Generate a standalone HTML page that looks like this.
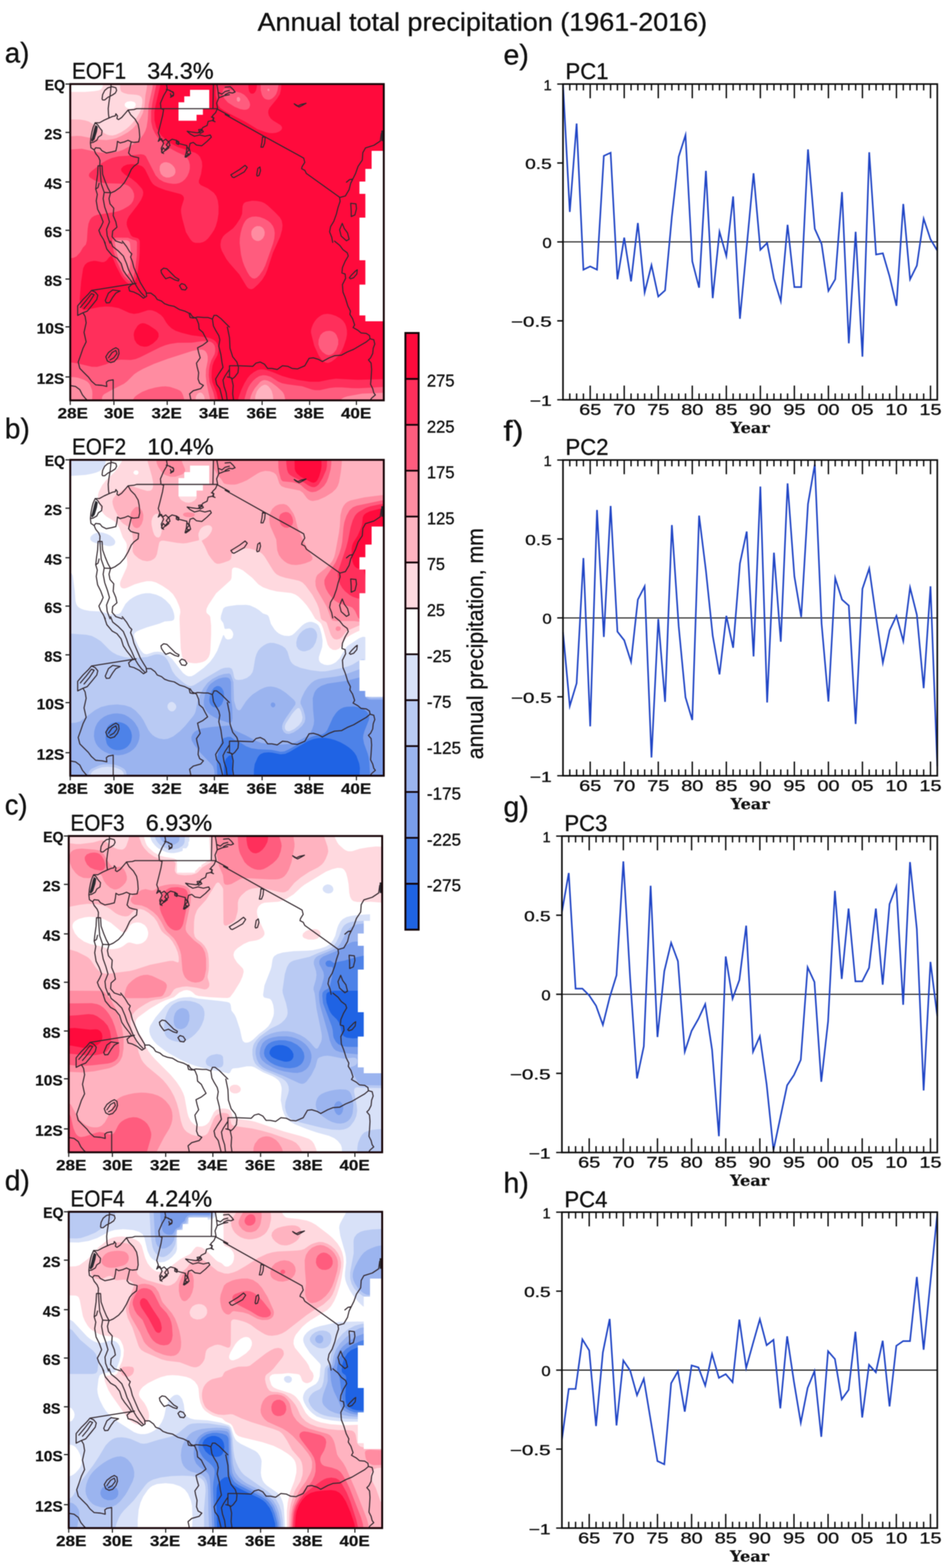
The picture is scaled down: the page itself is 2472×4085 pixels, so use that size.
<!DOCTYPE html>
<html lang="en">
<head>
<meta charset="utf-8">
<title>Annual total precipitation (1961-2016) – EOF patterns and principal components</title>
<style>
html,body{margin:0;padding:0;background:#fff}
body{width:2472px;height:4085px;overflow:hidden}
svg{display:block}
text{white-space:pre}
</style>
</head>
<body>
<svg width="2472" height="4085" viewBox="0 0 2472 4085">
<rect width="2472" height="4085" fill="#fff"/>
<filter id="soft" x="0" y="0" width="2472" height="4085" filterUnits="userSpaceOnUse" color-interpolation-filters="sRGB"><feGaussianBlur stdDeviation="1.1"/></filter>
<g filter="url(#soft)">
<rect width="2472" height="4085" fill="#fff"/>
<defs>
<clipPath id="mapclip"><rect x="0" y="0" width="816.7" height="824"/></clipPath>
</defs>
<g transform="translate(183.0,219.0) scale(1.00000,1.00000)">
<g clip-path="url(#mapclip)">
<rect x="-2" y="-2" width="830" height="830" fill="#fff"/><path fill="#ffd9df" fill-rule="evenodd" d="M84.8 -6L822 -6L822 828L-6 828L-6 20.5L38 20.4L62 18.4L74 16.4L79.5 14L83.1 10L84.7 4ZM148 45.9L142.8 50L141.7 54L142.9 58L147.2 62L154 64L160 63.8L166 61.8L169.7 58L170.6 52L168.2 48L166 46.4L158 44.4Z"/><path fill="#ffb3c0" fill-rule="evenodd" d="M129.5 -6L822 -6L822 828L-6 828L-6 92L26 92.4L38 94.5L48 97.6L62 105.9L88.8 128L96 131.8L102 133.6L110 134L118.8 132L131.9 126L144 118.2L154 110L163.4 100L172 88.5L180 75.6L184 66.7L186 59.5L187.7 48L187.6 40L185.4 34L180 29.9L172 28.1L150 26.2L140 23.6L134 20.4L132 17.9L130.2 12Z"/><path fill="#ff8ca1" fill-rule="evenodd" d="M200.5 -6L822 -6L822 828L529.3 828L528.1 812L525 800L521.6 794L516 787.2L512 784.4L508 783.3L504 783.8L498 787L492 792.4L486.4 800L482.1 812L480.8 828L350.3 828L349.9 818L348 811.6L344 805.9L340.9 804L338 803.5L332 806.4L328.2 812L326.7 818L326.2 828L-6 828L-6 136.7L18 135.1L28 135.4L76 145.1L94 145.9L110 143.6L120 140.9L134 134.8L150 125.7L162.5 116L171.5 106L182.9 88L188.9 76L193.5 58L195.7 30L199.7 8Z"/><path fill="#ff5c7e" fill-rule="evenodd" d="M215.6 -6L822 -6L822 804.1L760 806.5L722 813.6L714 815.9L707 820L704.2 824L704.2 828L560 828L559.6 820L557.5 810L554.5 804L551.1 800L538 787.9L524 777.6L514 772.5L506 771.1L500 772.5L494.7 776L481 792L475 802L470.7 812L467.8 822L467.6 828L364.1 828L363.4 818L355.1 780L353 760L353.5 744L358.1 720L358.1 710L356 702L352.1 696L348 693.2L342 691.7L332 692.4L318 695.2L254 715.8L218 729L190 741.7L176 749.4L166.5 756L148 774.4L140 780.7L110 795.7L88.2 808L84.6 812L82.9 816L82.1 828L56.7 828L57.7 806L57 798L51.6 784L48 778.7L44 774.9L36 770.4L20 765L10 763.5L-6 762.9L-6 170.8L30 168.4L74 178.1L92 179.4L110 178.3L124 176L136 172L158 160.6L174 150.3L182.7 142L190 132.2L195.5 122L198.9 112L201.9 92L204.1 54L214.1 10ZM244 203.9L236.8 208L233.3 214L232.7 224L236 234L242 240.3L250 243.4L258 243.5L267.2 240L271.6 236L274.1 230L273.5 222L270.5 216L264.9 210L258 205.6L250 203.4ZM436 33.7L433.9 36L433.7 42L436 45.4L438 46.1L440 45.7L442.7 42L442.7 38L440 33.9ZM486 370L480 372.7L474.5 378L471.8 384L471.5 392L473.9 400L478 405.1L484 408.3L490 408.9L496 407L502 401.7L505.9 394L506.7 386L504.2 378L500 373.3L494 370.2ZM516 11.7L514 13.1L513.5 16L516 18.5L518 17.9L518.9 16L518 12.6ZM120 407.1L118 408L116.6 410L116.2 414L119.9 434L124 449.7L140 488.2L144 494.6L148 496.6L150 495.6L152.9 490L156 470L157.7 436L155.4 414L153.5 410L148 407L128 406.4ZM237.7 788L248 787.4L260 789L278 795L286 798.8L290 802.7L293.6 810L296.4 820L296.9 828L162.9 828L163.3 822L168 815.1L174.1 810L187 802L204 795.2L222 790.6Z"/><path fill="#ff2f5b" fill-rule="evenodd" d="M224.2 -6L496 -6L496.1 16L499.2 28L502.4 34L506 37.7L510 39.8L516 41L521.6 40L526 37.6L532 32.1L536.5 26L540 15.8L542.4 2L542.6 -6L822 -6L822 788.7L752 792.5L734 792.3L708 790.2L690 790.2L676 791.7L650 797.4L638 797.6L630 796.1L604 787.3L566 782.3L552 779.4L542 775.3L522 762.6L510 759L502 758.5L492 761.1L484 765.9L476 773.1L468.8 782L464 790L459.8 800L453.9 820L453.3 828L376.9 828L376.5 820L373 804L362.5 776L360.8 758L361.5 744L363.5 732L367.4 720L376 703.7L377.6 696L377.5 688L376 681.4L372 675.4L366 671.6L356 669.4L344 669.8L316 673.8L280 673.9L260 676.9L248 680.3L234 685.7L182 711.7L170 716.6L158 718.8L132 717.9L122 718.9L114 721.3L92 730.6L70 736.7L56 736.6L18 727.6L4 725.6L-6 725.3L-6 454.1L8 452.8L16 449.2L26 438.3L33.1 426L40.8 418L43.3 408L45.3 378L47.4 364L51.2 354L56 347.8L62 343.7L70 340.7L116 333.6L128 330.3L137.9 326L151.7 318L158.8 312L163.9 304L166.5 294L166 285.4L162.1 276L156 268.5L150 264.2L142 261.3L132 259.6L90 258.3L74 255.3L62 250.1L52 244L50 242L48.3 238L50 232.4L56 226.5L82.3 206L94 199L108 192.7L126 188.2L150 186.7L184 182.8L192 184.2L196.8 188L222.4 238L232 248.2L244 254.9L256 258.3L268 260L276 259.8L284 258L292 254L299 248L304.9 240L309.3 230L311.5 220L311.5 210L309 200L304.4 192L297.4 186L278 177.3L266 170.8L254 163.6L244 156.3L235.3 148L227.1 138L220.6 128L214.8 116L210.7 98L210.7 72L213.8 50L223.7 4ZM402 11.3L399.1 14L397.3 18L396.2 24L396.5 28L401.8 38L410.4 48L428 59.3L442 65L452 66.9L458 66.8L462 65.6L466 62.3L468.4 56L468.3 52L466.7 46L461 36L453.4 28L444 22.8L428 18.4L410 11.6L406 10.7ZM474 345.6L466 348.2L460.1 352L456 356.5L451.6 364L447.6 374L443.8 388L441.6 402L441.2 414L444.7 444L449.1 462L453.6 474L461.3 490L467.5 500L474 505.8L480 506.9L486 504.5L492.8 498L502 484.8L508 472.8L528.1 416L531.6 402L532.7 388L531.2 378L528 370L522.1 362L516 356.7L506 351L494 346.4L484 344.9ZM666 643.8L658 647.4L651.6 654L647 666L646.4 678L650 688.9L656.8 698L666 704.6L672 706.3L676 706.1L681.6 704L686 700.8L693 692L698 678L698.1 666L693.7 654L690 649.1L686.1 646L681.9 644L676 642.7ZM118 400L114 401L110.3 404L108.7 410L112.6 434L119.8 458L132.2 486L140 500L152 511.5L156 513.4L158 513.4L162 510.1L164 505.8L169 484L173.5 446L173.9 412L172 408.4L170 407.2L162 405.2L150 400.2Z"/><path fill="#ff0a3c" fill-rule="evenodd" d="M234.9 -6L380.2 -6L378.6 22L379 30L385.1 54L390 62L406 72.5L455.8 98L488 117.8L508 125.1L518 127.4L526 128L536 126.9L544 124.1L549.4 120L551.6 116L551.5 112L548 107L528 94.8L522 89.6L517.3 82L515.6 74L516.4 68L519.1 62L538.8 38L546.2 26L548.9 14L550.3 -6L822 -6L822 768.5L748 770.5L692 767.6L676 769.7L648 775.4L624 775.4L592 770.8L570 765.7L552 760.4L528 750.7L512 745.3L504 743.4L496 743.2L488 745.1L478 750.4L468.5 758L461.8 766L453.4 780L445 798L438.1 818L437 828L384.8 828L384.4 820L381.1 804L370 776.2L368.1 764L368.5 748L370.4 734L374 723.3L383.5 706L385.8 694L385.5 686L383.5 678L379.9 672L374 666.7L366 662.7L358 660.3L316 654.4L290 648.1L274 642.5L264 636.4L256 629.1L250.5 622L242.1 608L236 601.4L224.8 594L214 589.7L208 588.9L202 589.2L178 597L166 598.7L154 596.2L126 583.5L108 580.2L92 579.6L76 580.9L38 588.6L34 588.2L30 585.2L26.2 574L24.6 560L28.4 514L33.6 480L38 471.1L44 465.6L52 462.2L62 460.5L68 460.9L82 464L88 463.8L94 460.6L102 450.5L106 447.8L108 448.6L110 451.3L119.4 474L133 500L138.6 508L146 516.1L154 521.5L158 522.1L162 521.1L167.2 516L171.5 506L175.7 488L179.5 458L181 436L181.1 410L180 405.9L176.7 402L162.9 398L158.1 394L148.5 372L147.2 366L147.1 360L149.1 352L153.3 344L174.9 316L184.3 302L189.4 290L190.2 282L188.5 276L186.2 272L173.7 258L160 246.8L142 235.7L134.1 228L132.4 224L132.9 220L138.5 214L148 209.7L160 208.5L174 209.6L186 213.5L190 216.4L194.7 222L210 253.1L215 260L220 264.3L230 269.6L248 276.3L286 286.3L290 288.1L294 291.4L296 296L296.1 300L289.8 320L288.4 328L288.9 336L291.6 350L301.4 386L311.1 402L316 408.3L320 411.8L326 413.7L338 413.7L346 411.7L352.7 408L359.2 402L368.2 390L374.7 380L379.2 370L383.2 356L386.2 338L386.3 318L384.5 304L380.4 292L374 283.3L358 271.4L340 263.3L335.3 258L335 252L340.8 234L343.8 214L343 202L338.1 190L333.1 184L326 179.2L280 163.9L268.1 158L256 150.3L246 142.7L237.3 134L229.9 124L224 112.4L219.5 94L219.2 74L222 56.4L234.3 4ZM474 303.9L458 306.9L454 309.1L451.2 312L448.8 318L447.6 338L442.8 350L432.3 366L424 375.9L404 391L398 397L393.2 406L391.2 418L392.1 426L394.7 434L406.7 456L414 465.7L440.5 496L460 528.2L464 532.3L470 534.6L474 533.9L478 531.9L489.2 522L500 509.7L508.4 496L513.4 484L528 439.2L546.6 398L551.7 380L553 368L551 356L546 347.2L533.4 334L514 316L506 310.3L498 306.8L486 304.4ZM660 599.8L654 602.3L648 606.2L642 611.5L636.8 618L632.2 626L629 634L627.1 642L627.1 648L635.6 682L647.6 708L654 717.3L660 722.9L666 725.9L672 726.4L680 723.5L690 716.3L698.7 708L705.8 698L712.1 684L718.7 664L720.9 652L720.7 642L718.8 632L715.7 624L710 616L702.9 610L692 604L680 600.1L670 598.6ZM463.6 -6L486.4 -6L486 7L484.1 16L480.6 22L476 25.2L470 24.4L466 19.3L464.2 10ZM183.7 624L188 623L194 623.5L204 627.7L222.5 640L228 646L229.9 650L230.3 658L226.1 666L215.2 676L204 682.5L198 684L192 684.2L182 682L173.4 676L167.3 666L165.3 654L165.9 648L167.8 642L175.1 630L179.7 626Z"/><path fill="#fff" d="M785 174H830V221H785ZM768.7 221H830V254H768.7ZM753.3 254H830V286H753.3ZM768.7 286H830V348H768.7ZM753.3 348H830V459H753.3ZM768.7 459H830V522.5H768.7ZM753.3 522.5H830V602.7H753.3ZM768.7 602.7H830V618H768.7ZM312 15H362V32H312ZM297 32H362V47.5H297ZM282 47.5H362V63.5H282ZM282 63.5H345.5V80H282ZM282 80H329V95.5H282Z"/>
<g fill="none" stroke="#33282e" stroke-width="2.8" stroke-linejoin="round" stroke-linecap="round"><path d="M82.9 38.7L84.3 27.6L89.8 16.6L98.1 9.7L109.1 6.9L118.8 9.7L120.8 16.6L117.4 23.5L109.1 29.0L98.1 34.5L89.8 41.4L84.3 41.4L82.9 38.7M106.4 -2.8L105.6 13.8L103.6 30.4L100.9 47.0L98.9 63.6L99.5 77.4L100.9 88.4M100.9 88.4L110.5 84.3L117.4 82.9L118.8 77.4L123.0 82.9L121.6 89.8L125.7 92.6L134.0 87.0L142.3 77.4L150.6 67.7M150.6 67.7L165.8 66.3L172.7 64.1L237.6 64.1L382.7 64.1M150.6 67.7L157.5 80.1L168.6 91.2L176.8 105.0L179.6 118.8L181.0 138.2L178.2 150.6M178.2 150.6L165.8 152.0L158.9 150.6L150.6 146.5L140.9 150.6L129.9 153.4L123.0 149.2L121.6 161.6L118.8 174.1L107.8 176.8L94.0 179.6L82.9 174.1L77.4 167.2L66.3 165.8L62.2 171.3M158.9 150.6L154.7 168.6L152.0 179.6L157.5 186.5L165.8 189.3L178.2 192.0L176.8 205.9L165.8 214.2L158.9 222.4L150.6 240.4L140.9 257.0L129.9 269.4L116.1 279.1L106.4 283.2L89.8 282.4M100.9 88.4L88.4 94.0L76.0 100.9L64.9 100.9L59.4 113.3L56.6 124.3L53.9 138.2L52.5 153.4L59.4 152.0L69.1 146.5L73.2 138.2L81.5 132.6L82.9 121.6L76.0 113.3L71.8 106.4L64.9 100.9M52.5 153.4L53.9 165.8L62.2 171.3L66.3 181.0L74.1 190.7L77.4 199.0L76.8 212.8M72.4 212.8L82.9 212.8M72.4 212.8L71.3 234.9L68.5 254.2L66.3 273.6L70.5 287.4L67.7 304.0L71.3 326.1L79.6 342.6L85.7 359.2L80.7 370.3L74.6 381.3L78.8 392.4L85.7 403.4L91.2 414.5M82.9 212.8L84.3 234.9L91.2 254.2L98.1 270.8L105.0 283.2L100.9 298.4L103.6 312.2L113.3 323.3L111.9 342.6L118.8 359.2L121.6 373.0L110.5 382.7L109.1 397.9L118.8 409.0L135.4 414.5M77.4 212.8L78.8 234.9L80.7 259.7L88.4 281.9L85.7 298.4L89.8 320.5L96.7 339.9L102.2 359.2L94.5 378.6L96.2 395.1L103.6 414.5M75.2 258.4L72.4 269.4L66.3 273.6M250.1 -2.8L252.8 13.8L243.2 30.4L234.9 49.7L236.3 64.1L243.2 66.3L240.4 82.9L234.9 105.0L229.3 127.1L233.5 138.2L229.3 149.2M250.1 13.8L259.7 16.6L269.4 23.5L268.6 30.4L261.1 34.5M229.3 149.2L237.6 142.3L243.2 154.7L237.1 167.2L239.0 179.6L245.9 174.1L252.0 165.8L259.7 160.3L257.0 149.2L265.3 143.7L276.3 146.5L281.9 154.7L292.9 157.5L304.0 160.3L302.6 176.8L299.0 190.1L306.7 182.9L313.6 181.0L309.5 165.8L312.2 154.7L320.5 152.0L328.8 158.9L342.6 160.8L356.5 149.2L367.5 138.2L364.7 132.6L350.9 136.0L337.1 132.6L323.3 136.0L312.2 129.9L304.5 123.0L315.0 124.9L331.6 127.1L342.6 121.6M382.7 64.9L378.6 74.6L370.3 82.9L373.6 94.0L359.2 97.3L356.5 107.8L345.4 113.3L339.9 121.6L334.4 127.1M381.3 -2.8L384.6 16.6L386.9 35.9L381.3 49.7L384.1 64.9M373.0 -2.8L371.7 64.1M385.5 22.1L395.1 26.3L403.4 19.3L414.5 16.6M386.9 35.9L400.7 30.4L414.5 27.6M382.7 64.9L414.5 82.3M233.5 140.9L240.4 149.2L248.7 143.7L255.6 150.6L250.1 158.9L257.0 165.8L248.7 172.7L241.8 165.8L237.6 176.8L243.2 181.0M304.0 163.0L309.5 171.3L302.6 179.6L310.9 183.8L301.2 190.7M276.3 146.5L283.2 150.6L281.9 157.5L276.3 154.7L276.3 146.5M334.4 118.8L342.6 117.4L346.8 124.3L338.5 128.5L334.4 118.8M367.5 85.7L374.4 88.4L370.3 95.3L377.2 98.1M259.7 18.0L268.0 20.7L269.4 27.6L262.5 31.8L261.1 24.9M403.3 79.2L502.2 134.7L598.5 187.5L608.1 193.0L610.9 204.0L604.0 215.0L602.6 220.5L610.9 224.7L615.0 232.9L701.6 294.8M500.9 137.5L507.7 138.9L506.4 154.0L502.2 164.4L496.7 164.4L499.5 151.2L500.9 137.5M422.5 242.5L418.4 236.5L425.2 232.4L441.7 222.2L455.5 211.7L461.0 217.2L453.3 228.8L436.8 238.1L426.6 243.6L422.5 242.5M485.7 237.0L488.5 220.0L494.0 215.9L495.6 225.5L491.8 238.1L487.1 239.8L485.7 237.0M583.4 51.4L593.0 56.9L601.8 52.8L614.2 50.0L604.5 55.5L596.3 59.7L588.0 55.5L583.4 51.4M403.3 8.2L417.0 6.9L423.9 13.7L429.4 20.6L422.5 23.4L414.2 22.0L403.3 27.5M818.5 118.2L810.2 129.2L807.5 148.5L791.0 159.5L769.0 166.4L762.1 178.7L760.7 198.0L749.7 214.5L742.9 233.7L736.0 247.5L730.5 258.5L726.4 275.0L716.7 291.5L701.6 295.6L703.0 305.2L697.5 321.7L693.4 338.2L686.5 357.5L678.2 371.2L675.5 385.0L681.0 398.7L683.7 412.5M730.5 310.7L744.2 312.1L745.6 324.5L741.5 341.0L731.9 345.1L731.9 330.0L730.5 310.7M708.5 363.0L714.0 376.7L722.2 387.7L726.4 404.2L719.5 408.4L705.7 396.0L701.6 379.5L708.5 363.0M719.5 255.7L727.7 248.9L734.6 247.5M88.4 409.2L95.3 430.0L109.1 446.5L121.6 453.4L132.6 467.3L138.2 485.2L146.5 497.7L157.5 511.5L164.4 521.1M135.4 409.2L146.5 423.1L154.7 436.9L160.3 442.4L157.0 450.7L161.6 461.7L165.8 478.3L174.1 497.7L182.4 517.0L190.7 530.8L197.6 541.9L199.0 552.9L190.7 557.9L179.6 548.8L165.8 541.9L154.7 539.1L152.0 529.4L160.3 522.0L171.3 519.2M105.0 409.2L110.5 423.1L124.3 434.1L138.2 447.9L146.5 467.3L152.0 483.8L160.3 500.4L168.6 519.8L176.8 533.6L185.1 544.6L193.4 552.9M171.3 519.2L55.3 537.7M19.3 602.7L19.3 577.8L33.2 561.2L47.0 547.4L55.3 537.7L64.9 541.9L71.8 550.2L69.1 561.2L58.0 575.0L44.2 591.6L33.2 595.8L19.3 602.7M26.3 581.9L41.4 564.0L55.3 546.0L62.2 548.8L49.7 568.1L35.9 584.7M91.2 564.0L99.5 544.6L110.5 536.3L129.9 539.1L118.8 544.6L110.5 555.7L102.2 569.5L94.0 570.1L91.2 564.0M236.3 485.2L243.2 479.7L251.5 481.1L262.5 492.1L273.6 503.2L283.2 508.7L281.9 512.9L272.2 510.1L259.7 503.2L248.7 507.3L243.2 500.4L237.6 492.1L236.3 485.2M284.6 525.3L290.1 519.8L298.4 522.5L304.0 530.8L299.8 536.3L290.1 535.0L284.6 525.3M199.0 544.6L210.0 544.6L221.1 552.9L226.6 561.2L237.6 565.4L245.9 572.3L257.0 576.4L270.8 579.2L284.6 587.5L298.4 591.6L309.5 597.1L312.2 608.2L320.5 609.6L331.6 606.8L348.2 608.2L359.2 608.2L370.3 612.3M312.2 597.1L317.8 605.4L328.8 611.0L334.4 624.8L335.7 638.6L345.4 646.9L350.9 657.9L357.8 670.4L345.4 680.0L331.6 686.9L334.4 699.4L338.5 713.2L328.8 727.0L330.2 735.3L334.4 751.9L333.0 768.5L337.1 779.5L346.8 785.0L339.9 793.3L320.5 798.9L310.9 807.1L315.0 826.5M370.3 612.3L373.0 630.3L378.6 641.3L386.9 655.2L389.6 666.2L386.9 682.8L392.4 704.9L395.1 724.2L397.9 738.1L386.9 754.6L378.6 768.5L381.3 782.3L389.6 793.3L393.8 809.9L397.9 826.5M370.3 612.3L374.4 602.7L381.3 602.7L392.4 611.0L403.4 622.0L414.5 633.1M414.5 743.6L403.4 760.2L397.9 771.2L400.7 787.8L406.2 804.4L409.0 826.5M92.6 710.4L99.5 699.4L110.5 691.1L118.8 686.9L125.7 691.1L127.1 702.1L123.0 713.2L114.7 722.9L105.0 725.6L96.7 721.5L92.6 710.4M99.5 713.2L109.1 699.4L118.8 693.9L121.6 702.1L113.3 713.2L103.6 718.7M33.2 595.8L38.7 605.4L41.4 622.0L35.9 646.9L41.4 671.7L33.2 688.3L27.6 704.9L20.7 724.2L24.9 740.8L35.9 751.9L47.0 762.9L55.3 774.0L66.3 783.7L82.9 785.0L95.3 787.8L94.0 776.7L99.5 772.6L111.9 770.4L111.9 826.5M-2.8 785.0L13.8 787.8L24.9 796.1L31.8 809.9L38.7 818.2L47.0 826.5M688.3 409.2L702.1 420.3L710.4 431.3L721.5 439.6L724.2 447.9L716.0 461.7L709.0 478.3L707.7 492.1L716.0 494.9L717.3 506.0L709.0 522.5L710.4 541.9L716.0 555.7L718.7 564.0L722.9 577.8L729.8 591.6L728.4 599.9L735.3 611.0L740.8 627.5L736.7 634.4L749.1 641.3L757.4 648.3L771.2 649.6L779.5 655.2L780.9 663.5L790.6 666.2L793.3 677.3L789.2 688.3L787.8 702.1L782.3 713.2L776.7 718.7L783.7 727.0L785.0 743.6L783.7 765.7L782.3 782.3L787.8 793.3L790.6 804.4L794.7 809.9L785.0 818.2L779.5 826.5M727.0 504.6L732.5 497.7L743.6 486.6L747.7 483.8L746.4 494.9L738.1 504.6L729.8 507.3L727.0 504.6M780.9 663.5L771.2 671.7L754.6 681.4L738.1 691.1L721.5 698.0L706.3 706.3L688.3 707.7L674.5 713.2L656.5 722.9L646.9 717.3L633.1 713.2L622.0 714.6L616.5 724.2L611.0 733.9L591.6 742.2L577.8 740.8L566.7 735.3L552.9 733.9L539.1 743.6L525.3 740.8L514.2 740.8L506.0 729.8L494.9 724.2L483.8 727.0L475.6 735.3L439.6 733.9L414.8 733.9M409.2 633.1L414.8 660.7L416.1 688.3L423.1 710.4L434.1 724.2L438.3 738.1L436.9 751.9L428.6 762.9L421.7 768.5M414.8 733.9L414.8 762.9L421.7 768.5M409.2 762.9L420.3 765.7L424.4 785.0L423.1 807.1L425.8 826.5"/><path d="M65.8 106.4L71.8 111.1L69.6 124.3L63.6 143.7L56.9 150.9L54.7 146.5L59.1 129.9L62.4 116.1ZM810.2 121.0L818.5 121.0L818.5 148.5L810.2 148.5Z" fill="#2a2a30" stroke="none"/></g>
</g></g>
<rect x="183.0" y="219.0" width="816.7" height="824.0" fill="none" stroke="#160306" stroke-width="5"/>
<path d="M183.0 1043.0v12M296.8 1043.0v12M435.6 1043.0v12M558.5 1043.0v12M682.8 1043.0v12M806.5 1043.0v12M928.4 1043.0v12M183.0 219.0h-12.5M183.0 345.0h-12.5M183.0 474.0h-12.5M183.0 600.0h-12.5M183.0 727.0h-12.5M183.0 851.5h-12.5M183.0 982.0h-12.5" stroke="#1a1a1a" stroke-width="2.8" fill="none"/>
<text x="189.5" y="1090.3" font-size="38.5" font-family='"Liberation Sans", Arial, Helvetica, sans-serif' fill="#111" text-anchor="middle" font-weight="bold" stroke="#111" stroke-width="0.5" textLength="79.0" lengthAdjust="spacingAndGlyphs">28E</text>
<text x="310.2" y="1090.3" font-size="38.5" font-family='"Liberation Sans", Arial, Helvetica, sans-serif' fill="#111" text-anchor="middle" font-weight="bold" stroke="#111" stroke-width="0.5" textLength="79.0" lengthAdjust="spacingAndGlyphs">30E</text>
<text x="434.1" y="1090.3" font-size="38.5" font-family='"Liberation Sans", Arial, Helvetica, sans-serif' fill="#111" text-anchor="middle" font-weight="bold" stroke="#111" stroke-width="0.5" textLength="79.0" lengthAdjust="spacingAndGlyphs">32E</text>
<text x="557.5" y="1090.3" font-size="38.5" font-family='"Liberation Sans", Arial, Helvetica, sans-serif' fill="#111" text-anchor="middle" font-weight="bold" stroke="#111" stroke-width="0.5" textLength="79.0" lengthAdjust="spacingAndGlyphs">34E</text>
<text x="681.5" y="1090.3" font-size="38.5" font-family='"Liberation Sans", Arial, Helvetica, sans-serif' fill="#111" text-anchor="middle" font-weight="bold" stroke="#111" stroke-width="0.5" textLength="79.0" lengthAdjust="spacingAndGlyphs">36E</text>
<text x="805.0" y="1090.3" font-size="38.5" font-family='"Liberation Sans", Arial, Helvetica, sans-serif' fill="#111" text-anchor="middle" font-weight="bold" stroke="#111" stroke-width="0.5" textLength="79.0" lengthAdjust="spacingAndGlyphs">38E</text>
<text x="927.7" y="1090.3" font-size="38.5" font-family='"Liberation Sans", Arial, Helvetica, sans-serif' fill="#111" text-anchor="middle" font-weight="bold" stroke="#111" stroke-width="0.5" textLength="79.0" lengthAdjust="spacingAndGlyphs">40E</text>
<text x="169.5" y="234.5" font-size="38.5" font-family='"Liberation Sans", Arial, Helvetica, sans-serif' fill="#111" text-anchor="end" font-weight="bold" stroke="#111" stroke-width="0.5" textLength="53.0" lengthAdjust="spacingAndGlyphs">EQ</text>
<text x="161.5" y="362.5" font-size="38.5" font-family='"Liberation Sans", Arial, Helvetica, sans-serif' fill="#111" text-anchor="end" font-weight="bold" stroke="#111" stroke-width="0.5" textLength="46.0" lengthAdjust="spacingAndGlyphs">2S</text>
<text x="161.5" y="491.5" font-size="38.5" font-family='"Liberation Sans", Arial, Helvetica, sans-serif' fill="#111" text-anchor="end" font-weight="bold" stroke="#111" stroke-width="0.5" textLength="46.0" lengthAdjust="spacingAndGlyphs">4S</text>
<text x="161.5" y="617.5" font-size="38.5" font-family='"Liberation Sans", Arial, Helvetica, sans-serif' fill="#111" text-anchor="end" font-weight="bold" stroke="#111" stroke-width="0.5" textLength="46.0" lengthAdjust="spacingAndGlyphs">6S</text>
<text x="161.5" y="744.5" font-size="38.5" font-family='"Liberation Sans", Arial, Helvetica, sans-serif' fill="#111" text-anchor="end" font-weight="bold" stroke="#111" stroke-width="0.5" textLength="46.0" lengthAdjust="spacingAndGlyphs">8S</text>
<text x="167.5" y="869.0" font-size="38.5" font-family='"Liberation Sans", Arial, Helvetica, sans-serif' fill="#111" text-anchor="end" font-weight="bold" stroke="#111" stroke-width="0.5" textLength="72.0" lengthAdjust="spacingAndGlyphs">10S</text>
<text x="167.5" y="999.5" font-size="38.5" font-family='"Liberation Sans", Arial, Helvetica, sans-serif' fill="#111" text-anchor="end" font-weight="bold" stroke="#111" stroke-width="0.5" textLength="72.0" lengthAdjust="spacingAndGlyphs">12S</text>
<text x="187.5" y="204.7" font-size="59" font-family='"Liberation Sans", Arial, Helvetica, sans-serif' fill="#111" stroke="#111" stroke-width="0.8" textLength="141.0" lengthAdjust="spacingAndGlyphs">EOF1</text>
<text x="383.5" y="204.7" font-size="59" font-family='"Liberation Sans", Arial, Helvetica, sans-serif' fill="#111" stroke="#111" stroke-width="0.8" textLength="173.0" lengthAdjust="spacingAndGlyphs">34.3%</text>
<text x="12.5" y="163.0" font-size="75" font-family='"Liberation Sans", Arial, Helvetica, sans-serif' fill="#111" stroke="#111" stroke-width="0.8" textLength="64.0" lengthAdjust="spacingAndGlyphs">a)</text>
<g transform="translate(183.0,1198.0) scale(1.00000,0.99879)">
<g clip-path="url(#mapclip)">
<rect x="-2" y="-2" width="830" height="830" fill="#fff"/><path fill="#ffd9df" fill-rule="evenodd" d="M136 -6L822 -6L822 426.3L784 426.4L776.9 428L768 439.1L743.4 450L728 458.2L720 463.7L714 470.9L706.6 486L700 492.5L692 496.1L684 495.5L676 490.3L670.5 482L658.8 440L653.9 428L650 423.4L638 414.6L628 396.9L616.3 380L606 368L594 356.4L586 351.2L576 347.5L538 343.2L520 338.9L502 332.3L490 324.7L474 307.6L449.5 288L438 282.6L430 280.9L426 281.1L423.8 282L421.2 286L420.1 308L417.7 314L380.1 348L360 378.2L355.2 388L354.3 394L354.8 398L356 400.2L362.6 406L364.7 410L366.9 432L366.9 456L365 496L363.6 506L360.7 514L356.4 520L352 523.8L346 526.9L338 529.2L328 530.6L320 530.5L308 528.6L300 525.5L294.4 520L291.5 514L287.8 492L284.6 416L284.9 408L286.8 398L286.2 390L283.1 380L276.1 364L267.2 350L256 339.5L240 328.7L223.6 320L212 316.6L200 316.5L186 319.4L168 324.7L148 333.6L142 335.3L138 335.3L134 333.8L131.9 332L129.9 328L129.6 322L131.1 316L146.4 282L148.6 274L148.5 266L145.4 246L147.4 228L147.1 220L144.7 214L136.7 202L128.2 178L122 167.3L114 159.7L94 147.8L87.8 142L81.9 134L78.1 126L75.7 118L72.5 104L71.8 96L72.5 90L75 82L83.2 66L92.5 54L116 31L121.8 24L134.4 4L136 0ZM168 27.9L164.6 32L164.5 34L166 36.9L170 39.1L174 38.7L176 37.5L178 34L177.1 30L174 27.6Z"/><path fill="#ffb3c0" fill-rule="evenodd" d="M200.8 -6L822 -6L822 422.1L782 422.2L774 423.7L764 429.2L750 433.1L722 445.6L716.9 450L707.9 462L702 466.7L694 468.9L688 467.6L683.5 464L678.5 456L668 425L664.9 422L656.6 418L653.1 414L648 388.4L642.4 374L630.5 352L612.9 328L604.9 320L596 315.3L560 307.5L546 303.1L538 298.8L532.8 294L528.2 288L506 252L500 245.1L494 240.5L483.9 236L468 231.6L458 230.7L448 232L428 236.8L424 238.8L421 244L419 258L414 262.9L398 268.7L388 271.2L382 271L376 267.8L368 258.6L360 247.3L350.5 226L342.5 212L343.7 210L353.7 204L358.4 200L364 193.3L368 186.5L369.7 180L369 176L366 172.4L362 170.8L356 170.7L348 173.1L342 177.3L338.1 182L334 192L333.8 198L335.7 208L334.2 210L304 216.9L294 218.1L278 216.6L244 210.8L238 210.8L234 212.8L231.7 216L225.8 246L222.2 254L218 258.4L210 262.7L200 264.5L188 262.3L178 257L167.7 248L164 242.6L162.3 238L163.8 210L162.1 196L159.4 186L156.1 180L152 175.3L137.2 166L131.6 160L114.5 128L110.7 116L109.8 108L112.2 100L118.9 92L146 72.3L152 69.4L156 68.8L162 69.5L200 81L208 80.6L212.1 78L214.6 74L215.6 70L215.8 58L212.4 42L201.5 4ZM222 141.2L216.7 146L213.5 152L211.6 160L211.9 170L215.3 186L219.1 196L224 201.5L230 202.7L232 201.7L235 198L238 188L239 174L238 158L235.6 148L232 142.5L228 140.3ZM290 89.7L285.1 92L283.8 94L284 98L286.5 102L290.5 106L300 110.8L308 111.8L316 110.4L324.2 106L328.9 100L329.3 98L328 94.7L322 91.6L302 89.5Z"/><path fill="#ff8ca1" fill-rule="evenodd" d="M223.8 -6L290.1 -6L290.1 0L291.4 6L299 24L299.3 28L298.1 32L294.3 36L290 38.6L274 44.1L262 44.3L250 40.6L244 37L238.4 32L229 18L225.1 8ZM371 -6L707.5 -6L707.4 6L705.1 30L700.3 58L696.8 68L692 75.8L682 85.4L664 96.7L646 104.6L632 107.4L626 106.5L620 103.3L616 99.4L606 85.8L598 80.2L560 72.7L550 68.5L544.8 62L538.9 44L536 38.3L530 33.2L520 29.8L508 28.9L496 31.6L488 35.5L460 53.3L448 58.6L434 63.5L428 64.5L418 64.5L408 63.7L402 62.2L399 60L394 51.6L384 39.9L374.8 24L371.7 12ZM810.8 92L822 91.6L822 418.9L780 419L764 422.6L758 423.1L740 420.6L692 420.5L684 419.2L682 417.9L679.1 414L668.6 384L642.2 338L639.1 328L638.5 316L640.5 306L643.7 300L665.8 282L676 272.4L682.5 264L687.3 254L690 244L700 189.7L702.2 172L703.9 144L708 128L712 120L716.7 114L722 109.7L730 105.9L766 97.9ZM545.6 116L556 115.2L564.1 118L570.5 124L581.4 140L586.3 152L591.4 174L599.1 194L621.1 238L631 254L630.5 260L626 264.2L612 269.8L600 272.8L588 274.3L576 273.3L566.1 270L558 264.9L550 257.2L543.4 248L539.1 236L536.6 208L521.5 174L519 164L518.2 154L520.4 140L526 128.2L534 120.6L540 117.6ZM169.4 124L172 122.7L176 122.4L182 125.9L187.7 134L190.5 144L189.8 156L186 167.4L180 175.7L174 178.2L168 176.8L163.3 172L159.9 164L156.5 148L156.9 142L159.2 136L164 129.1ZM298.7 138L306 137L318 138.1L322.5 140L324.2 142L324.4 144L322 147.2L318 148.9L310 149.7L302 148.9L296 146.4L293.9 144L293.8 142L295.1 140ZM697.2 434L702 435.1L704.6 438L705.1 440L703.6 444L698 446.5L694 445.7L691 442L692 437.2L694 435.1Z"/><path fill="#ff5c7e" fill-rule="evenodd" d="M541.5 -6L680.6 -6L679.8 12L678 26L672.4 46L667.7 58L661 68L650 77.6L640 82.9L630 84.4L624 83.1L618 80L610 74.3L600 65.2L594 62L578 58.4L554 56L551.2 54L548.6 50L543.7 32L542.2 20ZM811.6 106L822 105.4L822 414.7L780 414.7L764 416.8L758 416.6L754 415.5L749.9 412L741.8 394L735.4 386L730 383.2L708 376.6L698 372.6L690 367.6L681.8 360L672.4 348L665.7 336L662.1 324L662 314L665.4 306L690.8 268L701 244L705.7 228L708.4 214L711.7 176L714 162.6L719.5 146L727.3 132L736 124L746 119.7ZM561.6 136L568 137.2L574 141.9L578 148.9L580.4 158L580.3 164L578 170L572 175.3L566 177.4L558 176.5L550.8 172L546.9 166L544.1 156L544.4 148L547.4 142L554 137.6Z"/><path fill="#ff2f5b" fill-rule="evenodd" d="M562.3 -6L669.2 -6L668.5 16L666.7 26L657 48L647.1 64L642 68.6L638 70.6L634 71.3L628 70.4L620 66.7L604 55.8L580 44.1L572 39L567.7 34L564.9 26L562.9 10ZM807.1 116L822 114.7L822 365.1L780 364.1L758 362.8L748 361.2L736 357.3L728 352.7L716 342.8L708.3 334L702.6 324L698.4 312L696.8 300L697.8 290L719 228L723.1 212L730.3 176L735.7 158L741.6 146L746 140.4L751.3 136L770 125.4L782 121.2Z"/><path fill="#ff0a3c" fill-rule="evenodd" d="M584 -6L654.1 -6L654.6 16L652.8 28L648 44L644 52.2L640 57.3L634 59.9L628 58.6L600 44L590.7 36L586.7 30L584.8 24ZM804.8 128L816 126L822 126L822 352.9L786 353.7L776 351.3L771.6 346L770.2 338L767.6 300L765 288L763.6 286L760 284.2L752 284.1L746 282L741.3 278L737.5 272L734.8 264L733.1 254L732.9 232L734.3 224L737.2 216L748.5 198L757.3 178L760.1 168L762 150L764.8 144L770 139.3L780 134.3Z"/><path fill="#d8e1f8" fill-rule="evenodd" d="M-6 -6L92.7 -6L92.1 8L89.6 16L84 23.4L76 29.6L68 33.1L56 36.4L40 39.3L-6 42.5ZM69.6 190L78 189.1L86 190.2L96 193.5L104 197.6L111.9 204L116 209.4L117.4 214L116 219.3L113.4 222L110 223.7L104 224.9L98 224.8L66 216.9L58 213.8L54 210.5L52.4 208L52.5 202L55.2 198L59.9 194ZM-6 294L-6 293.3L1.1 294L4 296.6L6.5 302L11.8 342L13.7 368L15.6 376L18 380.5L22 384.6L28 388.3L36 391.3L50 394.1L80 395.5L102 402.7L120 402.9L126 402.2L131.6 398L143.7 376L154 365.5L164 358.7L174 353.7L186 349.6L196 347.8L208 347.9L224 351.7L237.6 358L248 365.6L260 378.2L266.6 390L269.9 400L271.3 408L271.1 414L268.9 418L264 420.1L246 421.4L232 427.3L200 436.8L180.5 444L172.5 448L167.9 452L166.1 456L166.5 462L178.4 488L184.8 498L190 504L194 506.3L200 507.1L218 501.2L228 500.3L236 501.2L246 504.7L256.9 512L265.6 520L293.8 556L302 562.3L308 564.7L316 564.4L324 560.3L348 542.4L364 527.1L373.7 514L382.9 498L398 458.1L400 456.9L404.7 466L410 468.7L418 467.6L422.4 464L424.7 456L424 451.3L421.6 446L418 441.9L414 440.1L404 441.1L402 440L398.8 426L393.1 418L391.8 414L392.8 406L398.5 388L403.3 384L412 381.7L434 378.8L458 378.2L468 379.8L482 385.9L492 392.2L502 400.8L512 403.9L515.1 406L517.5 410L522.7 428L532 442.4L538 448.8L544 453.2L550 456.3L558 458.9L570 459.5L578 457.1L584 452.3L604 432L610 427.4L616 424.4L622 422.7L628 422.5L634 423.9L642 427.7L646.6 432L650.6 440L654.9 456L657.3 472L656.2 488L647.7 514L647.7 522L649.3 526L652.8 530L662 534.4L670 535.3L678 534.3L684.7 532L691.8 528L702 517.4L716.6 492L722 485.7L752 465.5L762 461.5L768 462L770.8 466L771.8 472L772.1 506L774.9 522L777 550L778.6 576L779.3 610L782 613L786 614L822 613.3L822 828L-6 828Z"/><path fill="#b9caf3" fill-rule="evenodd" d="M623.7 438L630 438.5L634 440.3L638.1 444L641.5 450L642.9 456L642.9 462L639.4 476L632.7 488L624 495.3L612 499.3L606 499.3L600 497.7L594 493.8L589.4 486L588.7 476L591.6 464L597.3 454L605.2 446L614 440.6ZM-6 454L-6 453.2L2 453.3L42 456.3L56 459.4L68 465.6L80 473.4L102 495.7L110 502.2L122 508.5L142 514.8L154 516.5L168 516.7L200 514.4L218 508.5L224 507.4L232 507.7L240 509.8L246.6 514L252 520.3L258 531.5L266 551.1L274 562.6L282 570.5L298 583.7L306 588.5L312 590.1L318 589.5L324 587L348 571.6L392 546L398 543.6L404 542.4L414 541.8L420 544.1L422 547.2L424.3 554L427.1 568L429.6 572L432 573.5L438 574.1L448 573.3L460 569L469.3 562L474.8 554L477 546L482 516.6L485.3 506L489.3 498L496 490.1L503.9 484L512 479.6L520 477.4L530 477.6L542 481L552 485.3L560 491.1L565.9 500L570.9 518L574 525.4L578 531L584 535.9L600 542.6L626 548.6L652 551.9L664 551.7L672 550.5L710 542.5L724 538.7L736 533.6L755 522L760 520.1L764 519.9L766 521.2L768 525.4L769.1 536L771.8 548L774.4 576L774.4 608L775.9 614L780 617.2L786 618.2L822 617.6L822 828L140 828L138.9 816L134 810L126 805.7L116 802.2L98 800.5L82 802L70.2 806L61.7 810L56.6 814L54.2 818L52.9 822L52.7 828L-6 828ZM262 631.5L258 633.4L254.3 638L253.2 642L253.4 646L255 650L258 653.6L262 655.8L266 656.2L270 654.8L274 650.9L276.1 646L276 642L274 637.5L270 633.4L266 631.5ZM592 647.9L586 653L578 662.4L561.3 688L559.1 694L559 700L560.7 704L564 707L568 708.1L572 707.5L583.5 702L595.8 692L603.1 682L605.1 672L602 657.7L598 649.1L596 647.6Z"/><path fill="#9bb4ef" fill-rule="evenodd" d="M754.3 546L762 544.6L764.7 546L766.7 550L771 574L771.1 610L772 614L774 617.4L778 620.1L784 621.3L822 620.8L822 828L146.9 828L146.5 818L144.9 812L142.2 808L138 804.4L128 799.1L118 795.6L110 794.2L98 793.6L86 794.4L76 796.6L56 805.4L52 808.7L48.4 814L45.9 822L45.7 828L-6 828L-6 686.9L14 685.5L26 682.1L64 653.4L80 644.7L100 639.8L122 638.1L142 640.2L158 645.5L170 654L184 669.4L191 680L203.1 704L208.9 712L214.7 718L222 723L232 727.1L244 728.8L254 727.7L268 721.5L285.4 708L299.1 694L320.5 668L324.2 662L326.5 656L331.2 632L337.5 614L346.8 596L357.3 582L370 571.8L386 563.2L400 558.7L414 557.2L418 560.3L425.1 580L426.6 628L432 646.5L434 650.2L438 653.4L442 652.8L444 651.2L457.7 630L466.4 620L474.8 612L494 599.4L506 594L514 591.8L522 591.2L530 592.1L538 594.4L548 598.7L562 607.9L582.6 626L586.7 632L586.5 638L561 674L554.3 686L551.9 694L552.2 702L556.4 710L562 714L570 715L582 710.8L594 702.9L604 693.8L610.5 684L612.2 676L611.4 666L606.7 650L599.9 636L599.8 630L603 620L610.8 604L618.8 592L628 582L636.2 576L646 572L656 569.9L690 565.8L710 562Z"/><path fill="#7a9deb" fill-rule="evenodd" d="M760.2 566L764 566.9L766.4 572L766.9 612L768.7 618L772 621.8L778 624.7L784 625.6L822 625.1L822 828L376.3 828L375 810L372 799.7L368 794.4L338.9 764L323.1 744L316.3 732L315.2 724L318.1 716L324 709.2L334 703.5L344 700.7L368 696.9L414 692.8L418 694L420 695.6L424.2 702L428 705.3L455.9 718L486 734.1L498 738.4L524 742.1L548 743L570 741.3L584 737.8L596.8 732L618 720L625.3 712L630.5 702L634.3 690L635.3 680L632.4 650L631.7 622L635.6 608L639 602L644 596.2L654 589.4L670 583.8L718 576.7ZM397.4 568L406 567.4L412 568.8L416 572.3L418.7 580L419.2 624L422.1 648L422.5 674L421.2 682L418 685.5L416 686.1L410 685L388 677.5L374 670.6L364 664.5L358 659L352.9 652L350 645.9L348 638L347.9 628L350.5 614L355.3 600L360.8 590L366 584L376.9 576L386 571.3ZM524 634L526 632.9L530 633.1L533.4 636L534.1 638L533.7 642L530 645.9L526 645.4L523 642L522.1 638ZM111.2 662L122 661.2L134 662.7L142 665.1L152 670.7L161.3 678L168.5 686L175.9 698L179.5 708L180.8 718L179.7 728L176.5 738L171 748L165.7 754L156 761.3L148 765.5L138 768.9L126 770.7L114 769.8L102 767L90.1 762L80.9 756L72.4 748L66.9 740L63.2 730L61.7 720L62.5 708L65.7 696L70.9 686L78 677.6L88 670L98 665.2Z"/><path fill="#4d82e8" fill-rule="evenodd" d="M381.7 590L388 590.2L392 592.6L395.3 596L399.5 604L400.7 614L398.7 628L394.6 638L388 644.6L380 646.5L372 644.3L366.8 640L363.3 634L361.8 626L363.9 614L368.6 602L374.7 594ZM720.5 644L738 643.2L748 644.7L758 647.6L766 651.6L771.7 656L775.1 660L777.9 666L778.8 672L778.1 678L766 708.3L763.4 718L762.7 726L765.2 740L774.7 766L777.4 776L779.2 792L781.3 828L383.3 828L381.7 792L383.1 774L393.4 734L396 729.2L400 725.8L410 722.7L418 722.7L427.6 730L440 735.7L458 747.2L472 752.4L490 755L524 756.4L548 761.4L558 760.3L567.7 756L626 723.7L634 720.7L656 716.1L662 713.2L666 709.6L669.8 704L684.3 672L692.4 660L698.1 654L704 649.6L712 645.9ZM119.7 684L126 683.9L134 685.4L140.9 688L147.1 692L152 697L156.3 704L158.8 710L160.4 718L160.4 724L159 732L156.8 738L152.8 744L148 748.8L142 752.9L136 755.4L128 757.1L120 757.2L114 756L108 753.5L102.8 750L98 745.1L95 740L92.2 728L92.9 710L94.7 702L97.4 696L100.7 692L106 688.2L112 685.7Z"/><path fill="#1f63e4" fill-rule="evenodd" d="M645.9 726L658 725L666 725.4L678 727.6L690 731.1L704 737L716 743.6L725.5 750L734 757.2L740.1 764L745.3 772L752.6 792L754.5 804L753.2 828L478 828L478.5 808L480.5 794L488.4 776L492 770.9L496 767.4L504.2 764L516 762.8L526 763.6L548 768.3L560 766.9L572 761.3L618.5 734L634 728.2ZM413.1 772L418 770.5L420.5 772L422.1 776L422.5 828L400 828L400.2 804L402.2 788L406 779.2Z"/><path fill="#fff" d="M785 174H830V221H785ZM768.7 221H830V254H768.7ZM753.3 254H830V286H753.3ZM768.7 286H830V348H768.7ZM753.3 348H830V459H753.3ZM768.7 459H830V522.5H768.7ZM753.3 522.5H830V602.7H753.3ZM768.7 602.7H830V618H768.7ZM312 15H362V32H312ZM297 32H362V47.5H297ZM282 47.5H362V63.5H282ZM282 63.5H345.5V80H282ZM282 80H329V95.5H282Z"/>
<g fill="none" stroke="#33282e" stroke-width="2.8" stroke-linejoin="round" stroke-linecap="round"><path d="M82.9 38.7L84.3 27.6L89.8 16.6L98.1 9.7L109.1 6.9L118.8 9.7L120.8 16.6L117.4 23.5L109.1 29.0L98.1 34.5L89.8 41.4L84.3 41.4L82.9 38.7M106.4 -2.8L105.6 13.8L103.6 30.4L100.9 47.0L98.9 63.6L99.5 77.4L100.9 88.4M100.9 88.4L110.5 84.3L117.4 82.9L118.8 77.4L123.0 82.9L121.6 89.8L125.7 92.6L134.0 87.0L142.3 77.4L150.6 67.7M150.6 67.7L165.8 66.3L172.7 64.1L237.6 64.1L382.7 64.1M150.6 67.7L157.5 80.1L168.6 91.2L176.8 105.0L179.6 118.8L181.0 138.2L178.2 150.6M178.2 150.6L165.8 152.0L158.9 150.6L150.6 146.5L140.9 150.6L129.9 153.4L123.0 149.2L121.6 161.6L118.8 174.1L107.8 176.8L94.0 179.6L82.9 174.1L77.4 167.2L66.3 165.8L62.2 171.3M158.9 150.6L154.7 168.6L152.0 179.6L157.5 186.5L165.8 189.3L178.2 192.0L176.8 205.9L165.8 214.2L158.9 222.4L150.6 240.4L140.9 257.0L129.9 269.4L116.1 279.1L106.4 283.2L89.8 282.4M100.9 88.4L88.4 94.0L76.0 100.9L64.9 100.9L59.4 113.3L56.6 124.3L53.9 138.2L52.5 153.4L59.4 152.0L69.1 146.5L73.2 138.2L81.5 132.6L82.9 121.6L76.0 113.3L71.8 106.4L64.9 100.9M52.5 153.4L53.9 165.8L62.2 171.3L66.3 181.0L74.1 190.7L77.4 199.0L76.8 212.8M72.4 212.8L82.9 212.8M72.4 212.8L71.3 234.9L68.5 254.2L66.3 273.6L70.5 287.4L67.7 304.0L71.3 326.1L79.6 342.6L85.7 359.2L80.7 370.3L74.6 381.3L78.8 392.4L85.7 403.4L91.2 414.5M82.9 212.8L84.3 234.9L91.2 254.2L98.1 270.8L105.0 283.2L100.9 298.4L103.6 312.2L113.3 323.3L111.9 342.6L118.8 359.2L121.6 373.0L110.5 382.7L109.1 397.9L118.8 409.0L135.4 414.5M77.4 212.8L78.8 234.9L80.7 259.7L88.4 281.9L85.7 298.4L89.8 320.5L96.7 339.9L102.2 359.2L94.5 378.6L96.2 395.1L103.6 414.5M75.2 258.4L72.4 269.4L66.3 273.6M250.1 -2.8L252.8 13.8L243.2 30.4L234.9 49.7L236.3 64.1L243.2 66.3L240.4 82.9L234.9 105.0L229.3 127.1L233.5 138.2L229.3 149.2M250.1 13.8L259.7 16.6L269.4 23.5L268.6 30.4L261.1 34.5M229.3 149.2L237.6 142.3L243.2 154.7L237.1 167.2L239.0 179.6L245.9 174.1L252.0 165.8L259.7 160.3L257.0 149.2L265.3 143.7L276.3 146.5L281.9 154.7L292.9 157.5L304.0 160.3L302.6 176.8L299.0 190.1L306.7 182.9L313.6 181.0L309.5 165.8L312.2 154.7L320.5 152.0L328.8 158.9L342.6 160.8L356.5 149.2L367.5 138.2L364.7 132.6L350.9 136.0L337.1 132.6L323.3 136.0L312.2 129.9L304.5 123.0L315.0 124.9L331.6 127.1L342.6 121.6M382.7 64.9L378.6 74.6L370.3 82.9L373.6 94.0L359.2 97.3L356.5 107.8L345.4 113.3L339.9 121.6L334.4 127.1M381.3 -2.8L384.6 16.6L386.9 35.9L381.3 49.7L384.1 64.9M373.0 -2.8L371.7 64.1M385.5 22.1L395.1 26.3L403.4 19.3L414.5 16.6M386.9 35.9L400.7 30.4L414.5 27.6M382.7 64.9L414.5 82.3M233.5 140.9L240.4 149.2L248.7 143.7L255.6 150.6L250.1 158.9L257.0 165.8L248.7 172.7L241.8 165.8L237.6 176.8L243.2 181.0M304.0 163.0L309.5 171.3L302.6 179.6L310.9 183.8L301.2 190.7M276.3 146.5L283.2 150.6L281.9 157.5L276.3 154.7L276.3 146.5M334.4 118.8L342.6 117.4L346.8 124.3L338.5 128.5L334.4 118.8M367.5 85.7L374.4 88.4L370.3 95.3L377.2 98.1M259.7 18.0L268.0 20.7L269.4 27.6L262.5 31.8L261.1 24.9M403.3 79.2L502.2 134.7L598.5 187.5L608.1 193.0L610.9 204.0L604.0 215.0L602.6 220.5L610.9 224.7L615.0 232.9L701.6 294.8M500.9 137.5L507.7 138.9L506.4 154.0L502.2 164.4L496.7 164.4L499.5 151.2L500.9 137.5M422.5 242.5L418.4 236.5L425.2 232.4L441.7 222.2L455.5 211.7L461.0 217.2L453.3 228.8L436.8 238.1L426.6 243.6L422.5 242.5M485.7 237.0L488.5 220.0L494.0 215.9L495.6 225.5L491.8 238.1L487.1 239.8L485.7 237.0M583.4 51.4L593.0 56.9L601.8 52.8L614.2 50.0L604.5 55.5L596.3 59.7L588.0 55.5L583.4 51.4M403.3 8.2L417.0 6.9L423.9 13.7L429.4 20.6L422.5 23.4L414.2 22.0L403.3 27.5M818.5 118.2L810.2 129.2L807.5 148.5L791.0 159.5L769.0 166.4L762.1 178.7L760.7 198.0L749.7 214.5L742.9 233.7L736.0 247.5L730.5 258.5L726.4 275.0L716.7 291.5L701.6 295.6L703.0 305.2L697.5 321.7L693.4 338.2L686.5 357.5L678.2 371.2L675.5 385.0L681.0 398.7L683.7 412.5M730.5 310.7L744.2 312.1L745.6 324.5L741.5 341.0L731.9 345.1L731.9 330.0L730.5 310.7M708.5 363.0L714.0 376.7L722.2 387.7L726.4 404.2L719.5 408.4L705.7 396.0L701.6 379.5L708.5 363.0M719.5 255.7L727.7 248.9L734.6 247.5M88.4 409.2L95.3 430.0L109.1 446.5L121.6 453.4L132.6 467.3L138.2 485.2L146.5 497.7L157.5 511.5L164.4 521.1M135.4 409.2L146.5 423.1L154.7 436.9L160.3 442.4L157.0 450.7L161.6 461.7L165.8 478.3L174.1 497.7L182.4 517.0L190.7 530.8L197.6 541.9L199.0 552.9L190.7 557.9L179.6 548.8L165.8 541.9L154.7 539.1L152.0 529.4L160.3 522.0L171.3 519.2M105.0 409.2L110.5 423.1L124.3 434.1L138.2 447.9L146.5 467.3L152.0 483.8L160.3 500.4L168.6 519.8L176.8 533.6L185.1 544.6L193.4 552.9M171.3 519.2L55.3 537.7M19.3 602.7L19.3 577.8L33.2 561.2L47.0 547.4L55.3 537.7L64.9 541.9L71.8 550.2L69.1 561.2L58.0 575.0L44.2 591.6L33.2 595.8L19.3 602.7M26.3 581.9L41.4 564.0L55.3 546.0L62.2 548.8L49.7 568.1L35.9 584.7M91.2 564.0L99.5 544.6L110.5 536.3L129.9 539.1L118.8 544.6L110.5 555.7L102.2 569.5L94.0 570.1L91.2 564.0M236.3 485.2L243.2 479.7L251.5 481.1L262.5 492.1L273.6 503.2L283.2 508.7L281.9 512.9L272.2 510.1L259.7 503.2L248.7 507.3L243.2 500.4L237.6 492.1L236.3 485.2M284.6 525.3L290.1 519.8L298.4 522.5L304.0 530.8L299.8 536.3L290.1 535.0L284.6 525.3M199.0 544.6L210.0 544.6L221.1 552.9L226.6 561.2L237.6 565.4L245.9 572.3L257.0 576.4L270.8 579.2L284.6 587.5L298.4 591.6L309.5 597.1L312.2 608.2L320.5 609.6L331.6 606.8L348.2 608.2L359.2 608.2L370.3 612.3M312.2 597.1L317.8 605.4L328.8 611.0L334.4 624.8L335.7 638.6L345.4 646.9L350.9 657.9L357.8 670.4L345.4 680.0L331.6 686.9L334.4 699.4L338.5 713.2L328.8 727.0L330.2 735.3L334.4 751.9L333.0 768.5L337.1 779.5L346.8 785.0L339.9 793.3L320.5 798.9L310.9 807.1L315.0 826.5M370.3 612.3L373.0 630.3L378.6 641.3L386.9 655.2L389.6 666.2L386.9 682.8L392.4 704.9L395.1 724.2L397.9 738.1L386.9 754.6L378.6 768.5L381.3 782.3L389.6 793.3L393.8 809.9L397.9 826.5M370.3 612.3L374.4 602.7L381.3 602.7L392.4 611.0L403.4 622.0L414.5 633.1M414.5 743.6L403.4 760.2L397.9 771.2L400.7 787.8L406.2 804.4L409.0 826.5M92.6 710.4L99.5 699.4L110.5 691.1L118.8 686.9L125.7 691.1L127.1 702.1L123.0 713.2L114.7 722.9L105.0 725.6L96.7 721.5L92.6 710.4M99.5 713.2L109.1 699.4L118.8 693.9L121.6 702.1L113.3 713.2L103.6 718.7M33.2 595.8L38.7 605.4L41.4 622.0L35.9 646.9L41.4 671.7L33.2 688.3L27.6 704.9L20.7 724.2L24.9 740.8L35.9 751.9L47.0 762.9L55.3 774.0L66.3 783.7L82.9 785.0L95.3 787.8L94.0 776.7L99.5 772.6L111.9 770.4L111.9 826.5M-2.8 785.0L13.8 787.8L24.9 796.1L31.8 809.9L38.7 818.2L47.0 826.5M688.3 409.2L702.1 420.3L710.4 431.3L721.5 439.6L724.2 447.9L716.0 461.7L709.0 478.3L707.7 492.1L716.0 494.9L717.3 506.0L709.0 522.5L710.4 541.9L716.0 555.7L718.7 564.0L722.9 577.8L729.8 591.6L728.4 599.9L735.3 611.0L740.8 627.5L736.7 634.4L749.1 641.3L757.4 648.3L771.2 649.6L779.5 655.2L780.9 663.5L790.6 666.2L793.3 677.3L789.2 688.3L787.8 702.1L782.3 713.2L776.7 718.7L783.7 727.0L785.0 743.6L783.7 765.7L782.3 782.3L787.8 793.3L790.6 804.4L794.7 809.9L785.0 818.2L779.5 826.5M727.0 504.6L732.5 497.7L743.6 486.6L747.7 483.8L746.4 494.9L738.1 504.6L729.8 507.3L727.0 504.6M780.9 663.5L771.2 671.7L754.6 681.4L738.1 691.1L721.5 698.0L706.3 706.3L688.3 707.7L674.5 713.2L656.5 722.9L646.9 717.3L633.1 713.2L622.0 714.6L616.5 724.2L611.0 733.9L591.6 742.2L577.8 740.8L566.7 735.3L552.9 733.9L539.1 743.6L525.3 740.8L514.2 740.8L506.0 729.8L494.9 724.2L483.8 727.0L475.6 735.3L439.6 733.9L414.8 733.9M409.2 633.1L414.8 660.7L416.1 688.3L423.1 710.4L434.1 724.2L438.3 738.1L436.9 751.9L428.6 762.9L421.7 768.5M414.8 733.9L414.8 762.9L421.7 768.5M409.2 762.9L420.3 765.7L424.4 785.0L423.1 807.1L425.8 826.5"/><path d="M65.8 106.4L71.8 111.1L69.6 124.3L63.6 143.7L56.9 150.9L54.7 146.5L59.1 129.9L62.4 116.1ZM810.2 121.0L818.5 121.0L818.5 148.5L810.2 148.5Z" fill="#2a2a30" stroke="none"/></g>
</g></g>
<rect x="183.0" y="1198.0" width="816.7" height="823.0" fill="none" stroke="#160306" stroke-width="5"/>
<path d="M183.0 2021.0v12M296.8 2021.0v12M435.6 2021.0v12M558.5 2021.0v12M682.8 2021.0v12M806.5 2021.0v12M928.4 2021.0v12M183.0 1198.0h-12.5M183.0 1324.0h-12.5M183.0 1453.0h-12.5M183.0 1579.0h-12.5M183.0 1706.0h-12.5M183.0 1830.5h-12.5M183.0 1961.0h-12.5" stroke="#1a1a1a" stroke-width="2.8" fill="none"/>
<text x="189.5" y="2068.3" font-size="38.5" font-family='"Liberation Sans", Arial, Helvetica, sans-serif' fill="#111" text-anchor="middle" font-weight="bold" stroke="#111" stroke-width="0.5" textLength="79.0" lengthAdjust="spacingAndGlyphs">28E</text>
<text x="310.2" y="2068.3" font-size="38.5" font-family='"Liberation Sans", Arial, Helvetica, sans-serif' fill="#111" text-anchor="middle" font-weight="bold" stroke="#111" stroke-width="0.5" textLength="79.0" lengthAdjust="spacingAndGlyphs">30E</text>
<text x="434.1" y="2068.3" font-size="38.5" font-family='"Liberation Sans", Arial, Helvetica, sans-serif' fill="#111" text-anchor="middle" font-weight="bold" stroke="#111" stroke-width="0.5" textLength="79.0" lengthAdjust="spacingAndGlyphs">32E</text>
<text x="557.5" y="2068.3" font-size="38.5" font-family='"Liberation Sans", Arial, Helvetica, sans-serif' fill="#111" text-anchor="middle" font-weight="bold" stroke="#111" stroke-width="0.5" textLength="79.0" lengthAdjust="spacingAndGlyphs">34E</text>
<text x="681.5" y="2068.3" font-size="38.5" font-family='"Liberation Sans", Arial, Helvetica, sans-serif' fill="#111" text-anchor="middle" font-weight="bold" stroke="#111" stroke-width="0.5" textLength="79.0" lengthAdjust="spacingAndGlyphs">36E</text>
<text x="805.0" y="2068.3" font-size="38.5" font-family='"Liberation Sans", Arial, Helvetica, sans-serif' fill="#111" text-anchor="middle" font-weight="bold" stroke="#111" stroke-width="0.5" textLength="79.0" lengthAdjust="spacingAndGlyphs">38E</text>
<text x="927.7" y="2068.3" font-size="38.5" font-family='"Liberation Sans", Arial, Helvetica, sans-serif' fill="#111" text-anchor="middle" font-weight="bold" stroke="#111" stroke-width="0.5" textLength="79.0" lengthAdjust="spacingAndGlyphs">40E</text>
<text x="169.5" y="1213.5" font-size="38.5" font-family='"Liberation Sans", Arial, Helvetica, sans-serif' fill="#111" text-anchor="end" font-weight="bold" stroke="#111" stroke-width="0.5" textLength="53.0" lengthAdjust="spacingAndGlyphs">EQ</text>
<text x="161.5" y="1341.5" font-size="38.5" font-family='"Liberation Sans", Arial, Helvetica, sans-serif' fill="#111" text-anchor="end" font-weight="bold" stroke="#111" stroke-width="0.5" textLength="46.0" lengthAdjust="spacingAndGlyphs">2S</text>
<text x="161.5" y="1470.5" font-size="38.5" font-family='"Liberation Sans", Arial, Helvetica, sans-serif' fill="#111" text-anchor="end" font-weight="bold" stroke="#111" stroke-width="0.5" textLength="46.0" lengthAdjust="spacingAndGlyphs">4S</text>
<text x="161.5" y="1596.5" font-size="38.5" font-family='"Liberation Sans", Arial, Helvetica, sans-serif' fill="#111" text-anchor="end" font-weight="bold" stroke="#111" stroke-width="0.5" textLength="46.0" lengthAdjust="spacingAndGlyphs">6S</text>
<text x="161.5" y="1723.5" font-size="38.5" font-family='"Liberation Sans", Arial, Helvetica, sans-serif' fill="#111" text-anchor="end" font-weight="bold" stroke="#111" stroke-width="0.5" textLength="46.0" lengthAdjust="spacingAndGlyphs">8S</text>
<text x="167.5" y="1848.0" font-size="38.5" font-family='"Liberation Sans", Arial, Helvetica, sans-serif' fill="#111" text-anchor="end" font-weight="bold" stroke="#111" stroke-width="0.5" textLength="72.0" lengthAdjust="spacingAndGlyphs">10S</text>
<text x="167.5" y="1978.5" font-size="38.5" font-family='"Liberation Sans", Arial, Helvetica, sans-serif' fill="#111" text-anchor="end" font-weight="bold" stroke="#111" stroke-width="0.5" textLength="72.0" lengthAdjust="spacingAndGlyphs">12S</text>
<text x="187.5" y="1183.7" font-size="59" font-family='"Liberation Sans", Arial, Helvetica, sans-serif' fill="#111" stroke="#111" stroke-width="0.8" textLength="141.0" lengthAdjust="spacingAndGlyphs">EOF2</text>
<text x="383.5" y="1183.7" font-size="59" font-family='"Liberation Sans", Arial, Helvetica, sans-serif' fill="#111" stroke="#111" stroke-width="0.8" textLength="173.0" lengthAdjust="spacingAndGlyphs">10.4%</text>
<text x="12.5" y="1142.0" font-size="75" font-family='"Liberation Sans", Arial, Helvetica, sans-serif' fill="#111" stroke="#111" stroke-width="0.8" textLength="65.0" lengthAdjust="spacingAndGlyphs">b)</text>
<g transform="translate(179.0,2178.0) scale(0.99976,1.00000)">
<g clip-path="url(#mapclip)">
<rect x="-2" y="-2" width="830" height="830" fill="#fff"/><path fill="#ffd9df" fill-rule="evenodd" d="M-6 -6L195.7 -6L196.1 2L200 16.3L203.4 24L208.1 30L221.5 42L234 49.4L250 54.5L274 58.4L280 61.1L283 64L285.5 70L283.5 86L284 90.1L288 94L296 95.4L316 94.8L327.9 92L332 89.2L344 76.4L366.6 62L368.5 56L365.6 -6L692.5 -6L692.5 0L693.7 4L699.4 16L703.4 22L716.5 34L722 37.5L728 39.8L738 39.8L758 33.2L780 29.5L800 27.3L822 27.8L822 174L786 171.2L752 171.9L742 169.7L737.2 166L733.1 158L730.9 148L729.2 126L726.4 110L722.6 96L718 88.2L714 85.1L710 83.5L700 83.1L686 86.4L670 92.9L614 127.1L606 133.3L586 151.8L568 163.3L556 168.6L546 171.3L510 173.7L502 176.8L495.9 182L493.2 186L491 192L490.4 198L491.3 206L495.2 218L509.2 248L510.2 254L509.4 258L504.9 264L496 269.4L488 271.9L470 275.1L456 281.3L440 292L434 297.7L431 302L429.2 310L431.3 318L438.9 330L452.8 344L455 348L455.8 354L452.8 366L446.6 380L430 406.9L420.1 420L414 421.9L402 421.8L367.4 420L338 416.8L330.1 414L322 406.5L316 403.1L308 401.3L300 402.3L288 407.7L274 420L251.4 428L238.5 434L211.2 450L181 472L176 478L174 483.5L174 492L176.7 502L180 508.4L193.1 528L201.8 550L207.3 560L216 571.6L225.2 582L266 622.7L280.4 640L291.2 656L298 669.5L301.8 680L309 720L312 731.1L318 743L326 751L332 754.3L340 756.4L348 756.2L354 754.4L360 751L366 744.8L378 720.2L383.7 714L390 711.3L398 710L406 709.9L414 711.2L418 712.7L421.6 716L424.3 722L427.2 732L428.5 734L432 736.3L470 741L486 744.4L560 769.6L604 781.5L626 789.1L634 794.7L639.2 802L644.9 816L646.4 822L646.5 828L-6 828ZM42 211.7L26.1 216L15.8 222L12.2 226L10.3 230L9.6 234L10.2 240L16 253.3L24.8 264L40 274.9L56 281.6L82 287L104 294L110 294.9L118 294.6L128 292.7L136 290L142 286.6L152 279L156 277.5L160 277.5L176 281.7L182 281.5L188.6 280L194 277.4L200 272.4L203.2 268L205.8 262L207 256L206.9 250L204 240L198 231.9L188 226.5L182 225.2L176 225.2L170 226.4L164 229L158 235.1L151.7 248L148 251.1L144 251.6L140 250.2L134 246.3L109.8 226L92 216.8L82 213.7L68 211.2L54 210.6ZM627.4 244L640 242.4L646 243.2L650 244.9L653.6 248L655.8 252L656 257.6L654.1 262L648 267.3L638 270.1L624 269.7L613.6 266L611.1 264L609 260L610.5 254L618 247.4ZM429.7 648L438 648.3L442 650.1L446.4 654L448.3 658L448.3 662L446.1 666L444 667.8L438 670.4L430 670.5L424 668L420.2 664L418.7 658L420.2 654L424 650.3Z"/><path fill="#ffb3c0" fill-rule="evenodd" d="M157.6 -6L182.9 -6L183.8 4L190.4 22L197 32L208 43.7L222 53.6L238 60.5L250 63.6L268 64.9L274 66.1L276.6 68L278.4 72L276.4 88L276.9 92L278.9 96L282 98.9L286 100.8L302 102.4L320 101.2L332 97.6L337.1 94L348 81.9L368 70L372.9 66L374.8 62L375.4 58L372.4 -6L664.9 -6L664.9 0L674.5 28L676.2 40L674.2 48L669.3 60L664.8 68L659.8 74L650 81.4L626 93.8L604.7 108L587.9 122L572 141.4L564 145.9L558 146.9L550 146.2L510 136.2L500 135.1L488 135.4L478 136.9L470 139.4L462 143.7L450 154.4L445.6 160L442.4 166L440.6 174L440.7 190L439.7 198L435.4 214L432.8 220L426 226.3L412 233.1L408 233.4L406 232.5L404.1 230L403.2 226L402.4 138L399.7 132L392 121.9L388 121L384 123.8L358.2 166L338 187.9L333.9 194L328.7 208L326.5 224L326.1 252L328.4 262L333 268L346 277.8L353.7 286L359.6 296L362.9 306L364.8 320L365.3 338L364.6 350L361.8 366L362.2 370L366.4 384L366.3 390L364.8 394L360 398.5L354 399.7L332 395.1L308 391.7L296 392.7L280 396.6L274 400.3L265.1 414L260.1 418L242 424.4L226 426.5L214.3 430L200 437.6L182 449.1L173.7 456L167 464L162 474L160.3 482L160.7 490L163.6 502L175.8 534L182.3 564L189.4 582L194.6 590L204 600.3L236 626.7L246 636L256.1 648L265.9 662L274.6 678L281.7 696L286.7 714L292.3 742L296.8 756L301 764L308 771.2L320 778L332 781.5L346 782.2L356 779.5L360.6 776L364 771.2L378 737L382.4 730L388 725.4L396 722.1L402 721.3L410 721.9L415.3 724L418 727.5L423.7 750L428 754.4L436 756.3L478 761.9L502 767.5L528 774.8L582 793.8L592 799.3L600 807.7L606 818L607.3 822L607.5 828L-6 828L-6 295.3L4 296L22 301.5L46.5 314L52.2 318L58 323.9L69.7 342L78 351.3L86 356.6L94 358.6L106 358.4L160 351.4L172 348.4L212 335.4L262 325.6L272 325.3L284 329.5L286 328.5L286.9 326L286.7 316L284 303.1L278 288.4L270 274.5L261.3 264L248 253.6L242.6 248L238.9 242L230 222.9L222.1 212L208 200L196 192.7L186 189.9L176 191.2L168.2 196L158 206.7L154 208.7L148 209.6L140 208.5L130 205.2L122 200.9L107.9 190L100 185.3L90 181.3L76 178.1L60 176.7L48 176.8L28 179.2L0 184.7L-6 184.7L-6 18.4L0 18.4L20 21L30 21L64 16.8L82 11.6L88 11.1L96 13.9L110 25.6L118 30.5L128 34.3L138 35.4L142 34.4L145.7 32L150 26L156.2 8Z"/><path fill="#ff8ca1" fill-rule="evenodd" d="M385.8 -6L585.4 -6L585.6 2L588.3 20L588.2 28L580.5 68L573.3 88L567.5 98L562 104.7L556 109.1L548 111.9L540 112.9L522 112.9L456 109.3L448 111.6L424 125L414 127.3L408 126.5L405.3 124L404 121.1L401.9 102L391.6 78L385.7 50L384.2 32ZM20.6 34L34 32.8L68 35.4L78 37.3L84 40.3L91.8 48L106 72.1L112 78.9L116 81.1L120 81.8L132 80.2L136 80.5L140 82.4L143.6 86L148.8 96L151.6 106L151.3 114L147.7 122L140.3 130L132 136.2L124 139.3L118 139.3L108 134.7L98.3 126L91.3 116L86 102.9L82 99.6L78 99.2L74.5 100L60 108L52 110.1L38 108.9L26 103.6L17.6 96L8 82.8L3.9 72L2.1 60L2.1 50L5.3 42L12 36.8ZM262.6 126L274 125.5L286 126.2L302 129.7L308 132.7L311.8 136L314.7 140L317.1 146L318.6 158L317.6 174L305 234L304.7 244L306.9 250L312 256.8L326.9 272L342.7 284L349.6 292L355.3 304L357.9 320L358 347.3L353.7 368L350 375.1L346 378L340 380.6L330 382L319.7 380L310 375.2L303 368L299.1 360L296.3 350L292.9 310L290.5 300L285.2 286L279.1 274L273.5 266L256.7 250L251.6 244L240 221.5L230.7 208L220 197.7L204 186.7L190 180.9L172 178.7L166 175.4L161.8 170L161.5 164L165.1 158L178 147.5L190 140.5L200 138.3L216 141.9L220 141.8L224 140.3L232 134.2L238 131.2L250 128ZM195.5 362L206 361.6L218 364.7L246 378L252 382.1L255.5 388L255.5 394L252 403.9L246.4 414L242 417.4L238 418.6L206 422.2L156 422.5L150 421.7L147 420L145.3 416L146.9 406L150.5 394L155.3 386L166.1 376L176 369L186 364.4ZM-6 404L-6 403L86 403.5L90 404.8L94.4 408L110.3 428L122 448.3L132.6 476L139 500L143.2 528L142.8 554L139.5 574L133.7 586L128 592.5L122 597.2L112 602.6L104 605.3L66 613.1L36 616L-6 614.1ZM170.7 670L188 668.4L202 669.1L218 671.5L232 675.9L242.9 682L252.5 690L262 701.5L267.3 712L269.4 720L270.4 730L269.8 740L267.3 750L262.3 762L247.8 786L231.3 818L229.5 822L229.2 828L-6 828L-6 695.4L0 695.4L6 700.1L17.6 722L25.1 734L31.2 742L38 748.6L46 753.7L56 757.5L64 759.1L74 758.9L80 757.6L86 754.6L94 746.2L103 730L118.4 696L126 686.1L134 680.7L142 677.1L156 672.9ZM504.9 784L514 782.3L522 783.1L530.2 786L540.1 792L547.5 800L554.8 812L557.6 820L558.1 828L480.9 828L481.6 812L484.9 802L494 790.1L498 787.2Z"/><path fill="#ff5c7e" fill-rule="evenodd" d="M439.7 -6L548.3 -6L548.3 0L553.7 18L554.8 26L552.3 40L547.1 54L541.4 62L532 70.9L518 80.7L508 85.9L500 88L492 88.1L484 86.3L476 82.7L466 75.9L458.1 68L446.6 46L444 38L442.2 28ZM56.5 44L66 43L74 43.9L80 46.4L86 52.1L92 62.5L95.5 74L94.6 82L90.2 88L86 89.8L82 90L68 87.6L56 82.2L48 74.7L42.6 64L41.6 58L42.3 54L46.9 48ZM267.5 134L284 133.1L298.8 136L304 138.8L307.1 142L309.2 146L310.5 152L310.7 164L309 178L298.4 228L296 234.5L292 241L288 244.2L282 246.1L276 245.8L270 243.5L264 239.4L258 233.2L252 223.6L241.6 202L237.6 190L237.2 180L238.5 168L240.5 160L244 152.1L248.2 146L254.4 140L261.3 136ZM18 436L60 435.6L74 437.9L82 441.2L90 446.8L97.3 454L105 464L113.1 478L120.1 496L128.1 524L131.5 544L132.3 560L130.5 572L126.5 580L120 586.3L112 590.2L102 592.8L60 597.5L26 599.2L0 595.9L-6 595.9L-6 436ZM-6 724L-6 722.6L0 722.6L3.1 726L5.6 732L11.9 760L16.7 772L20 777.5L24 781.5L28 783.6L32 784.3L42 782.8L72 773L80 771.3L90 772.5L106 777.6L112 777.6L116 775.7L120 771.5L128.8 754L133.1 748L138 743.4L146 738.4L156 734.4L168 732.4L178 733.3L188 736.9L198 743.2L204.8 750L210.6 760L214.5 772L215.1 778L214.2 786L204 822L203.8 828L-6 828Z"/><path fill="#ff2f5b" fill-rule="evenodd" d="M462.6 -6L519.5 -6L519.1 8L517.4 16L511 28L504.5 36L496 42.6L488 45.3L480 44L474 40L468.1 32L465.4 24L463.2 10ZM51.2 464L64 465.2L74 469.4L90.9 482L101.3 494L107.4 508L110.3 524L109.8 540L105.9 552L100 559.9L94 564.4L85.1 568L72 570.4L48 571.8L8 567.6L-6 567.1L-6 468.7L22 467Z"/><path fill="#ff0a3c" fill-rule="evenodd" d="M-6 502L-6 501.3L16 500.1L56 504.6L70 503.5L76 504.2L82 507.9L86.1 514L87.9 522L86.7 530L82.4 538L75.6 544L66 548.6L54 551.5L38 552L8 546.3L-6 545.4Z"/><path fill="#d8e1f8" fill-rule="evenodd" d="M212 -6L314.1 -6L314.5 10L312.9 20L310.7 26L306.4 32L301.3 36L294 39.7L284 42.8L274 44.4L266 44.5L256 42.7L238 35.1L230.5 30L224.3 24L217.9 16L214.8 10L212 0ZM673.9 126L680 126.7L684 128.7L687.3 132L689.2 136L689.6 140L688.2 144L686 146.7L682 148.9L676 149.8L670 148.5L664 144.2L661.8 140L661.7 136L664 131.2L668 127.9ZM780.5 204L822 203.5L822 828L712.4 828L711.5 812L708.8 804L700.7 794L692 787.3L678 780.9L646 772.3L624 764.8L590 751.3L576 743.7L570 738.5L565 732L560.9 724L556.8 712L552.4 688L554.9 660L554.4 654L552.2 646L549.1 640L545.9 636L538.3 630L531.3 626L506 615.3L484 602.5L476 600.1L464 600L442 604.2L428 605.6L424.5 608L420 617L416 618.6L394 613.2L368 608.9L328 598.3L308 590.4L288 581L254.2 562L230 543.2L222 534.8L216 526L212.2 518L210.1 510L210.2 502L212.6 494L226 472.8L252.1 442L265 432L286 423L298 420.6L318 419.5L336 423.4L396.5 430L412 432.2L418 434.1L420.2 436L422 440L424 454.8L432.6 466L436.3 474L446.2 504L451.4 528L453.7 534L458 537.8L462 538.6L468 537.7L474 535.1L480 530.8L496 515.6L511.3 504L519.9 496L526.6 486L533 470L534.6 462L534.5 452L532.7 440L529.1 430L526.3 426L523.4 424L510 421L507.2 418L506.4 414L510 389.3L526.1 348L528.3 340L531 322L533.3 316L536 312.5L544 307.4L558 303.5L586 300.1L622 298.8L636 297.4L656 293.1L670 288.1L680 281.9L688.4 272L694.4 260L699.6 240L702.6 232L708 222.6L714 216.5L724 211.1L736 207.9L754 205.7Z"/><path fill="#b9caf3" fill-rule="evenodd" d="M223.8 -6L303.2 -6L301.8 16L300 20.7L296 25.8L286 32.2L272 35.2L258 33.5L244 27.6L238 23.2L232.9 18L228.5 12L225.6 6L223.8 0ZM746.4 222L774 220.8L822 220.8L822 656.7L772 656.1L752 654.5L746.6 656L743.9 660L743.5 666L750.5 702L751.6 716L749.2 730L743.9 742L734 755.3L728 759.9L722 762.8L716 764.5L706 765.7L686 765L660 760.2L602.3 746L585 740L578.2 736L574 732.2L570 726.8L566 718.2L563.5 706L565 692L572.2 670L573.8 662L572.7 652L569.3 644L564.6 638L556.2 632L535.6 622L508 610.2L500 605.4L490.6 598L485.5 592L480.9 582L478.7 570L478.7 556L480.8 546L483.3 540L488.8 532L498 522.3L526 501.8L546.2 492L554 487.1L563.3 478L568.4 470L570.4 462L569.8 452L566.3 436L557.9 410L557 402L563 360L568.5 342L574 332.3L578.8 328L586 324.4L628 314.4L650 304.7L673.5 296L685.4 290L692 284L697.5 276L704.2 262L711.6 242L716.6 234L722 229.4L728 226.2L736 223.7ZM292.2 430L304 429L316.7 430L330 433.3L340 437.8L347.5 444L351.3 450L353.5 458L353.8 466L352.1 478L346.7 492L339.7 504L330 515.5L320 524.3L308 531.8L298 535.4L288 536.3L278 534.9L268 532.1L262 529.1L256 524.4L252.6 520L249.9 514L248.4 506L248.3 498L249.6 484L252 472L256 460.7L261.6 450L268 442.1L274 437.2L284 432.3ZM385.6 568L396 569.8L400 572.6L402 576L402.9 592L402.3 596L400.3 600L397.7 602L394 603.2L384 603.6L370.5 602L361.8 598L358.4 594L356.9 588L358 582.8L361 578L366 573.7L372 570.8ZM804.5 764L822 763.2L822 828L751.5 828L752 812L753.9 800L759.5 786L764.3 778L770 772.6L778 768.9L790 765.8Z"/><path fill="#9bb4ef" fill-rule="evenodd" d="M236.7 -6L289.4 -6L288.2 10L286.6 14L284 17.1L276 21.9L268 24L258 22.7L248.7 18L240.6 10L237.1 2ZM768.5 228L822 227.9L822 649.8L768 649L761.3 648L756 645L753.6 642L744 623.9L734.5 612L732.5 608L733.4 604L735.5 602L746.1 598L750.5 594L752 590L752.2 584L750.2 580L746 577.8L740 577.6L716 580L684 573.4L674 572.2L664 573.3L654 576.4L650 579.1L648 582L642.7 602L632 622.9L619.5 640L614.2 644L610 645.4L606 645.5L600 643.8L560 625.2L515.8 608L505.3 602L496 593.3L490 581.8L486.9 568L486.9 560L488 552L492.6 540L500.2 530L510.7 522L526 515.1L542 510.6L558 508.5L572 508.8L586 511.5L604 518.7L616 525.9L628 536.2L640 550.6L644 554L648 553.4L650 551.3L657.6 536L659.2 530L659.7 522L658.4 512L645.6 450L640.9 410L637.8 400L638.1 394L644 374L645.6 362L644.4 352L638.7 334L638.5 328L640 322L644.3 316L650 311.9L688 296.3L701.7 288L708 280L723.7 250L728.3 244L735.1 238L742 233.8L751.1 230ZM288.9 450L294 448.4L298 448.2L306 451L309.6 454L312.3 458L314.7 468L314.1 480L309.6 492L306 496.8L302 500L297.9 502L292 503.4L284 502L278.6 498L275.1 492L273.4 484L274 472L277 462L282 454.8ZM706.6 660L722 660.8L728 663L732 666.2L735.6 672L738 678.9L740.4 690L741.6 702L739.7 722L737 730L733.5 736L728 741.9L722 745.8L716 748.1L708 749.3L698 748.4L686 744.9L676 740.1L663.8 732L654.6 724L648.4 716L644.7 708L643.5 700L644.6 692L647.4 684L652 677.2L658 672.4L668 667.8L680 664.1L694 661.2Z"/><path fill="#7a9deb" fill-rule="evenodd" d="M738.7 276L746 275.1L822 275.5L822 569.5L780 570L758 569.3L724 565.9L706 562.6L696 558.7L690.5 554L685.4 546L679.9 532L675.7 514L655.6 444L653.2 432L651.9 414L652.4 406L658.9 390L664 372L665.1 364L663.5 354L653.2 334L652.7 326L655.5 320L662.8 314L700 298.6L732 278.8ZM546.8 522L568 521.7L580 523.6L590 526.4L598.7 530L608 535.4L616 541.8L622 548.3L627.4 556L630.3 562L632.3 570L632.5 578L630.5 588L627.5 596L624 602.1L618 608.6L608 614.5L596 617.2L584 616.7L562 613.4L546 609L532 603.3L514 592.9L504 584.3L499.1 576L497.3 566L499.5 552L504.9 540L512 533L521.1 528L532 524.4ZM698.9 692L704 690.8L708 692.5L712.6 698L714.9 704L715.3 710L713.6 718L710.3 724L706 726.9L702 726.9L697.5 724L694 718.8L691.5 712L691 706L692.5 700L694.7 696Z"/><path fill="#4d82e8" fill-rule="evenodd" d="M767.5 312L780 311L822 311.5L822 550L726 549.2L712 547.2L702 542.1L696 536L690.5 526L689.1 520L687.8 506L685.4 496L662.6 436L660.6 416L661.5 408L666 402.8L676 397.6L680.2 392L685.8 368L688.5 350L688.2 344L686 341L676 341.1L671 338L668.9 332L670.3 328L674 325L680 324.3L684 326L690 330.5L692 330.7L702 327.7L718 324.8L746 316.6ZM547.9 532L564 532.2L580 536L595.3 544L606 553.6L612.2 564L614 574L613.3 580L611.3 586L608 591.7L604 596L596 601.1L588 603.5L576 604.9L563.8 604L548 600.3L536.3 596L525.7 590L516 581.8L510.6 574L508.7 566L510 557.1L514.2 548L520 541.5L528 536.7L536 534Z"/><path fill="#1f63e4" fill-rule="evenodd" d="M683 404L694 403L822 403L822 522L772 522.2L750 526.7L740 527.3L724 525.3L716 521.2L712 514.7L708.3 498L704.1 486L698.8 478L686.5 466L682.1 460L678 451.5L672 434.2L670.6 424L671.4 412L674 407.9ZM538.9 546L548 544.4L558 545L567.8 548L574.5 552L581.9 560L585.5 568L585.4 576L582.2 582L578 585.4L574 587.1L568 588.1L562 587.7L544 582.6L534 578.2L528 574.4L523.5 568L523.1 564L524 560L526 555.8L530 550.8Z"/><path fill="#fff" d="M785 174H830V221H785ZM768.7 221H830V254H768.7ZM753.3 254H830V286H753.3ZM768.7 286H830V348H768.7ZM753.3 348H830V459H753.3ZM768.7 459H830V522.5H768.7ZM753.3 522.5H830V602.7H753.3ZM768.7 602.7H830V618H768.7ZM312 15H362V32H312ZM297 32H362V47.5H297ZM282 47.5H362V63.5H282ZM282 63.5H345.5V80H282ZM282 80H329V95.5H282Z"/>
<g fill="none" stroke="#33282e" stroke-width="2.8" stroke-linejoin="round" stroke-linecap="round"><path d="M82.9 38.7L84.3 27.6L89.8 16.6L98.1 9.7L109.1 6.9L118.8 9.7L120.8 16.6L117.4 23.5L109.1 29.0L98.1 34.5L89.8 41.4L84.3 41.4L82.9 38.7M106.4 -2.8L105.6 13.8L103.6 30.4L100.9 47.0L98.9 63.6L99.5 77.4L100.9 88.4M100.9 88.4L110.5 84.3L117.4 82.9L118.8 77.4L123.0 82.9L121.6 89.8L125.7 92.6L134.0 87.0L142.3 77.4L150.6 67.7M150.6 67.7L165.8 66.3L172.7 64.1L237.6 64.1L382.7 64.1M150.6 67.7L157.5 80.1L168.6 91.2L176.8 105.0L179.6 118.8L181.0 138.2L178.2 150.6M178.2 150.6L165.8 152.0L158.9 150.6L150.6 146.5L140.9 150.6L129.9 153.4L123.0 149.2L121.6 161.6L118.8 174.1L107.8 176.8L94.0 179.6L82.9 174.1L77.4 167.2L66.3 165.8L62.2 171.3M158.9 150.6L154.7 168.6L152.0 179.6L157.5 186.5L165.8 189.3L178.2 192.0L176.8 205.9L165.8 214.2L158.9 222.4L150.6 240.4L140.9 257.0L129.9 269.4L116.1 279.1L106.4 283.2L89.8 282.4M100.9 88.4L88.4 94.0L76.0 100.9L64.9 100.9L59.4 113.3L56.6 124.3L53.9 138.2L52.5 153.4L59.4 152.0L69.1 146.5L73.2 138.2L81.5 132.6L82.9 121.6L76.0 113.3L71.8 106.4L64.9 100.9M52.5 153.4L53.9 165.8L62.2 171.3L66.3 181.0L74.1 190.7L77.4 199.0L76.8 212.8M72.4 212.8L82.9 212.8M72.4 212.8L71.3 234.9L68.5 254.2L66.3 273.6L70.5 287.4L67.7 304.0L71.3 326.1L79.6 342.6L85.7 359.2L80.7 370.3L74.6 381.3L78.8 392.4L85.7 403.4L91.2 414.5M82.9 212.8L84.3 234.9L91.2 254.2L98.1 270.8L105.0 283.2L100.9 298.4L103.6 312.2L113.3 323.3L111.9 342.6L118.8 359.2L121.6 373.0L110.5 382.7L109.1 397.9L118.8 409.0L135.4 414.5M77.4 212.8L78.8 234.9L80.7 259.7L88.4 281.9L85.7 298.4L89.8 320.5L96.7 339.9L102.2 359.2L94.5 378.6L96.2 395.1L103.6 414.5M75.2 258.4L72.4 269.4L66.3 273.6M250.1 -2.8L252.8 13.8L243.2 30.4L234.9 49.7L236.3 64.1L243.2 66.3L240.4 82.9L234.9 105.0L229.3 127.1L233.5 138.2L229.3 149.2M250.1 13.8L259.7 16.6L269.4 23.5L268.6 30.4L261.1 34.5M229.3 149.2L237.6 142.3L243.2 154.7L237.1 167.2L239.0 179.6L245.9 174.1L252.0 165.8L259.7 160.3L257.0 149.2L265.3 143.7L276.3 146.5L281.9 154.7L292.9 157.5L304.0 160.3L302.6 176.8L299.0 190.1L306.7 182.9L313.6 181.0L309.5 165.8L312.2 154.7L320.5 152.0L328.8 158.9L342.6 160.8L356.5 149.2L367.5 138.2L364.7 132.6L350.9 136.0L337.1 132.6L323.3 136.0L312.2 129.9L304.5 123.0L315.0 124.9L331.6 127.1L342.6 121.6M382.7 64.9L378.6 74.6L370.3 82.9L373.6 94.0L359.2 97.3L356.5 107.8L345.4 113.3L339.9 121.6L334.4 127.1M381.3 -2.8L384.6 16.6L386.9 35.9L381.3 49.7L384.1 64.9M373.0 -2.8L371.7 64.1M385.5 22.1L395.1 26.3L403.4 19.3L414.5 16.6M386.9 35.9L400.7 30.4L414.5 27.6M382.7 64.9L414.5 82.3M233.5 140.9L240.4 149.2L248.7 143.7L255.6 150.6L250.1 158.9L257.0 165.8L248.7 172.7L241.8 165.8L237.6 176.8L243.2 181.0M304.0 163.0L309.5 171.3L302.6 179.6L310.9 183.8L301.2 190.7M276.3 146.5L283.2 150.6L281.9 157.5L276.3 154.7L276.3 146.5M334.4 118.8L342.6 117.4L346.8 124.3L338.5 128.5L334.4 118.8M367.5 85.7L374.4 88.4L370.3 95.3L377.2 98.1M259.7 18.0L268.0 20.7L269.4 27.6L262.5 31.8L261.1 24.9M403.3 79.2L502.2 134.7L598.5 187.5L608.1 193.0L610.9 204.0L604.0 215.0L602.6 220.5L610.9 224.7L615.0 232.9L701.6 294.8M500.9 137.5L507.7 138.9L506.4 154.0L502.2 164.4L496.7 164.4L499.5 151.2L500.9 137.5M422.5 242.5L418.4 236.5L425.2 232.4L441.7 222.2L455.5 211.7L461.0 217.2L453.3 228.8L436.8 238.1L426.6 243.6L422.5 242.5M485.7 237.0L488.5 220.0L494.0 215.9L495.6 225.5L491.8 238.1L487.1 239.8L485.7 237.0M583.4 51.4L593.0 56.9L601.8 52.8L614.2 50.0L604.5 55.5L596.3 59.7L588.0 55.5L583.4 51.4M403.3 8.2L417.0 6.9L423.9 13.7L429.4 20.6L422.5 23.4L414.2 22.0L403.3 27.5M818.5 118.2L810.2 129.2L807.5 148.5L791.0 159.5L769.0 166.4L762.1 178.7L760.7 198.0L749.7 214.5L742.9 233.7L736.0 247.5L730.5 258.5L726.4 275.0L716.7 291.5L701.6 295.6L703.0 305.2L697.5 321.7L693.4 338.2L686.5 357.5L678.2 371.2L675.5 385.0L681.0 398.7L683.7 412.5M730.5 310.7L744.2 312.1L745.6 324.5L741.5 341.0L731.9 345.1L731.9 330.0L730.5 310.7M708.5 363.0L714.0 376.7L722.2 387.7L726.4 404.2L719.5 408.4L705.7 396.0L701.6 379.5L708.5 363.0M719.5 255.7L727.7 248.9L734.6 247.5M88.4 409.2L95.3 430.0L109.1 446.5L121.6 453.4L132.6 467.3L138.2 485.2L146.5 497.7L157.5 511.5L164.4 521.1M135.4 409.2L146.5 423.1L154.7 436.9L160.3 442.4L157.0 450.7L161.6 461.7L165.8 478.3L174.1 497.7L182.4 517.0L190.7 530.8L197.6 541.9L199.0 552.9L190.7 557.9L179.6 548.8L165.8 541.9L154.7 539.1L152.0 529.4L160.3 522.0L171.3 519.2M105.0 409.2L110.5 423.1L124.3 434.1L138.2 447.9L146.5 467.3L152.0 483.8L160.3 500.4L168.6 519.8L176.8 533.6L185.1 544.6L193.4 552.9M171.3 519.2L55.3 537.7M19.3 602.7L19.3 577.8L33.2 561.2L47.0 547.4L55.3 537.7L64.9 541.9L71.8 550.2L69.1 561.2L58.0 575.0L44.2 591.6L33.2 595.8L19.3 602.7M26.3 581.9L41.4 564.0L55.3 546.0L62.2 548.8L49.7 568.1L35.9 584.7M91.2 564.0L99.5 544.6L110.5 536.3L129.9 539.1L118.8 544.6L110.5 555.7L102.2 569.5L94.0 570.1L91.2 564.0M236.3 485.2L243.2 479.7L251.5 481.1L262.5 492.1L273.6 503.2L283.2 508.7L281.9 512.9L272.2 510.1L259.7 503.2L248.7 507.3L243.2 500.4L237.6 492.1L236.3 485.2M284.6 525.3L290.1 519.8L298.4 522.5L304.0 530.8L299.8 536.3L290.1 535.0L284.6 525.3M199.0 544.6L210.0 544.6L221.1 552.9L226.6 561.2L237.6 565.4L245.9 572.3L257.0 576.4L270.8 579.2L284.6 587.5L298.4 591.6L309.5 597.1L312.2 608.2L320.5 609.6L331.6 606.8L348.2 608.2L359.2 608.2L370.3 612.3M312.2 597.1L317.8 605.4L328.8 611.0L334.4 624.8L335.7 638.6L345.4 646.9L350.9 657.9L357.8 670.4L345.4 680.0L331.6 686.9L334.4 699.4L338.5 713.2L328.8 727.0L330.2 735.3L334.4 751.9L333.0 768.5L337.1 779.5L346.8 785.0L339.9 793.3L320.5 798.9L310.9 807.1L315.0 826.5M370.3 612.3L373.0 630.3L378.6 641.3L386.9 655.2L389.6 666.2L386.9 682.8L392.4 704.9L395.1 724.2L397.9 738.1L386.9 754.6L378.6 768.5L381.3 782.3L389.6 793.3L393.8 809.9L397.9 826.5M370.3 612.3L374.4 602.7L381.3 602.7L392.4 611.0L403.4 622.0L414.5 633.1M414.5 743.6L403.4 760.2L397.9 771.2L400.7 787.8L406.2 804.4L409.0 826.5M92.6 710.4L99.5 699.4L110.5 691.1L118.8 686.9L125.7 691.1L127.1 702.1L123.0 713.2L114.7 722.9L105.0 725.6L96.7 721.5L92.6 710.4M99.5 713.2L109.1 699.4L118.8 693.9L121.6 702.1L113.3 713.2L103.6 718.7M33.2 595.8L38.7 605.4L41.4 622.0L35.9 646.9L41.4 671.7L33.2 688.3L27.6 704.9L20.7 724.2L24.9 740.8L35.9 751.9L47.0 762.9L55.3 774.0L66.3 783.7L82.9 785.0L95.3 787.8L94.0 776.7L99.5 772.6L111.9 770.4L111.9 826.5M-2.8 785.0L13.8 787.8L24.9 796.1L31.8 809.9L38.7 818.2L47.0 826.5M688.3 409.2L702.1 420.3L710.4 431.3L721.5 439.6L724.2 447.9L716.0 461.7L709.0 478.3L707.7 492.1L716.0 494.9L717.3 506.0L709.0 522.5L710.4 541.9L716.0 555.7L718.7 564.0L722.9 577.8L729.8 591.6L728.4 599.9L735.3 611.0L740.8 627.5L736.7 634.4L749.1 641.3L757.4 648.3L771.2 649.6L779.5 655.2L780.9 663.5L790.6 666.2L793.3 677.3L789.2 688.3L787.8 702.1L782.3 713.2L776.7 718.7L783.7 727.0L785.0 743.6L783.7 765.7L782.3 782.3L787.8 793.3L790.6 804.4L794.7 809.9L785.0 818.2L779.5 826.5M727.0 504.6L732.5 497.7L743.6 486.6L747.7 483.8L746.4 494.9L738.1 504.6L729.8 507.3L727.0 504.6M780.9 663.5L771.2 671.7L754.6 681.4L738.1 691.1L721.5 698.0L706.3 706.3L688.3 707.7L674.5 713.2L656.5 722.9L646.9 717.3L633.1 713.2L622.0 714.6L616.5 724.2L611.0 733.9L591.6 742.2L577.8 740.8L566.7 735.3L552.9 733.9L539.1 743.6L525.3 740.8L514.2 740.8L506.0 729.8L494.9 724.2L483.8 727.0L475.6 735.3L439.6 733.9L414.8 733.9M409.2 633.1L414.8 660.7L416.1 688.3L423.1 710.4L434.1 724.2L438.3 738.1L436.9 751.9L428.6 762.9L421.7 768.5M414.8 733.9L414.8 762.9L421.7 768.5M409.2 762.9L420.3 765.7L424.4 785.0L423.1 807.1L425.8 826.5"/><path d="M65.8 106.4L71.8 111.1L69.6 124.3L63.6 143.7L56.9 150.9L54.7 146.5L59.1 129.9L62.4 116.1ZM810.2 121.0L818.5 121.0L818.5 148.5L810.2 148.5Z" fill="#2a2a30" stroke="none"/></g>
</g></g>
<rect x="179.0" y="2178.0" width="816.5" height="824.0" fill="none" stroke="#160306" stroke-width="5"/>
<path d="M179.0 3002.0v12M292.8 3002.0v12M431.6 3002.0v12M554.5 3002.0v12M678.8 3002.0v12M802.5 3002.0v12M924.4 3002.0v12M179.0 2178.0h-12.5M179.0 2304.0h-12.5M179.0 2433.0h-12.5M179.0 2559.0h-12.5M179.0 2686.0h-12.5M179.0 2810.5h-12.5M179.0 2941.0h-12.5" stroke="#1a1a1a" stroke-width="2.8" fill="none"/>
<text x="185.5" y="3049.3" font-size="38.5" font-family='"Liberation Sans", Arial, Helvetica, sans-serif' fill="#111" text-anchor="middle" font-weight="bold" stroke="#111" stroke-width="0.5" textLength="79.0" lengthAdjust="spacingAndGlyphs">28E</text>
<text x="306.2" y="3049.3" font-size="38.5" font-family='"Liberation Sans", Arial, Helvetica, sans-serif' fill="#111" text-anchor="middle" font-weight="bold" stroke="#111" stroke-width="0.5" textLength="79.0" lengthAdjust="spacingAndGlyphs">30E</text>
<text x="430.1" y="3049.3" font-size="38.5" font-family='"Liberation Sans", Arial, Helvetica, sans-serif' fill="#111" text-anchor="middle" font-weight="bold" stroke="#111" stroke-width="0.5" textLength="79.0" lengthAdjust="spacingAndGlyphs">32E</text>
<text x="553.5" y="3049.3" font-size="38.5" font-family='"Liberation Sans", Arial, Helvetica, sans-serif' fill="#111" text-anchor="middle" font-weight="bold" stroke="#111" stroke-width="0.5" textLength="79.0" lengthAdjust="spacingAndGlyphs">34E</text>
<text x="677.5" y="3049.3" font-size="38.5" font-family='"Liberation Sans", Arial, Helvetica, sans-serif' fill="#111" text-anchor="middle" font-weight="bold" stroke="#111" stroke-width="0.5" textLength="79.0" lengthAdjust="spacingAndGlyphs">36E</text>
<text x="801.0" y="3049.3" font-size="38.5" font-family='"Liberation Sans", Arial, Helvetica, sans-serif' fill="#111" text-anchor="middle" font-weight="bold" stroke="#111" stroke-width="0.5" textLength="79.0" lengthAdjust="spacingAndGlyphs">38E</text>
<text x="923.7" y="3049.3" font-size="38.5" font-family='"Liberation Sans", Arial, Helvetica, sans-serif' fill="#111" text-anchor="middle" font-weight="bold" stroke="#111" stroke-width="0.5" textLength="79.0" lengthAdjust="spacingAndGlyphs">40E</text>
<text x="165.5" y="2193.5" font-size="38.5" font-family='"Liberation Sans", Arial, Helvetica, sans-serif' fill="#111" text-anchor="end" font-weight="bold" stroke="#111" stroke-width="0.5" textLength="53.0" lengthAdjust="spacingAndGlyphs">EQ</text>
<text x="157.5" y="2321.5" font-size="38.5" font-family='"Liberation Sans", Arial, Helvetica, sans-serif' fill="#111" text-anchor="end" font-weight="bold" stroke="#111" stroke-width="0.5" textLength="46.0" lengthAdjust="spacingAndGlyphs">2S</text>
<text x="157.5" y="2450.5" font-size="38.5" font-family='"Liberation Sans", Arial, Helvetica, sans-serif' fill="#111" text-anchor="end" font-weight="bold" stroke="#111" stroke-width="0.5" textLength="46.0" lengthAdjust="spacingAndGlyphs">4S</text>
<text x="157.5" y="2576.5" font-size="38.5" font-family='"Liberation Sans", Arial, Helvetica, sans-serif' fill="#111" text-anchor="end" font-weight="bold" stroke="#111" stroke-width="0.5" textLength="46.0" lengthAdjust="spacingAndGlyphs">6S</text>
<text x="157.5" y="2703.5" font-size="38.5" font-family='"Liberation Sans", Arial, Helvetica, sans-serif' fill="#111" text-anchor="end" font-weight="bold" stroke="#111" stroke-width="0.5" textLength="46.0" lengthAdjust="spacingAndGlyphs">8S</text>
<text x="163.5" y="2828.0" font-size="38.5" font-family='"Liberation Sans", Arial, Helvetica, sans-serif' fill="#111" text-anchor="end" font-weight="bold" stroke="#111" stroke-width="0.5" textLength="72.0" lengthAdjust="spacingAndGlyphs">10S</text>
<text x="163.5" y="2958.5" font-size="38.5" font-family='"Liberation Sans", Arial, Helvetica, sans-serif' fill="#111" text-anchor="end" font-weight="bold" stroke="#111" stroke-width="0.5" textLength="72.0" lengthAdjust="spacingAndGlyphs">12S</text>
<text x="183.5" y="2163.7" font-size="59" font-family='"Liberation Sans", Arial, Helvetica, sans-serif' fill="#111" stroke="#111" stroke-width="0.8" textLength="141.0" lengthAdjust="spacingAndGlyphs">EOF3</text>
<text x="379.5" y="2163.7" font-size="59" font-family='"Liberation Sans", Arial, Helvetica, sans-serif' fill="#111" stroke="#111" stroke-width="0.8" textLength="173.0" lengthAdjust="spacingAndGlyphs">6.93%</text>
<text x="12.5" y="2122.0" font-size="75" font-family='"Liberation Sans", Arial, Helvetica, sans-serif' fill="#111" stroke="#111" stroke-width="0.8" textLength="59.0" lengthAdjust="spacingAndGlyphs">c)</text>
<g transform="translate(179.0,3157.0) scale(0.99976,1.00000)">
<g clip-path="url(#mapclip)">
<rect x="-2" y="-2" width="830" height="830" fill="#fff"/><path fill="#ffd9df" fill-rule="evenodd" d="M403 -6L555.2 -6L555.2 0L556.8 4L560.7 10L566 14.4L572 16L598 18.7L620 22.8L632 27.2L644 33.9L675.6 58L687.2 68L700 82L708 94.8L712.6 106L715.5 118L716.5 130L715.8 142L711.2 172L707.3 190L698.9 216L692 232L683.4 246L674 255.7L630 282.4L620 289.8L608.4 300L592 319.7L588.7 326L586.2 334L585.7 344L589.2 354L618.7 390L624.9 400L628.7 410L636.2 420L638.2 428L636 436.7L632 441.9L628 444.6L622 446.5L618 446.3L612.5 444L608.5 440L604 428L600.5 424L596 422.7L572 420.2L554 422.3L536 422.7L530.1 424L524.9 428L523.4 432L523.5 436L527.6 450L530.1 454L534.5 458L543.3 462L578 473.1L586 477.4L591.6 482L602 494.8L617.6 524L626 533.3L634 539.2L644 544.3L656 548.5L682 553.5L718 555.9L766 554.5L770 557.2L771.9 562L772.4 570L771.5 596L772.2 600L774.7 604L778 606.1L784.9 608L812 611.4L822 611.8L822 828L568.5 828L568.3 780L570.6 758L576.8 730L588 701.3L593 680L593.4 670L592.4 660L590.3 652L587.3 646L580.5 638L570 629.8L554 619.7L534 609.8L504 599.9L452 587.6L442 583.9L438 581L434 576.4L426.6 558L422 552.6L408.1 546L399.3 538L376 531.3L368 527.1L358 520.2L353.3 516L348.7 510L343.4 498L340.3 484L338.1 460L335.5 452L328 441.7L318 434.4L306 430L286 426.5L270 425.5L256 426.5L240 430.8L228 435.7L206 446.8L193.3 456L188.1 462L184.6 468L183 474L183.2 478L185.7 484L197 498L202.7 508L208.4 522L209.6 532L208 541.4L204.5 548L198 552.8L190 554.9L182 554.9L174 552.8L164.9 548L157.6 542L151 534L111.6 478L103.1 464L95 444L93.4 438L93.2 432L95.7 428L98 426.9L120 425.2L124 423.5L127.1 420L131.3 406L138.9 390L142.6 376L143.7 360L141.2 348L135.6 336L132 331.8L128 329L120 326.5L90 322.1L80 319.1L69.5 314L60.1 308L54 302.5L48.8 296L41.8 284L36.9 272L28.8 230L26 222.8L22.9 220L18 218.3L-6 217.5L-6 143L18 142.1L28 139.1L50 122.7L78 92.3L100 74.3L108 69.7L116 66.9L126 64.9L138 64.2L152 65.4L164 68.4L176 73.3L184 79.1L190 88L199.1 120L205.5 134L211.5 142L218 148.5L224 153.1L230 155.7L236 156.2L242 155L250 152L262 145.5L290 123.8L316 110.1L320.1 106L328 94.3L332 91.7L336 90.8L346 92.8L355.3 98L383.6 126L388 129.2L398.5 134L406 141.5L410 143.1L416 142.5L423.2 138L427.7 132L430.3 124L431 114L428.9 106L423.5 98L418 93.4L406 88.3L403.6 84ZM462 325.9L456 327L448 330.9L440 337.8L434 345L421.6 366L418.4 374L417.7 378L418.3 382L422 385.9L426 387L430 386.8L442 382.2L462 368.8L472.5 358L476.9 348L477.5 342L476.9 338L475.2 334L472 329.8L468 327.1Z"/><path fill="#ffb3c0" fill-rule="evenodd" d="M437.5 -6L525.4 -6L527.4 14L526.8 22L522.4 40L516 52L510 58.5L500 65L490 69L478 71.5L468 71.7L458 70.1L448 66.2L440 61L432.5 54L428 47.3L424.1 38L422.9 30L423.6 24L425.8 18L437.5 0ZM571.4 36L582 35.2L590 35.8L597.1 38L602 41.5L604.7 46L605.4 52L604.2 60L602 65.6L597.7 72L592 77.1L584 82L576 85.4L568 87.4L562 87.6L554 86.4L548 84.2L538.7 78L531.4 70L528.3 62L529.8 54L536 46.8L544 42.3L556 38.7ZM122.3 80L136 79.6L154 82.9L164.8 88L172 95.4L178 106.7L181.1 118L181.9 136L177.2 156L179 162L184 167.6L192 172.9L203.5 178L254 192.5L260 192.6L266 191.3L276 185.4L282 178.8L289.4 164L293.7 158L307.7 146L318 131.8L324 127.5L330 125.1L340 123.7L350 125.8L358 130.5L388 154.5L406 160.7L416 161.3L430 157.5L438.9 154L459.7 142L494.3 120L516 109.8L530 105.7L544 103.5L596 100.8L606 99.5L614 96.8L628 87L634 83.8L642 80.9L652 78.6L662 79.1L674 83.2L684 89.2L694.1 98L701.5 108L707.1 120L709.6 132L709.3 144L706.1 160L693.2 202L687.2 216L680 226.5L663 242L640 255.5L620 269L566 311L556 316.8L544 320.9L530 323L520 322.2L512 319.4L504 315L490 306.2L474 294.3L464 288.9L454 285.2L440 281.6L432 280.2L428 280.5L424 283.5L422.7 288L422.3 342L421.5 348L419.8 352L418 353.6L414 354.1L396 347.2L388 345.9L380 347.5L366 353.7L360.8 358L358.2 362L356.5 368L354.5 382L352 388L348.1 394L342.4 400L338 402.9L332 404.9L326 405L318 402.9L289.3 392L256 387.9L242 384.4L198 365.4L189.3 360L184.4 354L181.5 348L166.2 302L153.5 276L149.2 258L149.2 250L151 242L169.7 194L170 190L168.4 186L162 180.6L152 177.5L142 176.8L126 178.6L122 177.9L119 176L112 168.4L108 167L102 168.1L86 175L80 175.8L70 173.2L64 169.5L60 165.3L58.5 162L57.5 156L59.6 136L64 122.7L72 110L82.8 98L94 89.7L108 83.2ZM330 241.9L322 246.8L317.1 254L315.3 260L315.1 264L317.7 272L324 277.7L334 280.7L344 279.8L352 276.2L358 270.1L360.6 264L360.6 256L358 249.3L352.8 244L346 241L338 240.2ZM536.5 356L546 354.4L554 356.4L559.2 362L560.6 370L559.6 374L556.4 380L533.9 408L526.1 416L515.1 424L512.5 428L511.4 436L513.2 446L517.3 458L522.9 466L530 469L544 469.8L554 471.9L562 474.9L569.7 480L582.1 492L590 502L595.6 512L602.5 528L608 536.4L617.8 546L630 553.4L648 560.2L675.2 566L702 568.8L728 568.8L738 570.3L742 572.2L746 576.8L747.9 582L751.3 602L755.3 608L760 611.4L768 614L822 616.8L822 666.2L804 667.4L796.4 670L789.1 678L786.4 684L785.9 688L787.8 696L800.3 720L812.1 754L816 758.6L822 758.6L822 828L573.1 828L575.1 782L578.6 762L588 730L592 721.7L604 702L609 686L610 674L609.1 662L606.7 652L602.6 644L581.7 620L568.8 596L559.6 582L554.2 576L548 571.6L534 566L476 548.1L450 538.2L428 527.9L422 527.3L404 529.3L390 528.2L382 526L373.3 522L363.8 516L358 511L354.3 506L350 496.1L348 488.1L347.1 480L347.3 472L348.8 464L351.8 456L356 449.4L362 443.2L368 438.9L374 436.1L398 430.2L400.7 428L404.4 420L408 416L428 407.5L442 403.4L464 402.9L472 401.1L514 368.5L526 360.9ZM141.1 404L156 403L166 404.3L168.3 406L170 410L169.6 416L167.1 422L162 426.9L154 429.9L148 429.4L140.5 426L137 422L135.5 414L136.9 408Z"/><path fill="#ff8ca1" fill-rule="evenodd" d="M455.4 -6L501.8 -6L502.7 14L500.1 30L498 36L494.6 42L490 47.2L486 50.2L476 53.2L468 53.1L462 51.9L452.2 46L444.4 36L442.6 30L442.9 24L447.9 12L455.4 0ZM646.3 88L656 86.5L665 88L676 93.5L686 101.3L692 108L698 118.3L701 128L701.5 140L699.5 154L692 180.2L686 195.6L678.9 208L670 219L658 229.2L644.9 236L634 238.1L628 236.6L622.7 232L619.3 226L616.3 216L615.9 208L618.3 186L615.4 150L614.8 126L618 112.7L624.7 102L634 93.5ZM119.9 102L130 101.6L140 102.4L146 104.1L152 108L155.7 114L156.7 120L155.9 126L153 132L148 136.9L142 140.1L122 145.2L112 146L104 145.4L98 143.8L92 140.7L87.4 136L85.2 130L85.8 124L89.9 116L95.6 110L102 106.1L110 103.6ZM550.7 128L562 126.3L574 128.3L583.2 134L586.7 138L590.1 144L591.5 154L588.5 164L582 172.2L572 178.7L558 181.9L546 180.9L534 175.9L529.4 172L526.7 168L525.2 162L525.5 156L527.6 148L530.4 142L538 134ZM310.4 156L314 156.2L318 158.1L321.7 162L323.7 166L325.8 178L325.3 196L321.9 210L316.2 222L308 230.5L304 232.4L300 232.7L296 230.8L294 228.8L289.6 220L286.9 206L287.1 190L290 180.1L296.2 166L302 159.8ZM451 174L466 173.8L480 177.6L492.8 186L503.5 198L518.2 222L533.4 256L534.6 262L534.1 268L532 273L528 277.3L524 279.6L518 281.5L504 281.9L492 279L468 266.2L454 261.9L430 258.7L426 260.1L420 266.5L416 268L410 266.5L404 261.5L400 254.9L397.4 248L395 236L394.4 226L395.9 216L404.7 192L411.1 186L426 179.1L436 176.2ZM189.2 188L198 187.4L210 189.5L220 193.3L226.3 198L234.6 210L241.7 230L244.7 236L268.6 264L277 278L282.6 292L288.1 310L291.4 326L292.9 340L292.4 352L290.4 360L286 367.7L280 372.7L274 375L266 375.7L256 374.6L246 372.1L225.8 364L208.2 352L200.1 344L195.8 338L185.4 314L162 273.5L157.7 262L156.2 252L157.5 244L161.4 230L170 208.8L178 194.2L182 190.4ZM536.5 476L544.3 476L554 478L562 481.9L568.4 488L573 494L576.2 500L581.5 522L585.6 532L594 543.9L604 553.1L614.9 560L626 564.9L674 578.5L680.5 582L686 587.9L690.2 596L693.1 604L699.2 632L702.5 638L714.9 654L721.9 666L747.1 724L776.9 800L781 816L782.1 828L577.2 828L579.6 788L583.3 768L590.8 748L598.9 730L604 721.5L618.2 702L629 682L632.1 674L633.9 666L634.2 652L631.3 642L624 630L608 609.9L583.8 584L570 572.6L558 564.9L518 547L510 540.3L503.9 532L500.6 524L499.8 516L501.8 504L506 493.5L512 485.6L520 479.4L526 477.2ZM774.5 622L780 620.4L786 620.1L822 621.7L822 659.3L794 660.1L788 658L781.5 654L776.3 648L773.3 640L771.7 628L772.6 624Z"/><path fill="#ff5c7e" fill-rule="evenodd" d="M468.5 8L474 6.2L480 7.2L484 10.6L486.4 16L486.5 24L484 29.7L480 33.5L474 35.9L468 35.9L464 34.4L460 30.5L458.2 26L458.2 22L460.4 16L464 11.3ZM656.3 108L664 106.1L672 107.8L680 113L685.5 120L687.9 128L687.7 136L684 143.8L678 148.9L670 151.6L660 150.9L652 146.9L646.4 140L644 132L644.9 122L648.9 114ZM553.7 152L558 150.5L562.1 152L564.4 156L563.1 160L558 162.4L554 161.1L552 158.6L551.5 156ZM189.3 200L196 198.7L204 199.6L211 202L216.7 206L223.6 216L238.7 246L255.3 264L263.6 278L267.2 288L269.2 298L270.7 322L269.1 332L266.8 338L262.1 344L258 346.5L248 348.1L238 346.4L228 342L220 335.6L214 327.8L206 313.3L192.6 282L178 266.7L171.6 256L166.9 242L166.6 236L168 228.6L172 218.9L178 208.7L182.3 204ZM451.2 208L464 206.3L472 207.1L482 211.1L491.4 218L506 233.1L524 255.8L527 264L525.1 270L520 273.5L514 274.9L506 274.9L498 273L491.4 270L474 259.2L442 242.7L435 238L430 232.8L427.2 228L426.4 224L427.3 220L430 216.6L434 213.9ZM542 490L550 489.6L558 493L562.7 498L566.3 506L566.8 516L564 523.8L560 528.4L552 532L544 532.3L537.3 530L532 525.2L528.7 518L527.9 508L530.1 500L534.4 494ZM613.1 572L624 573.4L656 581.8L664 586L669.2 592L671 600L669 612L665.4 622L657.3 636L655.4 642L655.3 648L657.2 654L660 658.2L666 662.2L686 666.8L700.5 672L708 677.8L714 686L723.2 702L732 720.4L761.5 796L766.6 814L768.1 828L580.7 828L583.8 786L585.7 776L589.1 766L596.9 750L608 731.9L615.8 722L629.3 708L634 701.4L640.3 688L643.3 676L643.3 658L641.4 648L638.7 640L631.7 628L605.8 594L601.3 586L601.2 580L603.7 576L608 573.2Z"/><path fill="#ff2f5b" fill-rule="evenodd" d="M191 226L194 224.9L198 225.4L204.4 230L219 254L236.4 280L240.3 290L242.5 302L241.2 310L238 314.3L236 315.3L232 315.3L228 313L225.3 310L208.3 278L189.7 250L186.2 242L185.4 236L187 230ZM672.8 694L684 692.4L696 694.2L704 698.4L710.2 706L724 731.1L734 755L749.1 802L753.2 820L753.6 828L584.2 828L586.3 796L588.3 782L593.6 766L602 750.7L612 737.2L622 727.8L658 701.3L666 696.6Z"/><path fill="#ff0a3c" fill-rule="evenodd" d="M667.1 726L684 725L696 727L705.4 732L713 740L722 754.4L734 782.3L744 811.8L746.3 822L746.4 828L589.1 828L591.5 792L593.8 780L600 764L608 751.3L618 739.9L630 732.5L644 728.6Z"/><path fill="#d8e1f8" fill-rule="evenodd" d="M-6 -6L381.9 -6L382.4 6L381.4 12L380 14.4L376 18.1L372 19.7L366 20.4L328 19.5L320.8 20L318 21.2L316.3 24L315.5 30L313.1 34L304 39.3L301.3 46L298.1 50L289.1 54L287.3 56L283.9 88L280.8 102L278 108L269.2 118L260 125.3L250 130.2L240 131.8L232 130.4L224 127.1L216.8 122L211.8 116L205.3 102L196.7 66L192.1 58L183.2 52L168 47.4L142 45.2L120 47.3L106 51.4L74 68.5L52 76L26 80L-6 79.3ZM723.1 -6L822 -6L822 248.7L776 248.8L770 247.7L766 245.7L754 234.2L741 218L732 204L724.4 188L721 178L719.6 168L719.9 158L722.9 132L722.3 118L720.6 108L707.5 62L704.6 42L705.3 36L707.4 30L722.5 2ZM-6 282L-6 280L0 280L6 282.4L11.6 286L48 324.9L56.5 332L66 337.8L76 341.2L84 341.6L92 340.3L108 335.6L116 335.4L120 336.7L125.2 340L128.9 344L132.4 350L135.7 362L135.5 374L132 389L122 415.5L120 417.4L116 418.8L98 419.4L86 422.5L82 425L80 427.5L77.5 436L74.4 462L75.4 472L77.9 482L81.7 492L90 508.6L97.6 520L105 528L128 547L170 573.9L180 577.8L188 579.3L198 579.3L206 577.8L215.6 574L224 569.2L230.6 564L236 557.9L242.3 548L246.9 538L249.4 530L253.8 508L260 493.4L265.2 486L271.6 480L276 477.4L282 476.4L286 477.5L289.7 480L295.7 488L299.9 502L302.6 526L306 531.8L310 535.1L318 538.7L328 541.2L362 543.3L396 549.2L418 556.2L423 562L430 584.5L434 592.8L438 597.6L448 604.5L486 622.9L492.3 628L498 636L501.4 644L502.6 650L500.5 680L501.9 690L505.3 700L509.1 706L516 712.9L544 732.2L551.6 742L557.1 754L559.6 764L560.8 774L564.1 828L321.3 828L322.5 796L321.3 766L318.3 752L310.5 734L302 723.1L290 714.9L272 709.1L252 707.1L230 709.3L218 714L212 718.3L206 724.5L194 741.9L186.9 758L182.3 776L179.7 804L179.9 828L-6 828L-6 689.6L0 689.6L6 687.7L12 684.8L18 680.1L25.3 672L30 665.2L32.8 658L33.6 652L32.5 642L29.5 632L24.4 622L18.5 614L14 610.1L9.2 608L2 606.5L-6 606.3L-6 547.5L2 547.2L8.9 544L14.1 536L15.5 528L13.2 520L8 512.6L2 509.4L-6 509ZM748.4 286L774 284.3L822 284.4L822 546.1L720 547L686 543.7L664 539.5L646 532.9L633.8 524L626 516L620 508.2L614.1 498L611.1 490L610.3 484L611.3 478L613.6 472L617.4 466L624 459.9L644 448.5L650 440.8L654 428L655.1 410L656.6 402L656 398L654 394.7L628 367.4L616 349.2L612 340L610.8 334L611.5 328L614.3 322L621.1 314L630 307.2L640 302.4L654 297.9L704 287ZM567 428L572 427.4L575.5 428L580.7 432L581.6 438L580 441.8L577.8 444L574 445.7L570 445.6L565.8 444L562 440L560.7 436L561.6 432L563.2 430Z"/><path fill="#b9caf3" fill-rule="evenodd" d="M-6 -6L121.4 -6L121.3 2L119.4 12L114 20L90 40.3L69.8 54L50 62.3L32 68.3L20 69.5L-6 68.9ZM209.9 -6L377.6 -6L378 6L376 12.1L374 14L370 15.7L326 15.3L318 16L314 17.8L312.3 20L309.8 30L300 36L295.5 46L286.2 50L283.9 52L281.8 58L278 84L275.8 90L268.7 102L263.5 108L256 114L248 117.7L242 118L235.8 116L228 109.9L222.2 102L218.4 92L215.6 76L213.6 56ZM790 46L822 44.6L822 224.4L784 224.1L774 222.5L766 219.2L752 208.7L743.8 200L737.2 188L733.3 174L733.2 158L742.5 108L742.1 78L742.7 72L744.6 66L750.7 58L760.4 52L770 48.9ZM763.7 292L778 291L822 291.2L822 539.2L746 539.7L720 538.9L676 533L664.7 530L654.5 526L641.6 518L635.4 512L630 505.1L625 494L624.9 490L626.6 484L630.1 478L636 471.8L642 467.8L654 462.3L660 455.6L663.9 442L667.6 408L671.4 402L677.5 398L680 395.2L683.1 374L686.7 360L693.4 344L699.4 334L714 317.1L728 305.9L746 296.5ZM-6 304L-6 303.2L0 303.2L8.8 308L30 333.6L63.7 362L70 369.5L75.4 382L77.2 394L75 414L73.2 418L70 421L62 422.5L-6 422.5ZM652.4 310L662 309.2L672 311.1L679.9 316L683.6 322L684.8 332L682.1 342L676.3 350L670 353.8L664 355.4L658 355.8L652 354.9L646 352.7L636 345.9L630.8 340L628.8 336L628.2 332L628.9 328L634 320.2L642 314ZM321.2 552L336 550.8L364 551.3L408 557.8L414 559.4L418.1 562L422.4 570L426.8 590L429.2 622L432 639.6L436 652.1L442.4 666L449.9 678L457.5 686L518 728.2L532 740L541 750L548.7 764L553.8 780L557.8 804L559.5 828L352.8 828L352.5 776L356.6 728L356.1 716L354 706.9L351.7 702L348 697.4L343.6 694L338 691.5L320 688.5L296 687.5L268 688.5L240 692.1L220 697.6L212 701.4L206 705.5L199.9 712L169.5 752L143.9 778L136 787.8L131.3 796L124.5 812L122.5 820L122.2 828L-6 828L-6 748.1L0 748.1L2 747.3L6.9 744L12 738.4L33.6 700L64 660L78.6 638L96 608.8L106 598.3L114 592.5L120 589.7L128 587.9L138 587.5L150 589.1L162 592L188 603.5L196 604.3L204 603.3L232 594.5L264 586.5L276 582.2L286 576.2L308 557.4L314 554Z"/><path fill="#9bb4ef" fill-rule="evenodd" d="M220.9 -6L374.3 -6L374.6 6L373 10L368 12.6L326 12.1L316 13.1L312 14.7L309.1 18L306 28L298 32.4L293.9 42L292 44L284 47L280.8 50L279.1 54L274 74.2L268.1 84L262 89.5L256 93.2L250 95.4L244 96.1L238 94.7L232 90L228.6 84L226.2 76L224 54ZM811.4 88L822 87.6L822 217.6L788 217.5L776.3 216L768 212.1L760.6 206L752 196.6L746 187.3L742 178.3L740 170L740.1 162L741.8 154L746 142.6L754 127.2L762 114.6L769.4 106L778 99.8L788 94.9L801.3 90ZM762.3 302L782 300.4L822 300.7L822 533.5L746 533.7L730 532.4L717.7 530L693.8 524L680.2 518L674 513.5L666.2 506L663.2 502L660.8 496L660.6 488L663 476L673 448L674.9 440L674.3 410L676.3 406L684 400.7L686.2 398L690.2 376L696.8 358L706 343.9L722 327.5L733.8 318L745.8 310L756 304.3ZM648.5 322L652 320.8L656 320.9L660 323.1L662.2 326L663.4 330L662.8 336L660.3 340L657.5 342L654 343L648.8 342L645.7 340L642.8 336L642 332L642.9 328L645.7 324ZM360.9 564L384 562.6L398 563.1L412 564.9L416 566.9L418 569.2L420.7 576L423.7 592L424.5 618L428 657.5L431.5 672L434.9 680L443.6 692L455.3 702L464.3 708L490 720.9L508 731.5L522 741.7L532.5 752L541.3 766L547.2 782L552.5 806L554.5 828L365.8 828L363.7 776L363.1 724L361.7 710L358.9 700L354.4 692L348 686.3L340 682.7L318 676.7L310 672.4L304 667.6L299.3 662L295.4 654L293.5 646L292.2 634L293.8 618L297.4 606L305 592L314 580.5L322 574.3L332 569.7L346 566ZM125.4 638L136 637.1L146 640L154.3 646L162.7 656L168 666.4L170.7 678L170.4 690L166.7 702L153.3 728L147.1 738L134.5 754L124 763.2L112 768.7L98 770.8L84 769.7L70 765.4L62 760.9L54.9 754L49.3 746L45.1 736L43.8 728L44.1 720L45.9 710L50 698L55.1 688L62 678.8L70 670.4L80 662L90.8 654L102 647.2L114 641.5ZM-6 758L6 757.9L12 759.9L20 766.8L25.9 776L27.4 782L27.6 790L22.2 822L22.1 828L-6 828Z"/><path fill="#7a9deb" fill-rule="evenodd" d="M237.6 -6L370 -6L370.1 4L368 7.7L366 8.4L326 7.9L316 8.6L310 10.6L304.8 16L302.1 24L293.7 30L288.8 40L282 42.7L278 45.9L274 54L270.7 58L268 59.3L262 60L256 59L250 56.1L246.1 52L244 48L239.7 26ZM767.2 318L784 316.2L822 316.8L822 528.2L748 528.3L734 525.4L720 519.7L714 515.2L709.1 508L702 490.5L691.1 468L686 452.9L683.4 440L680.8 412L682 409.3L689.4 404L692 400L696 380.2L704 362.7L714.9 350L734 334.5L750 324.8ZM375.1 570L390 569.2L404 570.4L412 572L416 575.5L418 580.5L420.6 592L422.6 650L424.9 672L426.3 680L430 689L436.7 698L449.5 708L504 737L518 746.6L526 754L534.3 766L541.7 784L548.1 810L549.6 828L373.8 828L369.4 722L368.1 700L366.5 690L364.3 684L360 678.3L341.7 666L332.1 656L326.9 644L325.5 630L326.6 614L328.8 604L332.2 596L337.5 588L344 581.6L354 575.2L364 571.9ZM95.7 714L104 712.5L112 713.4L120 716.4L126 721.3L129.1 728L129.1 736L126.7 742L122 747.1L114 750.8L102 751.5L92 748.3L86 743.2L82.8 736L82.5 732L83.7 726L88 718.8Z"/><path fill="#4d82e8" fill-rule="evenodd" d="M769.3 334L788 332.5L822 333.3L822 523.1L762 523.8L744 522.2L732.3 518L724 513.3L718.6 508L714.8 500L712.9 490L706.1 434L704.4 428L700.2 420L699.1 416L699.1 408L702 388L706 378.7L712 368.8L717.7 362L724 356.3L742 345.2L760 337.1ZM374.2 576L386 575.8L400 577.9L410 581.8L414 585.7L416 590.6L416.6 596L417.7 650L419.3 676L421.1 684L427.7 698L432.3 704L442 711.2L500 740.9L512 748.6L520.3 756L530 769.9L536.7 786L543.2 810L544.8 828L380 828L376 720L376.8 706L380.3 682L380.1 674L378.2 668L374 662L366 654.1L354 644.6L348 637.4L339.8 622L337.3 610L338 604L340.1 598L343.7 592L348 587.3L359.2 580Z"/><path fill="#1f63e4" fill-rule="evenodd" d="M750.8 354L770 352.1L822 352.5L822 517.3L766 518L750 517.1L740 514.4L732 510.4L726.9 506L724 501.5L721.8 494L720.8 480L723.2 432L721.2 426L713.4 420L711.4 416L711.2 410L713.2 396L717.7 382L726.6 368L736 360.2ZM372.5 584L382 583.9L392 587.4L399.8 594L403.9 602L405.6 612L404 624L399.8 632L396 635.5L392 637.4L386 638.6L380 638.2L372.3 636L366 632.8L356.2 624L349.6 612L348.5 606L349 602L353.4 594L360.9 588ZM406 692L412 690.9L416 691.7L419.4 696L424 707.2L430 712.7L448 722.5L496.7 746L506.4 752L513.3 758L524 772.3L530 785.3L537.7 812L538.9 828L386.7 828L384.4 756L385.7 720L388 711.2L392 704.3L400 696Z"/><path fill="#fff" d="M785 174H830V221H785ZM768.7 221H830V254H768.7ZM753.3 254H830V286H753.3ZM768.7 286H830V348H768.7ZM753.3 348H830V459H753.3ZM768.7 459H830V522.5H768.7ZM753.3 522.5H830V602.7H753.3ZM768.7 602.7H830V618H768.7ZM312 15H362V32H312ZM297 32H362V47.5H297ZM282 47.5H362V63.5H282ZM282 63.5H345.5V80H282ZM282 80H329V95.5H282Z"/>
<g fill="none" stroke="#33282e" stroke-width="2.8" stroke-linejoin="round" stroke-linecap="round"><path d="M82.9 38.7L84.3 27.6L89.8 16.6L98.1 9.7L109.1 6.9L118.8 9.7L120.8 16.6L117.4 23.5L109.1 29.0L98.1 34.5L89.8 41.4L84.3 41.4L82.9 38.7M106.4 -2.8L105.6 13.8L103.6 30.4L100.9 47.0L98.9 63.6L99.5 77.4L100.9 88.4M100.9 88.4L110.5 84.3L117.4 82.9L118.8 77.4L123.0 82.9L121.6 89.8L125.7 92.6L134.0 87.0L142.3 77.4L150.6 67.7M150.6 67.7L165.8 66.3L172.7 64.1L237.6 64.1L382.7 64.1M150.6 67.7L157.5 80.1L168.6 91.2L176.8 105.0L179.6 118.8L181.0 138.2L178.2 150.6M178.2 150.6L165.8 152.0L158.9 150.6L150.6 146.5L140.9 150.6L129.9 153.4L123.0 149.2L121.6 161.6L118.8 174.1L107.8 176.8L94.0 179.6L82.9 174.1L77.4 167.2L66.3 165.8L62.2 171.3M158.9 150.6L154.7 168.6L152.0 179.6L157.5 186.5L165.8 189.3L178.2 192.0L176.8 205.9L165.8 214.2L158.9 222.4L150.6 240.4L140.9 257.0L129.9 269.4L116.1 279.1L106.4 283.2L89.8 282.4M100.9 88.4L88.4 94.0L76.0 100.9L64.9 100.9L59.4 113.3L56.6 124.3L53.9 138.2L52.5 153.4L59.4 152.0L69.1 146.5L73.2 138.2L81.5 132.6L82.9 121.6L76.0 113.3L71.8 106.4L64.9 100.9M52.5 153.4L53.9 165.8L62.2 171.3L66.3 181.0L74.1 190.7L77.4 199.0L76.8 212.8M72.4 212.8L82.9 212.8M72.4 212.8L71.3 234.9L68.5 254.2L66.3 273.6L70.5 287.4L67.7 304.0L71.3 326.1L79.6 342.6L85.7 359.2L80.7 370.3L74.6 381.3L78.8 392.4L85.7 403.4L91.2 414.5M82.9 212.8L84.3 234.9L91.2 254.2L98.1 270.8L105.0 283.2L100.9 298.4L103.6 312.2L113.3 323.3L111.9 342.6L118.8 359.2L121.6 373.0L110.5 382.7L109.1 397.9L118.8 409.0L135.4 414.5M77.4 212.8L78.8 234.9L80.7 259.7L88.4 281.9L85.7 298.4L89.8 320.5L96.7 339.9L102.2 359.2L94.5 378.6L96.2 395.1L103.6 414.5M75.2 258.4L72.4 269.4L66.3 273.6M250.1 -2.8L252.8 13.8L243.2 30.4L234.9 49.7L236.3 64.1L243.2 66.3L240.4 82.9L234.9 105.0L229.3 127.1L233.5 138.2L229.3 149.2M250.1 13.8L259.7 16.6L269.4 23.5L268.6 30.4L261.1 34.5M229.3 149.2L237.6 142.3L243.2 154.7L237.1 167.2L239.0 179.6L245.9 174.1L252.0 165.8L259.7 160.3L257.0 149.2L265.3 143.7L276.3 146.5L281.9 154.7L292.9 157.5L304.0 160.3L302.6 176.8L299.0 190.1L306.7 182.9L313.6 181.0L309.5 165.8L312.2 154.7L320.5 152.0L328.8 158.9L342.6 160.8L356.5 149.2L367.5 138.2L364.7 132.6L350.9 136.0L337.1 132.6L323.3 136.0L312.2 129.9L304.5 123.0L315.0 124.9L331.6 127.1L342.6 121.6M382.7 64.9L378.6 74.6L370.3 82.9L373.6 94.0L359.2 97.3L356.5 107.8L345.4 113.3L339.9 121.6L334.4 127.1M381.3 -2.8L384.6 16.6L386.9 35.9L381.3 49.7L384.1 64.9M373.0 -2.8L371.7 64.1M385.5 22.1L395.1 26.3L403.4 19.3L414.5 16.6M386.9 35.9L400.7 30.4L414.5 27.6M382.7 64.9L414.5 82.3M233.5 140.9L240.4 149.2L248.7 143.7L255.6 150.6L250.1 158.9L257.0 165.8L248.7 172.7L241.8 165.8L237.6 176.8L243.2 181.0M304.0 163.0L309.5 171.3L302.6 179.6L310.9 183.8L301.2 190.7M276.3 146.5L283.2 150.6L281.9 157.5L276.3 154.7L276.3 146.5M334.4 118.8L342.6 117.4L346.8 124.3L338.5 128.5L334.4 118.8M367.5 85.7L374.4 88.4L370.3 95.3L377.2 98.1M259.7 18.0L268.0 20.7L269.4 27.6L262.5 31.8L261.1 24.9M403.3 79.2L502.2 134.7L598.5 187.5L608.1 193.0L610.9 204.0L604.0 215.0L602.6 220.5L610.9 224.7L615.0 232.9L701.6 294.8M500.9 137.5L507.7 138.9L506.4 154.0L502.2 164.4L496.7 164.4L499.5 151.2L500.9 137.5M422.5 242.5L418.4 236.5L425.2 232.4L441.7 222.2L455.5 211.7L461.0 217.2L453.3 228.8L436.8 238.1L426.6 243.6L422.5 242.5M485.7 237.0L488.5 220.0L494.0 215.9L495.6 225.5L491.8 238.1L487.1 239.8L485.7 237.0M583.4 51.4L593.0 56.9L601.8 52.8L614.2 50.0L604.5 55.5L596.3 59.7L588.0 55.5L583.4 51.4M403.3 8.2L417.0 6.9L423.9 13.7L429.4 20.6L422.5 23.4L414.2 22.0L403.3 27.5M818.5 118.2L810.2 129.2L807.5 148.5L791.0 159.5L769.0 166.4L762.1 178.7L760.7 198.0L749.7 214.5L742.9 233.7L736.0 247.5L730.5 258.5L726.4 275.0L716.7 291.5L701.6 295.6L703.0 305.2L697.5 321.7L693.4 338.2L686.5 357.5L678.2 371.2L675.5 385.0L681.0 398.7L683.7 412.5M730.5 310.7L744.2 312.1L745.6 324.5L741.5 341.0L731.9 345.1L731.9 330.0L730.5 310.7M708.5 363.0L714.0 376.7L722.2 387.7L726.4 404.2L719.5 408.4L705.7 396.0L701.6 379.5L708.5 363.0M719.5 255.7L727.7 248.9L734.6 247.5M88.4 409.2L95.3 430.0L109.1 446.5L121.6 453.4L132.6 467.3L138.2 485.2L146.5 497.7L157.5 511.5L164.4 521.1M135.4 409.2L146.5 423.1L154.7 436.9L160.3 442.4L157.0 450.7L161.6 461.7L165.8 478.3L174.1 497.7L182.4 517.0L190.7 530.8L197.6 541.9L199.0 552.9L190.7 557.9L179.6 548.8L165.8 541.9L154.7 539.1L152.0 529.4L160.3 522.0L171.3 519.2M105.0 409.2L110.5 423.1L124.3 434.1L138.2 447.9L146.5 467.3L152.0 483.8L160.3 500.4L168.6 519.8L176.8 533.6L185.1 544.6L193.4 552.9M171.3 519.2L55.3 537.7M19.3 602.7L19.3 577.8L33.2 561.2L47.0 547.4L55.3 537.7L64.9 541.9L71.8 550.2L69.1 561.2L58.0 575.0L44.2 591.6L33.2 595.8L19.3 602.7M26.3 581.9L41.4 564.0L55.3 546.0L62.2 548.8L49.7 568.1L35.9 584.7M91.2 564.0L99.5 544.6L110.5 536.3L129.9 539.1L118.8 544.6L110.5 555.7L102.2 569.5L94.0 570.1L91.2 564.0M236.3 485.2L243.2 479.7L251.5 481.1L262.5 492.1L273.6 503.2L283.2 508.7L281.9 512.9L272.2 510.1L259.7 503.2L248.7 507.3L243.2 500.4L237.6 492.1L236.3 485.2M284.6 525.3L290.1 519.8L298.4 522.5L304.0 530.8L299.8 536.3L290.1 535.0L284.6 525.3M199.0 544.6L210.0 544.6L221.1 552.9L226.6 561.2L237.6 565.4L245.9 572.3L257.0 576.4L270.8 579.2L284.6 587.5L298.4 591.6L309.5 597.1L312.2 608.2L320.5 609.6L331.6 606.8L348.2 608.2L359.2 608.2L370.3 612.3M312.2 597.1L317.8 605.4L328.8 611.0L334.4 624.8L335.7 638.6L345.4 646.9L350.9 657.9L357.8 670.4L345.4 680.0L331.6 686.9L334.4 699.4L338.5 713.2L328.8 727.0L330.2 735.3L334.4 751.9L333.0 768.5L337.1 779.5L346.8 785.0L339.9 793.3L320.5 798.9L310.9 807.1L315.0 826.5M370.3 612.3L373.0 630.3L378.6 641.3L386.9 655.2L389.6 666.2L386.9 682.8L392.4 704.9L395.1 724.2L397.9 738.1L386.9 754.6L378.6 768.5L381.3 782.3L389.6 793.3L393.8 809.9L397.9 826.5M370.3 612.3L374.4 602.7L381.3 602.7L392.4 611.0L403.4 622.0L414.5 633.1M414.5 743.6L403.4 760.2L397.9 771.2L400.7 787.8L406.2 804.4L409.0 826.5M92.6 710.4L99.5 699.4L110.5 691.1L118.8 686.9L125.7 691.1L127.1 702.1L123.0 713.2L114.7 722.9L105.0 725.6L96.7 721.5L92.6 710.4M99.5 713.2L109.1 699.4L118.8 693.9L121.6 702.1L113.3 713.2L103.6 718.7M33.2 595.8L38.7 605.4L41.4 622.0L35.9 646.9L41.4 671.7L33.2 688.3L27.6 704.9L20.7 724.2L24.9 740.8L35.9 751.9L47.0 762.9L55.3 774.0L66.3 783.7L82.9 785.0L95.3 787.8L94.0 776.7L99.5 772.6L111.9 770.4L111.9 826.5M-2.8 785.0L13.8 787.8L24.9 796.1L31.8 809.9L38.7 818.2L47.0 826.5M688.3 409.2L702.1 420.3L710.4 431.3L721.5 439.6L724.2 447.9L716.0 461.7L709.0 478.3L707.7 492.1L716.0 494.9L717.3 506.0L709.0 522.5L710.4 541.9L716.0 555.7L718.7 564.0L722.9 577.8L729.8 591.6L728.4 599.9L735.3 611.0L740.8 627.5L736.7 634.4L749.1 641.3L757.4 648.3L771.2 649.6L779.5 655.2L780.9 663.5L790.6 666.2L793.3 677.3L789.2 688.3L787.8 702.1L782.3 713.2L776.7 718.7L783.7 727.0L785.0 743.6L783.7 765.7L782.3 782.3L787.8 793.3L790.6 804.4L794.7 809.9L785.0 818.2L779.5 826.5M727.0 504.6L732.5 497.7L743.6 486.6L747.7 483.8L746.4 494.9L738.1 504.6L729.8 507.3L727.0 504.6M780.9 663.5L771.2 671.7L754.6 681.4L738.1 691.1L721.5 698.0L706.3 706.3L688.3 707.7L674.5 713.2L656.5 722.9L646.9 717.3L633.1 713.2L622.0 714.6L616.5 724.2L611.0 733.9L591.6 742.2L577.8 740.8L566.7 735.3L552.9 733.9L539.1 743.6L525.3 740.8L514.2 740.8L506.0 729.8L494.9 724.2L483.8 727.0L475.6 735.3L439.6 733.9L414.8 733.9M409.2 633.1L414.8 660.7L416.1 688.3L423.1 710.4L434.1 724.2L438.3 738.1L436.9 751.9L428.6 762.9L421.7 768.5M414.8 733.9L414.8 762.9L421.7 768.5M409.2 762.9L420.3 765.7L424.4 785.0L423.1 807.1L425.8 826.5"/><path d="M65.8 106.4L71.8 111.1L69.6 124.3L63.6 143.7L56.9 150.9L54.7 146.5L59.1 129.9L62.4 116.1ZM810.2 121.0L818.5 121.0L818.5 148.5L810.2 148.5Z" fill="#2a2a30" stroke="none"/></g>
</g></g>
<rect x="179.0" y="3157.0" width="816.5" height="824.0" fill="none" stroke="#160306" stroke-width="5"/>
<path d="M179.0 3981.0v12M292.8 3981.0v12M431.6 3981.0v12M554.5 3981.0v12M678.8 3981.0v12M802.5 3981.0v12M924.4 3981.0v12M179.0 3157.0h-12.5M179.0 3283.0h-12.5M179.0 3412.0h-12.5M179.0 3538.0h-12.5M179.0 3665.0h-12.5M179.0 3789.5h-12.5M179.0 3920.0h-12.5" stroke="#1a1a1a" stroke-width="2.8" fill="none"/>
<text x="185.5" y="4028.3" font-size="38.5" font-family='"Liberation Sans", Arial, Helvetica, sans-serif' fill="#111" text-anchor="middle" font-weight="bold" stroke="#111" stroke-width="0.5" textLength="79.0" lengthAdjust="spacingAndGlyphs">28E</text>
<text x="306.2" y="4028.3" font-size="38.5" font-family='"Liberation Sans", Arial, Helvetica, sans-serif' fill="#111" text-anchor="middle" font-weight="bold" stroke="#111" stroke-width="0.5" textLength="79.0" lengthAdjust="spacingAndGlyphs">30E</text>
<text x="430.1" y="4028.3" font-size="38.5" font-family='"Liberation Sans", Arial, Helvetica, sans-serif' fill="#111" text-anchor="middle" font-weight="bold" stroke="#111" stroke-width="0.5" textLength="79.0" lengthAdjust="spacingAndGlyphs">32E</text>
<text x="553.5" y="4028.3" font-size="38.5" font-family='"Liberation Sans", Arial, Helvetica, sans-serif' fill="#111" text-anchor="middle" font-weight="bold" stroke="#111" stroke-width="0.5" textLength="79.0" lengthAdjust="spacingAndGlyphs">34E</text>
<text x="677.5" y="4028.3" font-size="38.5" font-family='"Liberation Sans", Arial, Helvetica, sans-serif' fill="#111" text-anchor="middle" font-weight="bold" stroke="#111" stroke-width="0.5" textLength="79.0" lengthAdjust="spacingAndGlyphs">36E</text>
<text x="801.0" y="4028.3" font-size="38.5" font-family='"Liberation Sans", Arial, Helvetica, sans-serif' fill="#111" text-anchor="middle" font-weight="bold" stroke="#111" stroke-width="0.5" textLength="79.0" lengthAdjust="spacingAndGlyphs">38E</text>
<text x="923.7" y="4028.3" font-size="38.5" font-family='"Liberation Sans", Arial, Helvetica, sans-serif' fill="#111" text-anchor="middle" font-weight="bold" stroke="#111" stroke-width="0.5" textLength="79.0" lengthAdjust="spacingAndGlyphs">40E</text>
<text x="165.5" y="3172.5" font-size="38.5" font-family='"Liberation Sans", Arial, Helvetica, sans-serif' fill="#111" text-anchor="end" font-weight="bold" stroke="#111" stroke-width="0.5" textLength="53.0" lengthAdjust="spacingAndGlyphs">EQ</text>
<text x="157.5" y="3300.5" font-size="38.5" font-family='"Liberation Sans", Arial, Helvetica, sans-serif' fill="#111" text-anchor="end" font-weight="bold" stroke="#111" stroke-width="0.5" textLength="46.0" lengthAdjust="spacingAndGlyphs">2S</text>
<text x="157.5" y="3429.5" font-size="38.5" font-family='"Liberation Sans", Arial, Helvetica, sans-serif' fill="#111" text-anchor="end" font-weight="bold" stroke="#111" stroke-width="0.5" textLength="46.0" lengthAdjust="spacingAndGlyphs">4S</text>
<text x="157.5" y="3555.5" font-size="38.5" font-family='"Liberation Sans", Arial, Helvetica, sans-serif' fill="#111" text-anchor="end" font-weight="bold" stroke="#111" stroke-width="0.5" textLength="46.0" lengthAdjust="spacingAndGlyphs">6S</text>
<text x="157.5" y="3682.5" font-size="38.5" font-family='"Liberation Sans", Arial, Helvetica, sans-serif' fill="#111" text-anchor="end" font-weight="bold" stroke="#111" stroke-width="0.5" textLength="46.0" lengthAdjust="spacingAndGlyphs">8S</text>
<text x="163.5" y="3807.0" font-size="38.5" font-family='"Liberation Sans", Arial, Helvetica, sans-serif' fill="#111" text-anchor="end" font-weight="bold" stroke="#111" stroke-width="0.5" textLength="72.0" lengthAdjust="spacingAndGlyphs">10S</text>
<text x="163.5" y="3937.5" font-size="38.5" font-family='"Liberation Sans", Arial, Helvetica, sans-serif' fill="#111" text-anchor="end" font-weight="bold" stroke="#111" stroke-width="0.5" textLength="72.0" lengthAdjust="spacingAndGlyphs">12S</text>
<text x="183.5" y="3142.7" font-size="59" font-family='"Liberation Sans", Arial, Helvetica, sans-serif' fill="#111" stroke="#111" stroke-width="0.8" textLength="141.0" lengthAdjust="spacingAndGlyphs">EOF4</text>
<text x="379.5" y="3142.7" font-size="59" font-family='"Liberation Sans", Arial, Helvetica, sans-serif' fill="#111" stroke="#111" stroke-width="0.8" textLength="173.0" lengthAdjust="spacingAndGlyphs">4.24%</text>
<text x="12.5" y="3101.0" font-size="75" font-family='"Liberation Sans", Arial, Helvetica, sans-serif' fill="#111" stroke="#111" stroke-width="0.8" textLength="65.0" lengthAdjust="spacingAndGlyphs">d)</text>
<path d="M1466.5 630.2H2441.5" stroke="#1a1a1a" stroke-width="2.8" fill="none"/>
<clipPath id="cce"><rect x="1464.5" y="217.0" width="979.0" height="826.5"/></clipPath>
<polyline points="1466.5,219.0 1484.2,552.1 1502.0,321.8 1519.7,702.6 1537.4,694.0 1555.1,702.6 1572.9,406.1 1590.6,397.9 1608.3,727.7 1626.0,619.1 1643.8,733.1 1661.5,580.9 1679.2,761.9 1697.0,690.7 1714.7,772.5 1732.4,756.5 1750.1,564.5 1767.9,408.2 1785.6,352.2 1803.3,680.8 1821.0,749.5 1838.8,445.2 1856.5,776.7 1874.2,603.9 1892.0,666.9 1909.7,511.8 1927.4,830.5 1945.1,642.6 1962.9,451.4 1980.6,650.8 1998.3,633.1 2016.0,726.1 2033.8,784.5 2051.5,585.8 2069.2,747.9 2087.0,747.9 2104.7,389.3 2122.4,596.1 2140.1,635.6 2157.9,757.7 2175.6,727.7 2193.3,500.3 2211.0,894.3 2228.8,603.9 2246.5,929.2 2264.2,396.7 2282.0,663.1 2299.7,659.9 2317.4,720.7 2335.1,796.8 2352.9,531.5 2370.6,727.7 2388.3,691.9 2406.0,569.8 2423.8,623.3 2441.5,652.9" fill="none" stroke="#2146c6" stroke-width="4.2" stroke-linejoin="miter" stroke-miterlimit="6" clip-path="url(#cce)"/>
<rect x="1466.5" y="219.0" width="975.0" height="822.5" fill="none" stroke="#0c0c0c" stroke-width="4.2"/>
<path d="M1484.2 219.0v16.5M1484.2 1041.5v-16.5M1502.0 219.0v16.5M1502.0 1041.5v-16.5M1519.7 219.0v16.5M1519.7 1041.5v-16.5M1537.4 219.0v37M1537.4 1041.5v-37M1555.1 219.0v16.5M1555.1 1041.5v-16.5M1572.9 219.0v16.5M1572.9 1041.5v-16.5M1590.6 219.0v16.5M1590.6 1041.5v-16.5M1608.3 219.0v16.5M1608.3 1041.5v-16.5M1626.0 219.0v37M1626.0 1041.5v-37M1643.8 219.0v16.5M1643.8 1041.5v-16.5M1661.5 219.0v16.5M1661.5 1041.5v-16.5M1679.2 219.0v16.5M1679.2 1041.5v-16.5M1697.0 219.0v16.5M1697.0 1041.5v-16.5M1714.7 219.0v37M1714.7 1041.5v-37M1732.4 219.0v16.5M1732.4 1041.5v-16.5M1750.1 219.0v16.5M1750.1 1041.5v-16.5M1767.9 219.0v16.5M1767.9 1041.5v-16.5M1785.6 219.0v16.5M1785.6 1041.5v-16.5M1803.3 219.0v37M1803.3 1041.5v-37M1821.0 219.0v16.5M1821.0 1041.5v-16.5M1838.8 219.0v16.5M1838.8 1041.5v-16.5M1856.5 219.0v16.5M1856.5 1041.5v-16.5M1874.2 219.0v16.5M1874.2 1041.5v-16.5M1892.0 219.0v37M1892.0 1041.5v-37M1909.7 219.0v16.5M1909.7 1041.5v-16.5M1927.4 219.0v16.5M1927.4 1041.5v-16.5M1945.1 219.0v16.5M1945.1 1041.5v-16.5M1962.9 219.0v16.5M1962.9 1041.5v-16.5M1980.6 219.0v37M1980.6 1041.5v-37M1998.3 219.0v16.5M1998.3 1041.5v-16.5M2016.0 219.0v16.5M2016.0 1041.5v-16.5M2033.8 219.0v16.5M2033.8 1041.5v-16.5M2051.5 219.0v16.5M2051.5 1041.5v-16.5M2069.2 219.0v37M2069.2 1041.5v-37M2087.0 219.0v16.5M2087.0 1041.5v-16.5M2104.7 219.0v16.5M2104.7 1041.5v-16.5M2122.4 219.0v16.5M2122.4 1041.5v-16.5M2140.1 219.0v16.5M2140.1 1041.5v-16.5M2157.9 219.0v37M2157.9 1041.5v-37M2175.6 219.0v16.5M2175.6 1041.5v-16.5M2193.3 219.0v16.5M2193.3 1041.5v-16.5M2211.0 219.0v16.5M2211.0 1041.5v-16.5M2228.8 219.0v16.5M2228.8 1041.5v-16.5M2246.5 219.0v37M2246.5 1041.5v-37M2264.2 219.0v16.5M2264.2 1041.5v-16.5M2282.0 219.0v16.5M2282.0 1041.5v-16.5M2299.7 219.0v16.5M2299.7 1041.5v-16.5M2317.4 219.0v16.5M2317.4 1041.5v-16.5M2335.1 219.0v37M2335.1 1041.5v-37M2352.9 219.0v16.5M2352.9 1041.5v-16.5M2370.6 219.0v16.5M2370.6 1041.5v-16.5M2388.3 219.0v16.5M2388.3 1041.5v-16.5M2406.0 219.0v16.5M2406.0 1041.5v-16.5M2423.8 219.0v37M2423.8 1041.5v-37M1466.5 219.0h-15M1466.5 424.6h-15M1466.5 630.2h-15M1466.5 835.9h-15M1466.5 1041.5h-15" stroke="#0c0c0c" stroke-width="3.6" fill="none"/>
<text x="1437.0" y="234.5" font-size="36.5" font-family='"Liberation Sans", Arial, Helvetica, sans-serif' fill="#111" text-anchor="end" stroke="#111" stroke-width="0.8" textLength="21.0" lengthAdjust="spacingAndGlyphs">1</text>
<text x="1437.0" y="440.1" font-size="36.5" font-family='"Liberation Sans", Arial, Helvetica, sans-serif' fill="#111" text-anchor="end" stroke="#111" stroke-width="0.8" textLength="69.0" lengthAdjust="spacingAndGlyphs">0.5</text>
<text x="1437.0" y="645.8" font-size="36.5" font-family='"Liberation Sans", Arial, Helvetica, sans-serif' fill="#111" text-anchor="end" stroke="#111" stroke-width="0.8" textLength="24.0" lengthAdjust="spacingAndGlyphs">0</text>
<text x="1437.0" y="851.4" font-size="36.5" font-family='"Liberation Sans", Arial, Helvetica, sans-serif' fill="#111" text-anchor="end" stroke="#111" stroke-width="0.8" textLength="106.0" lengthAdjust="spacingAndGlyphs">−0.5</text>
<text x="1437.0" y="1057.0" font-size="36.5" font-family='"Liberation Sans", Arial, Helvetica, sans-serif' fill="#111" text-anchor="end" stroke="#111" stroke-width="0.8" textLength="57.0" lengthAdjust="spacingAndGlyphs">−1</text>
<text x="1537.4" y="1081.0" font-size="40" font-family='"Liberation Sans", Arial, Helvetica, sans-serif' fill="#111" text-anchor="middle" stroke="#111" stroke-width="0.8" textLength="57.5" lengthAdjust="spacingAndGlyphs">65</text>
<text x="1626.0" y="1081.0" font-size="40" font-family='"Liberation Sans", Arial, Helvetica, sans-serif' fill="#111" text-anchor="middle" stroke="#111" stroke-width="0.8" textLength="57.5" lengthAdjust="spacingAndGlyphs">70</text>
<text x="1714.7" y="1081.0" font-size="40" font-family='"Liberation Sans", Arial, Helvetica, sans-serif' fill="#111" text-anchor="middle" stroke="#111" stroke-width="0.8" textLength="57.5" lengthAdjust="spacingAndGlyphs">75</text>
<text x="1803.3" y="1081.0" font-size="40" font-family='"Liberation Sans", Arial, Helvetica, sans-serif' fill="#111" text-anchor="middle" stroke="#111" stroke-width="0.8" textLength="57.5" lengthAdjust="spacingAndGlyphs">80</text>
<text x="1892.0" y="1081.0" font-size="40" font-family='"Liberation Sans", Arial, Helvetica, sans-serif' fill="#111" text-anchor="middle" stroke="#111" stroke-width="0.8" textLength="57.5" lengthAdjust="spacingAndGlyphs">85</text>
<text x="1980.6" y="1081.0" font-size="40" font-family='"Liberation Sans", Arial, Helvetica, sans-serif' fill="#111" text-anchor="middle" stroke="#111" stroke-width="0.8" textLength="57.5" lengthAdjust="spacingAndGlyphs">90</text>
<text x="2069.2" y="1081.0" font-size="40" font-family='"Liberation Sans", Arial, Helvetica, sans-serif' fill="#111" text-anchor="middle" stroke="#111" stroke-width="0.8" textLength="57.5" lengthAdjust="spacingAndGlyphs">95</text>
<text x="2157.9" y="1081.0" font-size="40" font-family='"Liberation Sans", Arial, Helvetica, sans-serif' fill="#111" text-anchor="middle" stroke="#111" stroke-width="0.8" textLength="57.5" lengthAdjust="spacingAndGlyphs">00</text>
<text x="2246.5" y="1081.0" font-size="40" font-family='"Liberation Sans", Arial, Helvetica, sans-serif' fill="#111" text-anchor="middle" stroke="#111" stroke-width="0.8" textLength="57.5" lengthAdjust="spacingAndGlyphs">05</text>
<text x="2335.1" y="1081.0" font-size="40" font-family='"Liberation Sans", Arial, Helvetica, sans-serif' fill="#111" text-anchor="middle" stroke="#111" stroke-width="0.8" textLength="57.5" lengthAdjust="spacingAndGlyphs">10</text>
<text x="2423.8" y="1081.0" font-size="40" font-family='"Liberation Sans", Arial, Helvetica, sans-serif' fill="#111" text-anchor="middle" stroke="#111" stroke-width="0.8" textLength="57.5" lengthAdjust="spacingAndGlyphs">15</text>
<text x="1954.0" y="1128.0" font-size="40" font-family='"DejaVu Serif", "Liberation Serif", serif' fill="#111" text-anchor="middle" font-weight="bold" stroke="#111" stroke-width="0.5" textLength="102.0" lengthAdjust="spacingAndGlyphs">Year</text>
<text x="1473.0" y="205.7" font-size="59" font-family='"Liberation Sans", Arial, Helvetica, sans-serif' fill="#111" stroke="#111" stroke-width="0.8" textLength="112.0" lengthAdjust="spacingAndGlyphs">PC1</text>
<text x="1311.5" y="168.0" font-size="75" font-family='"Liberation Sans", Arial, Helvetica, sans-serif' fill="#111" stroke="#111" stroke-width="0.8" textLength="66.0" lengthAdjust="spacingAndGlyphs">e)</text>
<path d="M1466.5 1609.8H2441.5" stroke="#1a1a1a" stroke-width="2.8" fill="none"/>
<clipPath id="ccf"><rect x="1464.5" y="1196.5" width="979.0" height="826.5"/></clipPath>
<polyline points="1466.5,1646.8 1484.2,1839.2 1502.0,1780.0 1519.7,1453.9 1537.4,1892.3 1555.1,1328.5 1572.9,1659.5 1590.6,1318.2 1608.3,1645.5 1626.0,1668.1 1643.8,1724.1 1661.5,1562.0 1679.2,1527.5 1697.0,1973.3 1714.7,1612.6 1732.4,1828.5 1750.1,1367.9 1767.9,1631.5 1785.6,1816.6 1803.3,1875.8 1821.0,1343.3 1838.8,1486.4 1856.5,1656.2 1874.2,1757.0 1892.0,1604.4 1909.7,1687.5 1927.4,1467.9 1945.1,1384.8 1962.9,1710.1 1980.6,1267.6 1998.3,1830.2 2016.0,1439.9 2033.8,1671.8 2051.5,1259.4 2069.2,1501.2 2087.0,1607.3 2104.7,1312.8 2122.4,1210.0 2140.1,1624.6 2157.9,1827.7 2175.6,1506.1 2193.3,1562.0 2211.0,1577.7 2228.8,1886.1 2246.5,1534.1 2264.2,1481.0 2282.0,1607.3 2299.7,1726.5 2317.4,1642.2 2335.1,1604.4 2352.9,1670.2 2370.6,1530.8 2388.3,1601.9 2406.0,1792.8 2423.8,1527.5 2441.5,1996.3" fill="none" stroke="#2146c6" stroke-width="4.2" stroke-linejoin="miter" stroke-miterlimit="6" clip-path="url(#ccf)"/>
<rect x="1466.5" y="1198.5" width="975.0" height="822.5" fill="none" stroke="#0c0c0c" stroke-width="4.2"/>
<path d="M1484.2 1198.5v16.5M1484.2 2021.0v-16.5M1502.0 1198.5v16.5M1502.0 2021.0v-16.5M1519.7 1198.5v16.5M1519.7 2021.0v-16.5M1537.4 1198.5v37M1537.4 2021.0v-37M1555.1 1198.5v16.5M1555.1 2021.0v-16.5M1572.9 1198.5v16.5M1572.9 2021.0v-16.5M1590.6 1198.5v16.5M1590.6 2021.0v-16.5M1608.3 1198.5v16.5M1608.3 2021.0v-16.5M1626.0 1198.5v37M1626.0 2021.0v-37M1643.8 1198.5v16.5M1643.8 2021.0v-16.5M1661.5 1198.5v16.5M1661.5 2021.0v-16.5M1679.2 1198.5v16.5M1679.2 2021.0v-16.5M1697.0 1198.5v16.5M1697.0 2021.0v-16.5M1714.7 1198.5v37M1714.7 2021.0v-37M1732.4 1198.5v16.5M1732.4 2021.0v-16.5M1750.1 1198.5v16.5M1750.1 2021.0v-16.5M1767.9 1198.5v16.5M1767.9 2021.0v-16.5M1785.6 1198.5v16.5M1785.6 2021.0v-16.5M1803.3 1198.5v37M1803.3 2021.0v-37M1821.0 1198.5v16.5M1821.0 2021.0v-16.5M1838.8 1198.5v16.5M1838.8 2021.0v-16.5M1856.5 1198.5v16.5M1856.5 2021.0v-16.5M1874.2 1198.5v16.5M1874.2 2021.0v-16.5M1892.0 1198.5v37M1892.0 2021.0v-37M1909.7 1198.5v16.5M1909.7 2021.0v-16.5M1927.4 1198.5v16.5M1927.4 2021.0v-16.5M1945.1 1198.5v16.5M1945.1 2021.0v-16.5M1962.9 1198.5v16.5M1962.9 2021.0v-16.5M1980.6 1198.5v37M1980.6 2021.0v-37M1998.3 1198.5v16.5M1998.3 2021.0v-16.5M2016.0 1198.5v16.5M2016.0 2021.0v-16.5M2033.8 1198.5v16.5M2033.8 2021.0v-16.5M2051.5 1198.5v16.5M2051.5 2021.0v-16.5M2069.2 1198.5v37M2069.2 2021.0v-37M2087.0 1198.5v16.5M2087.0 2021.0v-16.5M2104.7 1198.5v16.5M2104.7 2021.0v-16.5M2122.4 1198.5v16.5M2122.4 2021.0v-16.5M2140.1 1198.5v16.5M2140.1 2021.0v-16.5M2157.9 1198.5v37M2157.9 2021.0v-37M2175.6 1198.5v16.5M2175.6 2021.0v-16.5M2193.3 1198.5v16.5M2193.3 2021.0v-16.5M2211.0 1198.5v16.5M2211.0 2021.0v-16.5M2228.8 1198.5v16.5M2228.8 2021.0v-16.5M2246.5 1198.5v37M2246.5 2021.0v-37M2264.2 1198.5v16.5M2264.2 2021.0v-16.5M2282.0 1198.5v16.5M2282.0 2021.0v-16.5M2299.7 1198.5v16.5M2299.7 2021.0v-16.5M2317.4 1198.5v16.5M2317.4 2021.0v-16.5M2335.1 1198.5v37M2335.1 2021.0v-37M2352.9 1198.5v16.5M2352.9 2021.0v-16.5M2370.6 1198.5v16.5M2370.6 2021.0v-16.5M2388.3 1198.5v16.5M2388.3 2021.0v-16.5M2406.0 1198.5v16.5M2406.0 2021.0v-16.5M2423.8 1198.5v37M2423.8 2021.0v-37M1466.5 1198.5h-15M1466.5 1404.1h-15M1466.5 1609.8h-15M1466.5 1815.4h-15M1466.5 2021.0h-15" stroke="#0c0c0c" stroke-width="3.6" fill="none"/>
<text x="1437.0" y="1214.0" font-size="36.5" font-family='"Liberation Sans", Arial, Helvetica, sans-serif' fill="#111" text-anchor="end" stroke="#111" stroke-width="0.8" textLength="21.0" lengthAdjust="spacingAndGlyphs">1</text>
<text x="1437.0" y="1419.6" font-size="36.5" font-family='"Liberation Sans", Arial, Helvetica, sans-serif' fill="#111" text-anchor="end" stroke="#111" stroke-width="0.8" textLength="69.0" lengthAdjust="spacingAndGlyphs">0.5</text>
<text x="1437.0" y="1625.2" font-size="36.5" font-family='"Liberation Sans", Arial, Helvetica, sans-serif' fill="#111" text-anchor="end" stroke="#111" stroke-width="0.8" textLength="24.0" lengthAdjust="spacingAndGlyphs">0</text>
<text x="1437.0" y="1830.9" font-size="36.5" font-family='"Liberation Sans", Arial, Helvetica, sans-serif' fill="#111" text-anchor="end" stroke="#111" stroke-width="0.8" textLength="106.0" lengthAdjust="spacingAndGlyphs">−0.5</text>
<text x="1437.0" y="2036.5" font-size="36.5" font-family='"Liberation Sans", Arial, Helvetica, sans-serif' fill="#111" text-anchor="end" stroke="#111" stroke-width="0.8" textLength="57.0" lengthAdjust="spacingAndGlyphs">−1</text>
<text x="1537.4" y="2060.5" font-size="40" font-family='"Liberation Sans", Arial, Helvetica, sans-serif' fill="#111" text-anchor="middle" stroke="#111" stroke-width="0.8" textLength="57.5" lengthAdjust="spacingAndGlyphs">65</text>
<text x="1626.0" y="2060.5" font-size="40" font-family='"Liberation Sans", Arial, Helvetica, sans-serif' fill="#111" text-anchor="middle" stroke="#111" stroke-width="0.8" textLength="57.5" lengthAdjust="spacingAndGlyphs">70</text>
<text x="1714.7" y="2060.5" font-size="40" font-family='"Liberation Sans", Arial, Helvetica, sans-serif' fill="#111" text-anchor="middle" stroke="#111" stroke-width="0.8" textLength="57.5" lengthAdjust="spacingAndGlyphs">75</text>
<text x="1803.3" y="2060.5" font-size="40" font-family='"Liberation Sans", Arial, Helvetica, sans-serif' fill="#111" text-anchor="middle" stroke="#111" stroke-width="0.8" textLength="57.5" lengthAdjust="spacingAndGlyphs">80</text>
<text x="1892.0" y="2060.5" font-size="40" font-family='"Liberation Sans", Arial, Helvetica, sans-serif' fill="#111" text-anchor="middle" stroke="#111" stroke-width="0.8" textLength="57.5" lengthAdjust="spacingAndGlyphs">85</text>
<text x="1980.6" y="2060.5" font-size="40" font-family='"Liberation Sans", Arial, Helvetica, sans-serif' fill="#111" text-anchor="middle" stroke="#111" stroke-width="0.8" textLength="57.5" lengthAdjust="spacingAndGlyphs">90</text>
<text x="2069.2" y="2060.5" font-size="40" font-family='"Liberation Sans", Arial, Helvetica, sans-serif' fill="#111" text-anchor="middle" stroke="#111" stroke-width="0.8" textLength="57.5" lengthAdjust="spacingAndGlyphs">95</text>
<text x="2157.9" y="2060.5" font-size="40" font-family='"Liberation Sans", Arial, Helvetica, sans-serif' fill="#111" text-anchor="middle" stroke="#111" stroke-width="0.8" textLength="57.5" lengthAdjust="spacingAndGlyphs">00</text>
<text x="2246.5" y="2060.5" font-size="40" font-family='"Liberation Sans", Arial, Helvetica, sans-serif' fill="#111" text-anchor="middle" stroke="#111" stroke-width="0.8" textLength="57.5" lengthAdjust="spacingAndGlyphs">05</text>
<text x="2335.1" y="2060.5" font-size="40" font-family='"Liberation Sans", Arial, Helvetica, sans-serif' fill="#111" text-anchor="middle" stroke="#111" stroke-width="0.8" textLength="57.5" lengthAdjust="spacingAndGlyphs">10</text>
<text x="2423.8" y="2060.5" font-size="40" font-family='"Liberation Sans", Arial, Helvetica, sans-serif' fill="#111" text-anchor="middle" stroke="#111" stroke-width="0.8" textLength="57.5" lengthAdjust="spacingAndGlyphs">15</text>
<text x="1954.0" y="2107.5" font-size="40" font-family='"DejaVu Serif", "Liberation Serif", serif' fill="#111" text-anchor="middle" font-weight="bold" stroke="#111" stroke-width="0.5" textLength="102.0" lengthAdjust="spacingAndGlyphs">Year</text>
<text x="1473.0" y="1185.2" font-size="59" font-family='"Liberation Sans", Arial, Helvetica, sans-serif' fill="#111" stroke="#111" stroke-width="0.8" textLength="112.0" lengthAdjust="spacingAndGlyphs">PC2</text>
<text x="1311.5" y="1147.5" font-size="75" font-family='"Liberation Sans", Arial, Helvetica, sans-serif' fill="#111" stroke="#111" stroke-width="0.8" textLength="52.0" lengthAdjust="spacingAndGlyphs">f)</text>
<path d="M1463.7 2590.4H2441.5" stroke="#1a1a1a" stroke-width="2.8" fill="none"/>
<clipPath id="ccg"><rect x="1461.7" y="2176.3" width="981.8" height="828.2"/></clipPath>
<polyline points="1463.7,2376.1 1481.5,2274.3 1499.3,2575.6 1517.0,2575.6 1534.8,2593.3 1552.6,2620.1 1570.4,2669.9 1588.1,2598.6 1605.9,2540.9 1623.7,2244.2 1641.5,2549.2 1659.3,2809.6 1677.0,2726.0 1694.8,2307.7 1712.6,2701.7 1730.4,2530.2 1748.2,2456.1 1765.9,2503.9 1783.7,2740.0 1801.5,2685.6 1819.3,2654.3 1837.0,2616.0 1854.8,2734.6 1872.6,2960.1 1890.4,2491.9 1908.2,2601.9 1925.9,2553.3 1943.7,2411.5 1961.5,2740.0 1979.3,2699.6 1997.0,2825.3 2014.8,2996.3 2032.6,2911.8 2050.4,2827.4 2068.2,2800.6 2085.9,2761.0 2103.7,2519.9 2121.5,2558.3 2139.3,2818.3 2157.0,2661.3 2174.8,2320.9 2192.6,2550.4 2210.4,2367.0 2228.2,2556.6 2245.9,2556.6 2263.7,2521.6 2281.5,2367.0 2299.3,2565.3 2317.1,2355.5 2334.8,2309.3 2352.6,2617.6 2370.4,2245.9 2388.2,2420.2 2405.9,2841.0 2423.7,2505.9 2441.5,2647.3" fill="none" stroke="#2146c6" stroke-width="4.2" stroke-linejoin="miter" stroke-miterlimit="6" clip-path="url(#ccg)"/>
<rect x="1463.7" y="2178.3" width="977.8" height="824.2" fill="none" stroke="#0c0c0c" stroke-width="4.2"/>
<path d="M1481.5 2178.3v16.5M1481.5 3002.5v-16.5M1499.3 2178.3v16.5M1499.3 3002.5v-16.5M1517.0 2178.3v16.5M1517.0 3002.5v-16.5M1534.8 2178.3v37M1534.8 3002.5v-37M1552.6 2178.3v16.5M1552.6 3002.5v-16.5M1570.4 2178.3v16.5M1570.4 3002.5v-16.5M1588.1 2178.3v16.5M1588.1 3002.5v-16.5M1605.9 2178.3v16.5M1605.9 3002.5v-16.5M1623.7 2178.3v37M1623.7 3002.5v-37M1641.5 2178.3v16.5M1641.5 3002.5v-16.5M1659.3 2178.3v16.5M1659.3 3002.5v-16.5M1677.0 2178.3v16.5M1677.0 3002.5v-16.5M1694.8 2178.3v16.5M1694.8 3002.5v-16.5M1712.6 2178.3v37M1712.6 3002.5v-37M1730.4 2178.3v16.5M1730.4 3002.5v-16.5M1748.2 2178.3v16.5M1748.2 3002.5v-16.5M1765.9 2178.3v16.5M1765.9 3002.5v-16.5M1783.7 2178.3v16.5M1783.7 3002.5v-16.5M1801.5 2178.3v37M1801.5 3002.5v-37M1819.3 2178.3v16.5M1819.3 3002.5v-16.5M1837.0 2178.3v16.5M1837.0 3002.5v-16.5M1854.8 2178.3v16.5M1854.8 3002.5v-16.5M1872.6 2178.3v16.5M1872.6 3002.5v-16.5M1890.4 2178.3v37M1890.4 3002.5v-37M1908.2 2178.3v16.5M1908.2 3002.5v-16.5M1925.9 2178.3v16.5M1925.9 3002.5v-16.5M1943.7 2178.3v16.5M1943.7 3002.5v-16.5M1961.5 2178.3v16.5M1961.5 3002.5v-16.5M1979.3 2178.3v37M1979.3 3002.5v-37M1997.0 2178.3v16.5M1997.0 3002.5v-16.5M2014.8 2178.3v16.5M2014.8 3002.5v-16.5M2032.6 2178.3v16.5M2032.6 3002.5v-16.5M2050.4 2178.3v16.5M2050.4 3002.5v-16.5M2068.2 2178.3v37M2068.2 3002.5v-37M2085.9 2178.3v16.5M2085.9 3002.5v-16.5M2103.7 2178.3v16.5M2103.7 3002.5v-16.5M2121.5 2178.3v16.5M2121.5 3002.5v-16.5M2139.3 2178.3v16.5M2139.3 3002.5v-16.5M2157.0 2178.3v37M2157.0 3002.5v-37M2174.8 2178.3v16.5M2174.8 3002.5v-16.5M2192.6 2178.3v16.5M2192.6 3002.5v-16.5M2210.4 2178.3v16.5M2210.4 3002.5v-16.5M2228.2 2178.3v16.5M2228.2 3002.5v-16.5M2245.9 2178.3v37M2245.9 3002.5v-37M2263.7 2178.3v16.5M2263.7 3002.5v-16.5M2281.5 2178.3v16.5M2281.5 3002.5v-16.5M2299.3 2178.3v16.5M2299.3 3002.5v-16.5M2317.1 2178.3v16.5M2317.1 3002.5v-16.5M2334.8 2178.3v37M2334.8 3002.5v-37M2352.6 2178.3v16.5M2352.6 3002.5v-16.5M2370.4 2178.3v16.5M2370.4 3002.5v-16.5M2388.2 2178.3v16.5M2388.2 3002.5v-16.5M2405.9 2178.3v16.5M2405.9 3002.5v-16.5M2423.7 2178.3v37M2423.7 3002.5v-37M1463.7 2178.3h-15M1463.7 2384.4h-15M1463.7 2590.4h-15M1463.7 2796.4h-15M1463.7 3002.5h-15" stroke="#0c0c0c" stroke-width="3.6" fill="none"/>
<text x="1434.2" y="2193.8" font-size="36.5" font-family='"Liberation Sans", Arial, Helvetica, sans-serif' fill="#111" text-anchor="end" stroke="#111" stroke-width="0.8" textLength="21.0" lengthAdjust="spacingAndGlyphs">1</text>
<text x="1434.2" y="2399.9" font-size="36.5" font-family='"Liberation Sans", Arial, Helvetica, sans-serif' fill="#111" text-anchor="end" stroke="#111" stroke-width="0.8" textLength="69.0" lengthAdjust="spacingAndGlyphs">0.5</text>
<text x="1434.2" y="2605.9" font-size="36.5" font-family='"Liberation Sans", Arial, Helvetica, sans-serif' fill="#111" text-anchor="end" stroke="#111" stroke-width="0.8" textLength="24.0" lengthAdjust="spacingAndGlyphs">0</text>
<text x="1434.2" y="2811.9" font-size="36.5" font-family='"Liberation Sans", Arial, Helvetica, sans-serif' fill="#111" text-anchor="end" stroke="#111" stroke-width="0.8" textLength="106.0" lengthAdjust="spacingAndGlyphs">−0.5</text>
<text x="1434.2" y="3018.0" font-size="36.5" font-family='"Liberation Sans", Arial, Helvetica, sans-serif' fill="#111" text-anchor="end" stroke="#111" stroke-width="0.8" textLength="57.0" lengthAdjust="spacingAndGlyphs">−1</text>
<text x="1534.8" y="3042.0" font-size="40" font-family='"Liberation Sans", Arial, Helvetica, sans-serif' fill="#111" text-anchor="middle" stroke="#111" stroke-width="0.8" textLength="57.5" lengthAdjust="spacingAndGlyphs">65</text>
<text x="1623.7" y="3042.0" font-size="40" font-family='"Liberation Sans", Arial, Helvetica, sans-serif' fill="#111" text-anchor="middle" stroke="#111" stroke-width="0.8" textLength="57.5" lengthAdjust="spacingAndGlyphs">70</text>
<text x="1712.6" y="3042.0" font-size="40" font-family='"Liberation Sans", Arial, Helvetica, sans-serif' fill="#111" text-anchor="middle" stroke="#111" stroke-width="0.8" textLength="57.5" lengthAdjust="spacingAndGlyphs">75</text>
<text x="1801.5" y="3042.0" font-size="40" font-family='"Liberation Sans", Arial, Helvetica, sans-serif' fill="#111" text-anchor="middle" stroke="#111" stroke-width="0.8" textLength="57.5" lengthAdjust="spacingAndGlyphs">80</text>
<text x="1890.4" y="3042.0" font-size="40" font-family='"Liberation Sans", Arial, Helvetica, sans-serif' fill="#111" text-anchor="middle" stroke="#111" stroke-width="0.8" textLength="57.5" lengthAdjust="spacingAndGlyphs">85</text>
<text x="1979.3" y="3042.0" font-size="40" font-family='"Liberation Sans", Arial, Helvetica, sans-serif' fill="#111" text-anchor="middle" stroke="#111" stroke-width="0.8" textLength="57.5" lengthAdjust="spacingAndGlyphs">90</text>
<text x="2068.2" y="3042.0" font-size="40" font-family='"Liberation Sans", Arial, Helvetica, sans-serif' fill="#111" text-anchor="middle" stroke="#111" stroke-width="0.8" textLength="57.5" lengthAdjust="spacingAndGlyphs">95</text>
<text x="2157.0" y="3042.0" font-size="40" font-family='"Liberation Sans", Arial, Helvetica, sans-serif' fill="#111" text-anchor="middle" stroke="#111" stroke-width="0.8" textLength="57.5" lengthAdjust="spacingAndGlyphs">00</text>
<text x="2245.9" y="3042.0" font-size="40" font-family='"Liberation Sans", Arial, Helvetica, sans-serif' fill="#111" text-anchor="middle" stroke="#111" stroke-width="0.8" textLength="57.5" lengthAdjust="spacingAndGlyphs">05</text>
<text x="2334.8" y="3042.0" font-size="40" font-family='"Liberation Sans", Arial, Helvetica, sans-serif' fill="#111" text-anchor="middle" stroke="#111" stroke-width="0.8" textLength="57.5" lengthAdjust="spacingAndGlyphs">10</text>
<text x="2423.7" y="3042.0" font-size="40" font-family='"Liberation Sans", Arial, Helvetica, sans-serif' fill="#111" text-anchor="middle" stroke="#111" stroke-width="0.8" textLength="57.5" lengthAdjust="spacingAndGlyphs">15</text>
<text x="1952.6" y="3089.0" font-size="40" font-family='"DejaVu Serif", "Liberation Serif", serif' fill="#111" text-anchor="middle" font-weight="bold" stroke="#111" stroke-width="0.5" textLength="102.0" lengthAdjust="spacingAndGlyphs">Year</text>
<text x="1470.2" y="2165.0" font-size="59" font-family='"Liberation Sans", Arial, Helvetica, sans-serif' fill="#111" stroke="#111" stroke-width="0.8" textLength="112.0" lengthAdjust="spacingAndGlyphs">PC3</text>
<text x="1311.5" y="2127.3" font-size="75" font-family='"Liberation Sans", Arial, Helvetica, sans-serif' fill="#111" stroke="#111" stroke-width="0.8" textLength="66.0" lengthAdjust="spacingAndGlyphs">g)</text>
<path d="M1463.7 3569.5H2441.5" stroke="#1a1a1a" stroke-width="2.8" fill="none"/>
<clipPath id="cch"><rect x="1461.7" y="3156.0" width="981.8" height="827.0"/></clipPath>
<polyline points="1463.7,3750.6 1481.5,3618.5 1499.3,3618.5 1517.0,3489.3 1534.8,3518.1 1552.6,3715.2 1570.4,3523.4 1588.1,3436.2 1605.9,3713.5 1623.7,3544.4 1641.5,3570.7 1659.3,3634.9 1677.0,3592.1 1694.8,3699.5 1712.6,3806.5 1730.4,3814.8 1748.2,3603.7 1765.9,3572.4 1783.7,3677.7 1801.5,3557.2 1819.3,3562.5 1837.0,3609.8 1854.8,3527.5 1872.6,3589.7 1890.4,3579.8 1908.2,3600.8 1925.9,3437.8 1943.7,3563.7 1961.5,3499.5 1979.3,3437.0 1997.0,3504.5 2014.8,3490.5 2032.6,3669.1 2050.4,3481.4 2068.2,3600.4 2085.9,3706.5 2103.7,3616.0 2121.5,3572.4 2139.3,3743.2 2157.0,3520.1 2174.8,3540.7 2192.6,3645.6 2210.4,3620.9 2228.2,3469.5 2245.9,3692.9 2263.7,3555.5 2281.5,3575.3 2299.3,3493.0 2317.1,3664.1 2334.8,3506.1 2352.6,3493.8 2370.4,3493.8 2388.2,3326.7 2405.9,3516.4 2423.7,3339.1 2441.5,3162.1" fill="none" stroke="#2146c6" stroke-width="4.2" stroke-linejoin="miter" stroke-miterlimit="6" clip-path="url(#cch)"/>
<rect x="1463.7" y="3158.0" width="977.8" height="823.0" fill="none" stroke="#0c0c0c" stroke-width="4.2"/>
<path d="M1481.5 3158.0v16.5M1481.5 3981.0v-16.5M1499.3 3158.0v16.5M1499.3 3981.0v-16.5M1517.0 3158.0v16.5M1517.0 3981.0v-16.5M1534.8 3158.0v37M1534.8 3981.0v-37M1552.6 3158.0v16.5M1552.6 3981.0v-16.5M1570.4 3158.0v16.5M1570.4 3981.0v-16.5M1588.1 3158.0v16.5M1588.1 3981.0v-16.5M1605.9 3158.0v16.5M1605.9 3981.0v-16.5M1623.7 3158.0v37M1623.7 3981.0v-37M1641.5 3158.0v16.5M1641.5 3981.0v-16.5M1659.3 3158.0v16.5M1659.3 3981.0v-16.5M1677.0 3158.0v16.5M1677.0 3981.0v-16.5M1694.8 3158.0v16.5M1694.8 3981.0v-16.5M1712.6 3158.0v37M1712.6 3981.0v-37M1730.4 3158.0v16.5M1730.4 3981.0v-16.5M1748.2 3158.0v16.5M1748.2 3981.0v-16.5M1765.9 3158.0v16.5M1765.9 3981.0v-16.5M1783.7 3158.0v16.5M1783.7 3981.0v-16.5M1801.5 3158.0v37M1801.5 3981.0v-37M1819.3 3158.0v16.5M1819.3 3981.0v-16.5M1837.0 3158.0v16.5M1837.0 3981.0v-16.5M1854.8 3158.0v16.5M1854.8 3981.0v-16.5M1872.6 3158.0v16.5M1872.6 3981.0v-16.5M1890.4 3158.0v37M1890.4 3981.0v-37M1908.2 3158.0v16.5M1908.2 3981.0v-16.5M1925.9 3158.0v16.5M1925.9 3981.0v-16.5M1943.7 3158.0v16.5M1943.7 3981.0v-16.5M1961.5 3158.0v16.5M1961.5 3981.0v-16.5M1979.3 3158.0v37M1979.3 3981.0v-37M1997.0 3158.0v16.5M1997.0 3981.0v-16.5M2014.8 3158.0v16.5M2014.8 3981.0v-16.5M2032.6 3158.0v16.5M2032.6 3981.0v-16.5M2050.4 3158.0v16.5M2050.4 3981.0v-16.5M2068.2 3158.0v37M2068.2 3981.0v-37M2085.9 3158.0v16.5M2085.9 3981.0v-16.5M2103.7 3158.0v16.5M2103.7 3981.0v-16.5M2121.5 3158.0v16.5M2121.5 3981.0v-16.5M2139.3 3158.0v16.5M2139.3 3981.0v-16.5M2157.0 3158.0v37M2157.0 3981.0v-37M2174.8 3158.0v16.5M2174.8 3981.0v-16.5M2192.6 3158.0v16.5M2192.6 3981.0v-16.5M2210.4 3158.0v16.5M2210.4 3981.0v-16.5M2228.2 3158.0v16.5M2228.2 3981.0v-16.5M2245.9 3158.0v37M2245.9 3981.0v-37M2263.7 3158.0v16.5M2263.7 3981.0v-16.5M2281.5 3158.0v16.5M2281.5 3981.0v-16.5M2299.3 3158.0v16.5M2299.3 3981.0v-16.5M2317.1 3158.0v16.5M2317.1 3981.0v-16.5M2334.8 3158.0v37M2334.8 3981.0v-37M2352.6 3158.0v16.5M2352.6 3981.0v-16.5M2370.4 3158.0v16.5M2370.4 3981.0v-16.5M2388.2 3158.0v16.5M2388.2 3981.0v-16.5M2405.9 3158.0v16.5M2405.9 3981.0v-16.5M2423.7 3158.0v37M2423.7 3981.0v-37M1463.7 3158.0h-15M1463.7 3363.8h-15M1463.7 3569.5h-15M1463.7 3775.2h-15M1463.7 3981.0h-15" stroke="#0c0c0c" stroke-width="3.6" fill="none"/>
<text x="1434.2" y="3173.5" font-size="36.5" font-family='"Liberation Sans", Arial, Helvetica, sans-serif' fill="#111" text-anchor="end" stroke="#111" stroke-width="0.8" textLength="21.0" lengthAdjust="spacingAndGlyphs">1</text>
<text x="1434.2" y="3379.2" font-size="36.5" font-family='"Liberation Sans", Arial, Helvetica, sans-serif' fill="#111" text-anchor="end" stroke="#111" stroke-width="0.8" textLength="69.0" lengthAdjust="spacingAndGlyphs">0.5</text>
<text x="1434.2" y="3585.0" font-size="36.5" font-family='"Liberation Sans", Arial, Helvetica, sans-serif' fill="#111" text-anchor="end" stroke="#111" stroke-width="0.8" textLength="24.0" lengthAdjust="spacingAndGlyphs">0</text>
<text x="1434.2" y="3790.8" font-size="36.5" font-family='"Liberation Sans", Arial, Helvetica, sans-serif' fill="#111" text-anchor="end" stroke="#111" stroke-width="0.8" textLength="106.0" lengthAdjust="spacingAndGlyphs">−0.5</text>
<text x="1434.2" y="3996.5" font-size="36.5" font-family='"Liberation Sans", Arial, Helvetica, sans-serif' fill="#111" text-anchor="end" stroke="#111" stroke-width="0.8" textLength="57.0" lengthAdjust="spacingAndGlyphs">−1</text>
<text x="1534.8" y="4020.5" font-size="40" font-family='"Liberation Sans", Arial, Helvetica, sans-serif' fill="#111" text-anchor="middle" stroke="#111" stroke-width="0.8" textLength="57.5" lengthAdjust="spacingAndGlyphs">65</text>
<text x="1623.7" y="4020.5" font-size="40" font-family='"Liberation Sans", Arial, Helvetica, sans-serif' fill="#111" text-anchor="middle" stroke="#111" stroke-width="0.8" textLength="57.5" lengthAdjust="spacingAndGlyphs">70</text>
<text x="1712.6" y="4020.5" font-size="40" font-family='"Liberation Sans", Arial, Helvetica, sans-serif' fill="#111" text-anchor="middle" stroke="#111" stroke-width="0.8" textLength="57.5" lengthAdjust="spacingAndGlyphs">75</text>
<text x="1801.5" y="4020.5" font-size="40" font-family='"Liberation Sans", Arial, Helvetica, sans-serif' fill="#111" text-anchor="middle" stroke="#111" stroke-width="0.8" textLength="57.5" lengthAdjust="spacingAndGlyphs">80</text>
<text x="1890.4" y="4020.5" font-size="40" font-family='"Liberation Sans", Arial, Helvetica, sans-serif' fill="#111" text-anchor="middle" stroke="#111" stroke-width="0.8" textLength="57.5" lengthAdjust="spacingAndGlyphs">85</text>
<text x="1979.3" y="4020.5" font-size="40" font-family='"Liberation Sans", Arial, Helvetica, sans-serif' fill="#111" text-anchor="middle" stroke="#111" stroke-width="0.8" textLength="57.5" lengthAdjust="spacingAndGlyphs">90</text>
<text x="2068.2" y="4020.5" font-size="40" font-family='"Liberation Sans", Arial, Helvetica, sans-serif' fill="#111" text-anchor="middle" stroke="#111" stroke-width="0.8" textLength="57.5" lengthAdjust="spacingAndGlyphs">95</text>
<text x="2157.0" y="4020.5" font-size="40" font-family='"Liberation Sans", Arial, Helvetica, sans-serif' fill="#111" text-anchor="middle" stroke="#111" stroke-width="0.8" textLength="57.5" lengthAdjust="spacingAndGlyphs">00</text>
<text x="2245.9" y="4020.5" font-size="40" font-family='"Liberation Sans", Arial, Helvetica, sans-serif' fill="#111" text-anchor="middle" stroke="#111" stroke-width="0.8" textLength="57.5" lengthAdjust="spacingAndGlyphs">05</text>
<text x="2334.8" y="4020.5" font-size="40" font-family='"Liberation Sans", Arial, Helvetica, sans-serif' fill="#111" text-anchor="middle" stroke="#111" stroke-width="0.8" textLength="57.5" lengthAdjust="spacingAndGlyphs">10</text>
<text x="2423.7" y="4020.5" font-size="40" font-family='"Liberation Sans", Arial, Helvetica, sans-serif' fill="#111" text-anchor="middle" stroke="#111" stroke-width="0.8" textLength="57.5" lengthAdjust="spacingAndGlyphs">15</text>
<text x="1952.6" y="4067.5" font-size="40" font-family='"DejaVu Serif", "Liberation Serif", serif' fill="#111" text-anchor="middle" font-weight="bold" stroke="#111" stroke-width="0.5" textLength="102.0" lengthAdjust="spacingAndGlyphs">Year</text>
<text x="1470.2" y="3144.7" font-size="59" font-family='"Liberation Sans", Arial, Helvetica, sans-serif' fill="#111" stroke="#111" stroke-width="0.8" textLength="112.0" lengthAdjust="spacingAndGlyphs">PC4</text>
<text x="1311.5" y="3107.0" font-size="75" font-family='"Liberation Sans", Arial, Helvetica, sans-serif' fill="#111" stroke="#111" stroke-width="0.8" textLength="66.0" lengthAdjust="spacingAndGlyphs">h)</text>
<rect x="1056.0" y="867.5" width="34.5" height="120.1" fill="#ff0a3c"/>
<rect x="1056.0" y="987.1" width="34.5" height="120.1" fill="#ff2f5b"/>
<rect x="1056.0" y="1106.7" width="34.5" height="120.1" fill="#ff5c7e"/>
<rect x="1056.0" y="1226.2" width="34.5" height="120.1" fill="#ff8ca1"/>
<rect x="1056.0" y="1345.8" width="34.5" height="120.1" fill="#ffb3c0"/>
<rect x="1056.0" y="1465.4" width="34.5" height="120.1" fill="#ffd9df"/>
<rect x="1056.0" y="1585.0" width="34.5" height="120.1" fill="#ffffff"/>
<rect x="1056.0" y="1704.5" width="34.5" height="120.1" fill="#d8e1f8"/>
<rect x="1056.0" y="1824.1" width="34.5" height="120.1" fill="#b9caf3"/>
<rect x="1056.0" y="1943.7" width="34.5" height="120.1" fill="#9bb4ef"/>
<rect x="1056.0" y="2063.3" width="34.5" height="120.1" fill="#7a9deb"/>
<rect x="1056.0" y="2182.8" width="34.5" height="120.1" fill="#4d82e8"/>
<rect x="1056.0" y="2302.4" width="34.5" height="120.1" fill="#1f63e4"/>
<path d="M1056.0 987.1H1090.5M1056.0 1106.7H1090.5M1056.0 1226.2H1090.5M1056.0 1345.8H1090.5M1056.0 1465.4H1090.5M1056.0 1585.0H1090.5M1056.0 1704.5H1090.5M1056.0 1824.1H1090.5M1056.0 1943.7H1090.5M1056.0 2063.3H1090.5M1056.0 2182.8H1090.5M1056.0 2302.4H1090.5" stroke="#120307" stroke-width="4.6" fill="none"/>
<rect x="1056.0" y="867.5" width="34.5" height="1554.5" fill="none" stroke="#120307" stroke-width="5"/>
<text x="1112.0" y="1007.1" font-size="44" font-family='"Liberation Sans", Arial, Helvetica, sans-serif' fill="#111" stroke="#111" stroke-width="0.8" textLength="72.0" lengthAdjust="spacingAndGlyphs">275</text>
<text x="1112.0" y="1126.7" font-size="44" font-family='"Liberation Sans", Arial, Helvetica, sans-serif' fill="#111" stroke="#111" stroke-width="0.8" textLength="72.0" lengthAdjust="spacingAndGlyphs">225</text>
<text x="1112.0" y="1246.2" font-size="44" font-family='"Liberation Sans", Arial, Helvetica, sans-serif' fill="#111" stroke="#111" stroke-width="0.8" textLength="72.0" lengthAdjust="spacingAndGlyphs">175</text>
<text x="1112.0" y="1365.8" font-size="44" font-family='"Liberation Sans", Arial, Helvetica, sans-serif' fill="#111" stroke="#111" stroke-width="0.8" textLength="72.0" lengthAdjust="spacingAndGlyphs">125</text>
<text x="1112.0" y="1485.4" font-size="44" font-family='"Liberation Sans", Arial, Helvetica, sans-serif' fill="#111" stroke="#111" stroke-width="0.8" textLength="47.0" lengthAdjust="spacingAndGlyphs">75</text>
<text x="1112.0" y="1605.0" font-size="44" font-family='"Liberation Sans", Arial, Helvetica, sans-serif' fill="#111" stroke="#111" stroke-width="0.8" textLength="47.0" lengthAdjust="spacingAndGlyphs">25</text>
<text x="1112.0" y="1724.5" font-size="44" font-family='"Liberation Sans", Arial, Helvetica, sans-serif' fill="#111" stroke="#111" stroke-width="0.8" textLength="64.0" lengthAdjust="spacingAndGlyphs">-25</text>
<text x="1112.0" y="1844.1" font-size="44" font-family='"Liberation Sans", Arial, Helvetica, sans-serif' fill="#111" stroke="#111" stroke-width="0.8" textLength="64.0" lengthAdjust="spacingAndGlyphs">-75</text>
<text x="1112.0" y="1963.7" font-size="44" font-family='"Liberation Sans", Arial, Helvetica, sans-serif' fill="#111" stroke="#111" stroke-width="0.8" textLength="89.0" lengthAdjust="spacingAndGlyphs">-125</text>
<text x="1112.0" y="2083.3" font-size="44" font-family='"Liberation Sans", Arial, Helvetica, sans-serif' fill="#111" stroke="#111" stroke-width="0.8" textLength="89.0" lengthAdjust="spacingAndGlyphs">-175</text>
<text x="1112.0" y="2202.8" font-size="44" font-family='"Liberation Sans", Arial, Helvetica, sans-serif' fill="#111" stroke="#111" stroke-width="0.8" textLength="89.0" lengthAdjust="spacingAndGlyphs">-225</text>
<text x="1112.0" y="2322.4" font-size="44" font-family='"Liberation Sans", Arial, Helvetica, sans-serif' fill="#111" stroke="#111" stroke-width="0.8" textLength="89.0" lengthAdjust="spacingAndGlyphs">-275</text>
<text x="0.0" y="0.0" font-size="60" font-family='"Liberation Sans", Arial, Helvetica, sans-serif' fill="#111" text-anchor="middle" stroke="#111" stroke-width="0.8" textLength="602.0" lengthAdjust="spacingAndGlyphs" transform="translate(1257.5,1677) rotate(-90)">annual precipitation, mm</text>
<text x="671.0" y="80.0" font-size="67.5" font-family='"Liberation Sans", Arial, Helvetica, sans-serif' fill="#111" stroke="#111" stroke-width="0.8" textLength="1171.0" lengthAdjust="spacingAndGlyphs">Annual total precipitation (1961-2016)</text>
</g>
</svg>
</body>
</html>
